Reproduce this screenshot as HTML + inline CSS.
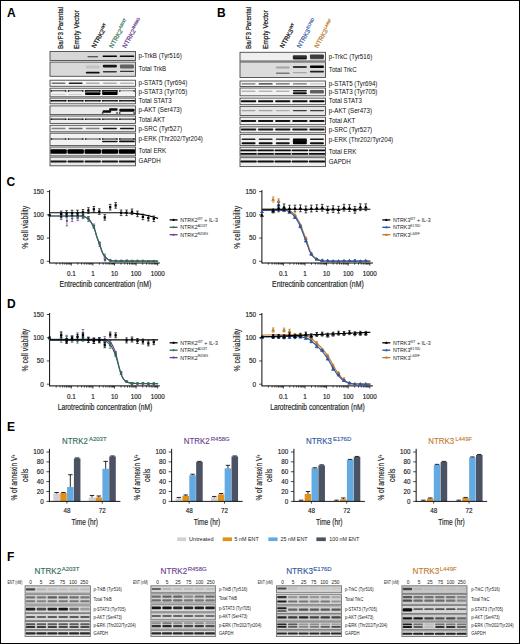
<!DOCTYPE html>
<html><head><meta charset="utf-8"><title>Figure</title>
<style>
html,body{margin:0;padding:0;background:#fff;}
body{width:520px;height:644px;overflow:hidden;font-family:"Liberation Sans", sans-serif;}
svg{display:block;}
svg text{font-family:"Liberation Sans", sans-serif;stroke-linejoin:round;}
svg text.h{stroke-width:0.18px;}
svg text.k{stroke:#222;stroke-width:0.16px;}
</style></head><body>
<svg width="520" height="644" viewBox="0 0 520 644">
<defs>
<filter id="b1" x="-20%" y="-100%" width="140%" height="300%"><feGaussianBlur stdDeviation="0.5"/></filter>
<filter id="b2" x="-20%" y="-100%" width="140%" height="300%"><feGaussianBlur stdDeviation="0.8"/></filter>
<filter id="bb" x="-5%" y="-5%" width="110%" height="110%"><feGaussianBlur stdDeviation="0.35"/></filter>
<filter id="b3" x="-20%" y="-100%" width="140%" height="300%"><feGaussianBlur stdDeviation="0.35"/></filter>

</defs>
<rect x="0" y="0" width="520" height="644" fill="#fff"/>
<text x="7.00" y="16.90" font-size="12" fill="#000" font-weight="bold" >A</text>
<text x="217.00" y="16.70" font-size="12" fill="#000" font-weight="bold" >B</text>
<text x="6.50" y="185.70" font-size="12" fill="#000" font-weight="bold" >C</text>
<text x="7.00" y="307.90" font-size="12" fill="#000" font-weight="bold" >D</text>
<text x="7.00" y="430.70" font-size="12" fill="#000" font-weight="bold" >E</text>
<text x="7.00" y="560.70" font-size="12" fill="#000" font-weight="bold" >F</text>
<g filter="url(#bb)">
<rect x="50.00" y="51.50" width="85.50" height="9.00" fill="#d6d6d6" stroke="none" stroke-width="0" />
<g clip-path="none">
<rect x="87.45" y="56.20" width="10.60" height="1.00" rx="0.50" fill="#000" fill-opacity="0.80" filter="url(#b1)"/>
<rect x="102.58" y="55.40" width="14.54" height="1.60" rx="0.80" fill="#000" fill-opacity="1.00" filter="url(#b1)"/>
<rect x="119.68" y="55.40" width="14.54" height="1.60" rx="0.80" fill="#000" fill-opacity="0.95" filter="url(#b1)"/>
</g>
<rect x="50.00" y="51.50" width="85.50" height="9.00" fill="none" stroke="#4a4a4a" stroke-width="0.9" />
<rect x="50.00" y="62.10" width="85.50" height="14.20" fill="#d9d9d9" stroke="none" stroke-width="0" />
<g clip-path="none">
<rect x="85.74" y="65.50" width="14.02" height="3.00" rx="1.00" fill="#000" fill-opacity="0.10" filter="url(#b1)"/>
<rect x="85.74" y="71.65" width="14.02" height="1.90" rx="0.95" fill="#000" fill-opacity="0.95" filter="url(#b1)"/>
<rect x="102.84" y="64.70" width="14.02" height="2.80" rx="1.00" fill="#000" fill-opacity="0.90" filter="url(#b1)"/>
<rect x="102.84" y="71.10" width="14.02" height="1.40" rx="0.70" fill="#000" fill-opacity="0.75" filter="url(#b1)"/>
<rect x="119.94" y="64.40" width="14.02" height="4.00" rx="1.00" fill="#000" fill-opacity="0.55" filter="url(#b1)"/>
<rect x="119.94" y="70.75" width="14.02" height="1.30" rx="0.65" fill="#000" fill-opacity="0.75" filter="url(#b1)"/>
</g>
<rect x="50.00" y="62.10" width="85.50" height="14.20" fill="none" stroke="#4a4a4a" stroke-width="0.9" />
<rect x="50.00" y="80.20" width="85.50" height="6.10" fill="#f4f4f4" stroke="none" stroke-width="0" />
<g clip-path="none">
<rect x="51.54" y="82.40" width="14.02" height="1.60" rx="0.80" fill="#000" fill-opacity="0.55" filter="url(#b1)"/>
<rect x="68.64" y="82.40" width="14.02" height="1.60" rx="0.80" fill="#000" fill-opacity="0.85" filter="url(#b1)"/>
<rect x="85.74" y="82.40" width="14.02" height="1.60" rx="0.80" fill="#000" fill-opacity="0.30" filter="url(#b1)"/>
<rect x="102.84" y="82.40" width="14.02" height="1.60" rx="0.80" fill="#000" fill-opacity="0.30" filter="url(#b1)"/>
<rect x="119.94" y="82.40" width="14.02" height="1.60" rx="0.80" fill="#000" fill-opacity="0.25" filter="url(#b1)"/>
</g>
<rect x="50.00" y="80.20" width="85.50" height="6.10" fill="none" stroke="#4a4a4a" stroke-width="0.9" />
<rect x="50.00" y="88.20" width="85.50" height="8.60" fill="#f2f2f2" stroke="none" stroke-width="0" />
<g clip-path="none">
<rect x="50.85" y="90.30" width="15.39" height="1.00" rx="0.50" fill="#000" fill-opacity="0.75" filter="url(#b1)"/>
<rect x="67.95" y="90.30" width="15.39" height="1.00" rx="0.50" fill="#000" fill-opacity="0.75" filter="url(#b1)"/>
<rect x="85.05" y="90.30" width="15.39" height="1.00" rx="0.50" fill="#000" fill-opacity="1.00" filter="url(#b1)"/>
<rect x="102.16" y="90.30" width="15.39" height="1.00" rx="0.50" fill="#000" fill-opacity="1.00" filter="url(#b1)"/>
<rect x="119.25" y="90.30" width="15.39" height="1.00" rx="0.50" fill="#000" fill-opacity="0.45" filter="url(#b1)"/>
<rect x="85.05" y="92.40" width="15.39" height="2.60" rx="1.00" fill="#000" fill-opacity="1.00" filter="url(#b1)"/>
<rect x="102.16" y="92.10" width="15.39" height="2.80" rx="1.00" fill="#000" fill-opacity="1.00" filter="url(#b1)"/>
<rect x="85.05" y="89.95" width="15.39" height="4.50" rx="1.00" fill="#000" fill-opacity="0.40" filter="url(#b1)"/>
<rect x="102.16" y="89.95" width="15.39" height="4.50" rx="1.00" fill="#000" fill-opacity="0.50" filter="url(#b1)"/>
<rect x="51.54" y="94.00" width="14.02" height="1.00" rx="0.50" fill="#000" fill-opacity="0.15" filter="url(#b1)"/>
<rect x="68.64" y="94.00" width="14.02" height="1.00" rx="0.50" fill="#000" fill-opacity="0.15" filter="url(#b1)"/>
</g>
<rect x="50.00" y="88.20" width="85.50" height="8.60" fill="none" stroke="#4a4a4a" stroke-width="0.9" />
<rect x="50.00" y="98.10" width="85.50" height="5.70" fill="#eeeeee" stroke="none" stroke-width="0" />
<g clip-path="none">
<rect x="50.68" y="100.05" width="15.73" height="1.50" rx="0.75" fill="#000" fill-opacity="0.90" filter="url(#b1)"/>
<rect x="67.78" y="100.05" width="15.73" height="1.50" rx="0.75" fill="#000" fill-opacity="0.85" filter="url(#b1)"/>
<rect x="84.88" y="100.05" width="15.73" height="1.50" rx="0.75" fill="#000" fill-opacity="0.85" filter="url(#b1)"/>
<rect x="101.98" y="100.05" width="15.73" height="1.50" rx="0.75" fill="#000" fill-opacity="0.85" filter="url(#b1)"/>
<rect x="119.08" y="100.05" width="15.73" height="1.50" rx="0.75" fill="#000" fill-opacity="0.85" filter="url(#b1)"/>
</g>
<rect x="50.00" y="98.10" width="85.50" height="5.70" fill="none" stroke="#4a4a4a" stroke-width="0.9" />
<rect x="50.00" y="105.90" width="85.50" height="8.70" fill="#ebebeb" stroke="none" stroke-width="0" />
<g clip-path="none">
<rect x="102.58" y="110.30" width="8.55" height="2.40" rx="1.00" fill="#000" fill-opacity="0.95" filter="url(#b1)"/>
<rect x="109.08" y="108.20" width="8.55" height="2.60" rx="1.00" fill="#000" fill-opacity="0.95" filter="url(#b1)"/>
<rect x="119.25" y="108.80" width="15.39" height="3.00" rx="1.00" fill="#000" fill-opacity="0.95" filter="url(#b1)"/>
</g>
<rect x="50.00" y="105.90" width="85.50" height="8.70" fill="none" stroke="#4a4a4a" stroke-width="0.9" />
<rect x="50.00" y="116.00" width="85.50" height="7.40" fill="#f0f0f0" stroke="none" stroke-width="0" />
<g clip-path="none">
<rect x="50.68" y="118.60" width="15.73" height="1.20" rx="0.60" fill="#000" fill-opacity="0.80" filter="url(#b1)"/>
<rect x="67.78" y="118.60" width="15.73" height="1.20" rx="0.60" fill="#000" fill-opacity="0.80" filter="url(#b1)"/>
<rect x="84.88" y="118.60" width="15.73" height="1.20" rx="0.60" fill="#000" fill-opacity="0.75" filter="url(#b1)"/>
<rect x="101.98" y="118.60" width="15.73" height="1.20" rx="0.60" fill="#000" fill-opacity="0.75" filter="url(#b1)"/>
<rect x="119.08" y="118.60" width="15.73" height="1.20" rx="0.60" fill="#000" fill-opacity="0.75" filter="url(#b1)"/>
</g>
<rect x="50.00" y="116.00" width="85.50" height="7.40" fill="none" stroke="#4a4a4a" stroke-width="0.9" />
<rect x="50.00" y="125.30" width="85.50" height="6.50" fill="#eeeeee" stroke="none" stroke-width="0" />
<g clip-path="none">
<rect x="51.54" y="127.80" width="14.02" height="1.40" rx="0.70" fill="#000" fill-opacity="0.45" filter="url(#b1)"/>
<rect x="68.64" y="127.80" width="14.02" height="1.40" rx="0.70" fill="#000" fill-opacity="0.55" filter="url(#b1)"/>
<rect x="85.74" y="127.80" width="14.02" height="1.40" rx="0.70" fill="#000" fill-opacity="0.45" filter="url(#b1)"/>
<rect x="102.84" y="127.80" width="14.02" height="1.40" rx="0.70" fill="#000" fill-opacity="0.90" filter="url(#b1)"/>
<rect x="119.94" y="127.80" width="14.02" height="1.40" rx="0.70" fill="#000" fill-opacity="0.90" filter="url(#b1)"/>
</g>
<rect x="50.00" y="125.30" width="85.50" height="6.50" fill="none" stroke="#4a4a4a" stroke-width="0.9" />
<rect x="50.00" y="133.20" width="85.50" height="12.40" fill="#f2f2f2" stroke="none" stroke-width="0" />
<g clip-path="none">
<rect x="50.68" y="138.50" width="15.73" height="1.00" rx="0.50" fill="#000" fill-opacity="0.75" filter="url(#b1)"/>
<rect x="67.78" y="138.50" width="15.73" height="1.00" rx="0.50" fill="#000" fill-opacity="0.75" filter="url(#b1)"/>
<rect x="84.88" y="138.50" width="15.73" height="1.00" rx="0.50" fill="#000" fill-opacity="0.70" filter="url(#b1)"/>
<rect x="101.98" y="138.50" width="15.73" height="1.00" rx="0.50" fill="#000" fill-opacity="0.90" filter="url(#b1)"/>
<rect x="119.08" y="138.50" width="15.73" height="1.00" rx="0.50" fill="#000" fill-opacity="0.95" filter="url(#b1)"/>
<rect x="101.98" y="140.70" width="15.73" height="1.60" rx="0.80" fill="#000" fill-opacity="0.90" filter="url(#b1)"/>
<rect x="119.08" y="140.50" width="15.73" height="1.80" rx="0.90" fill="#000" fill-opacity="0.95" filter="url(#b1)"/>
</g>
<rect x="50.00" y="133.20" width="85.50" height="12.40" fill="none" stroke="#4a4a4a" stroke-width="0.9" />
<rect x="50.00" y="147.00" width="85.50" height="8.90" fill="#e4e4e4" stroke="none" stroke-width="0" />
<g clip-path="none">
<rect x="50.34" y="149.20" width="16.42" height="4.60" rx="1.00" fill="#000" fill-opacity="1.00" filter="url(#b1)"/>
<rect x="67.44" y="149.20" width="16.42" height="4.60" rx="1.00" fill="#000" fill-opacity="1.00" filter="url(#b1)"/>
<rect x="84.54" y="149.20" width="16.42" height="4.60" rx="1.00" fill="#000" fill-opacity="1.00" filter="url(#b1)"/>
<rect x="101.64" y="149.20" width="16.42" height="4.60" rx="1.00" fill="#000" fill-opacity="1.00" filter="url(#b1)"/>
<rect x="118.74" y="149.20" width="16.42" height="4.60" rx="1.00" fill="#000" fill-opacity="1.00" filter="url(#b1)"/>
</g>
<rect x="50.00" y="147.00" width="85.50" height="8.90" fill="none" stroke="#4a4a4a" stroke-width="0.9" />
<rect x="50.00" y="157.10" width="85.50" height="8.70" fill="#eaeaea" stroke="none" stroke-width="0" />
<g clip-path="none">
<rect x="50.34" y="160.50" width="16.42" height="2.00" rx="1.00" fill="#000" fill-opacity="0.90" filter="url(#b1)"/>
<rect x="67.44" y="160.50" width="16.42" height="2.00" rx="1.00" fill="#000" fill-opacity="0.90" filter="url(#b1)"/>
<rect x="84.54" y="160.50" width="16.42" height="2.00" rx="1.00" fill="#000" fill-opacity="0.90" filter="url(#b1)"/>
<rect x="101.64" y="160.50" width="16.42" height="2.00" rx="1.00" fill="#000" fill-opacity="0.90" filter="url(#b1)"/>
<rect x="118.74" y="160.50" width="16.42" height="2.00" rx="1.00" fill="#000" fill-opacity="0.90" filter="url(#b1)"/>
</g>
<rect x="50.00" y="157.10" width="85.50" height="8.70" fill="none" stroke="#4a4a4a" stroke-width="0.9" />
</g>
<text x="0" y="0" font-size="6.6" fill="#111" transform="translate(138.60 57.95) scale(0.94 1)" >p-TrkB (Tyr516)</text>
<text x="0" y="0" font-size="6.6" fill="#111" transform="translate(138.60 71.15) scale(0.94 1)" >Total TrkB</text>
<text x="0" y="0" font-size="6.6" fill="#111" transform="translate(138.60 85.20) scale(0.94 1)" >p-STAT5 (Tyr694)</text>
<text x="0" y="0" font-size="6.6" fill="#111" transform="translate(138.60 94.45) scale(0.94 1)" >p-STAT3 (Tyr705)</text>
<text x="0" y="0" font-size="6.6" fill="#111" transform="translate(138.60 102.90) scale(0.94 1)" >Total STAT3</text>
<text x="0" y="0" font-size="6.6" fill="#111" transform="translate(138.60 112.20) scale(0.94 1)" >p-AKT (Ser473)</text>
<text x="0" y="0" font-size="6.6" fill="#111" transform="translate(138.60 121.65) scale(0.94 1)" >Total AKT</text>
<text x="0" y="0" font-size="6.6" fill="#111" transform="translate(138.60 130.50) scale(0.94 1)" >p-SRC (Tyr527)</text>
<text x="0" y="0" font-size="6.6" fill="#111" transform="translate(138.60 141.35) scale(0.94 1)" >p-ERK (Thr202/Tyr204)</text>
<text x="0" y="0" font-size="6.6" fill="#111" transform="translate(138.60 153.40) scale(0.94 1)" >Total ERK</text>
<text x="0" y="0" font-size="6.6" fill="#111" transform="translate(138.60 163.40) scale(0.94 1)" >GAPDH</text>
<g filter="url(#bb)">
<ellipse cx="51.37" cy="91.00" rx="0.9" ry="0.8" fill="#000" fill-opacity="0.9"/>
<ellipse cx="65.73" cy="91.00" rx="0.9" ry="0.8" fill="#000" fill-opacity="0.9"/>
<ellipse cx="68.47" cy="91.00" rx="0.9" ry="0.8" fill="#000" fill-opacity="0.9"/>
<ellipse cx="82.83" cy="91.00" rx="0.9" ry="0.8" fill="#000" fill-opacity="0.9"/>
<ellipse cx="85.57" cy="91.00" rx="0.9" ry="0.8" fill="#000" fill-opacity="0.9"/>
<ellipse cx="99.93" cy="91.00" rx="0.9" ry="0.8" fill="#000" fill-opacity="0.9"/>
<ellipse cx="102.67" cy="91.00" rx="0.9" ry="0.8" fill="#000" fill-opacity="0.9"/>
<ellipse cx="117.03" cy="91.00" rx="0.9" ry="0.8" fill="#000" fill-opacity="0.9"/>
<ellipse cx="119.77" cy="91.00" rx="0.9" ry="0.8" fill="#000" fill-opacity="0.9"/>
<ellipse cx="134.13" cy="91.00" rx="0.9" ry="0.8" fill="#000" fill-opacity="0.9"/>
<ellipse cx="51.37" cy="100.70" rx="0.9" ry="0.8" fill="#000" fill-opacity="0.9"/>
<ellipse cx="65.73" cy="100.70" rx="0.9" ry="0.8" fill="#000" fill-opacity="0.9"/>
<ellipse cx="68.47" cy="100.70" rx="0.9" ry="0.8" fill="#000" fill-opacity="0.9"/>
<ellipse cx="82.83" cy="100.70" rx="0.9" ry="0.8" fill="#000" fill-opacity="0.9"/>
<ellipse cx="85.57" cy="100.70" rx="0.9" ry="0.8" fill="#000" fill-opacity="0.9"/>
<ellipse cx="99.93" cy="100.70" rx="0.9" ry="0.8" fill="#000" fill-opacity="0.9"/>
<ellipse cx="102.67" cy="100.70" rx="0.9" ry="0.8" fill="#000" fill-opacity="0.9"/>
<ellipse cx="117.03" cy="100.70" rx="0.9" ry="0.8" fill="#000" fill-opacity="0.9"/>
<ellipse cx="119.77" cy="100.70" rx="0.9" ry="0.8" fill="#000" fill-opacity="0.9"/>
<ellipse cx="134.13" cy="100.70" rx="0.9" ry="0.8" fill="#000" fill-opacity="0.9"/>
<ellipse cx="51.37" cy="119.30" rx="0.9" ry="0.8" fill="#000" fill-opacity="0.8"/>
<ellipse cx="65.73" cy="119.30" rx="0.9" ry="0.8" fill="#000" fill-opacity="0.8"/>
<ellipse cx="68.47" cy="119.30" rx="0.9" ry="0.8" fill="#000" fill-opacity="0.8"/>
<ellipse cx="82.83" cy="119.30" rx="0.9" ry="0.8" fill="#000" fill-opacity="0.8"/>
<ellipse cx="85.57" cy="119.30" rx="0.9" ry="0.8" fill="#000" fill-opacity="0.8"/>
<ellipse cx="99.93" cy="119.30" rx="0.9" ry="0.8" fill="#000" fill-opacity="0.8"/>
<ellipse cx="102.67" cy="119.30" rx="0.9" ry="0.8" fill="#000" fill-opacity="0.8"/>
<ellipse cx="117.03" cy="119.30" rx="0.9" ry="0.8" fill="#000" fill-opacity="0.8"/>
<ellipse cx="119.77" cy="119.30" rx="0.9" ry="0.8" fill="#000" fill-opacity="0.8"/>
<ellipse cx="134.13" cy="119.30" rx="0.9" ry="0.8" fill="#000" fill-opacity="0.8"/>
<ellipse cx="51.37" cy="139.00" rx="0.9" ry="0.8" fill="#000" fill-opacity="0.85"/>
<ellipse cx="65.73" cy="139.00" rx="0.9" ry="0.8" fill="#000" fill-opacity="0.85"/>
<ellipse cx="68.47" cy="139.00" rx="0.9" ry="0.8" fill="#000" fill-opacity="0.85"/>
<ellipse cx="82.83" cy="139.00" rx="0.9" ry="0.8" fill="#000" fill-opacity="0.85"/>
<ellipse cx="85.57" cy="139.00" rx="0.9" ry="0.8" fill="#000" fill-opacity="0.85"/>
<ellipse cx="99.93" cy="139.00" rx="0.9" ry="0.8" fill="#000" fill-opacity="0.85"/>
<ellipse cx="102.67" cy="139.00" rx="0.9" ry="0.8" fill="#000" fill-opacity="0.85"/>
<ellipse cx="117.03" cy="139.00" rx="0.9" ry="0.8" fill="#000" fill-opacity="0.85"/>
<ellipse cx="119.77" cy="139.00" rx="0.9" ry="0.8" fill="#000" fill-opacity="0.85"/>
<ellipse cx="134.13" cy="139.00" rx="0.9" ry="0.8" fill="#000" fill-opacity="0.85"/>
<ellipse cx="102.67" cy="113.00" rx="0.9" ry="0.8" fill="#000" fill-opacity="0.95"/>
<ellipse cx="117.03" cy="113.00" rx="0.9" ry="0.8" fill="#000" fill-opacity="0.95"/>
<ellipse cx="119.77" cy="113.00" rx="0.9" ry="0.8" fill="#000" fill-opacity="0.95"/>
<ellipse cx="134.13" cy="113.00" rx="0.9" ry="0.8" fill="#000" fill-opacity="0.95"/>
</g>
<g filter="url(#bb)">
<rect x="240.00" y="52.30" width="85.50" height="8.70" fill="#efefef" stroke="none" stroke-width="0" />
<g clip-path="none">
<rect x="292.84" y="55.20" width="14.02" height="4.00" rx="1.00" fill="#000" fill-opacity="0.80" filter="url(#b1)"/>
<rect x="292.84" y="57.80" width="14.02" height="1.60" rx="0.80" fill="#000" fill-opacity="0.50" filter="url(#b1)"/>
<rect x="309.94" y="54.50" width="14.02" height="4.20" rx="1.00" fill="#000" fill-opacity="0.75" filter="url(#b1)"/>
<rect x="309.94" y="58.20" width="14.02" height="1.20" rx="0.60" fill="#000" fill-opacity="0.40" filter="url(#b1)"/>
</g>
<rect x="240.00" y="52.30" width="85.50" height="8.70" fill="none" stroke="#4a4a4a" stroke-width="0.9" />
<rect x="240.00" y="62.00" width="85.50" height="15.50" fill="#dcdcdc" stroke="none" stroke-width="0" />
<g clip-path="none">
<rect x="275.74" y="66.50" width="14.02" height="2.00" rx="1.00" fill="#000" fill-opacity="0.25" filter="url(#b1)"/>
<rect x="275.74" y="72.45" width="14.02" height="1.50" rx="0.75" fill="#000" fill-opacity="0.45" filter="url(#b1)"/>
<rect x="292.84" y="66.00" width="14.02" height="2.00" rx="1.00" fill="#000" fill-opacity="0.75" filter="url(#b1)"/>
<rect x="292.84" y="72.00" width="14.02" height="1.20" rx="0.60" fill="#000" fill-opacity="0.25" filter="url(#b1)"/>
<rect x="309.94" y="65.60" width="14.02" height="2.40" rx="1.00" fill="#000" fill-opacity="1.00" filter="url(#b1)"/>
<rect x="309.94" y="70.70" width="14.02" height="1.80" rx="0.90" fill="#000" fill-opacity="0.85" filter="url(#b1)"/>
</g>
<rect x="240.00" y="62.00" width="85.50" height="15.50" fill="none" stroke="#4a4a4a" stroke-width="0.9" />
<rect x="240.00" y="81.00" width="85.50" height="5.50" fill="#f4f4f4" stroke="none" stroke-width="0" />
<g clip-path="none">
<rect x="241.54" y="83.30" width="14.02" height="1.20" rx="0.60" fill="#000" fill-opacity="0.55" filter="url(#b1)"/>
<rect x="258.64" y="83.30" width="14.02" height="1.20" rx="0.60" fill="#000" fill-opacity="0.80" filter="url(#b1)"/>
<rect x="275.74" y="83.30" width="14.02" height="1.20" rx="0.60" fill="#000" fill-opacity="0.60" filter="url(#b1)"/>
<rect x="292.84" y="83.30" width="14.02" height="1.20" rx="0.60" fill="#000" fill-opacity="0.55" filter="url(#b1)"/>
<rect x="309.94" y="83.30" width="14.02" height="1.20" rx="0.60" fill="#000" fill-opacity="0.20" filter="url(#b1)"/>
</g>
<rect x="240.00" y="81.00" width="85.50" height="5.50" fill="none" stroke="#4a4a4a" stroke-width="0.9" />
<rect x="240.00" y="88.00" width="85.50" height="7.80" fill="#f2f2f2" stroke="none" stroke-width="0" />
<g clip-path="none">
<rect x="241.54" y="90.50" width="14.02" height="1.40" rx="0.70" fill="#000" fill-opacity="0.25" filter="url(#b1)"/>
<rect x="258.64" y="90.50" width="14.02" height="1.40" rx="0.70" fill="#000" fill-opacity="0.25" filter="url(#b1)"/>
<rect x="275.74" y="90.50" width="14.02" height="1.40" rx="0.70" fill="#000" fill-opacity="0.25" filter="url(#b1)"/>
<rect x="292.84" y="90.50" width="14.02" height="1.40" rx="0.70" fill="#000" fill-opacity="0.00" filter="url(#b1)"/>
<rect x="309.94" y="90.50" width="14.02" height="1.40" rx="0.70" fill="#000" fill-opacity="0.00" filter="url(#b1)"/>
<rect x="292.84" y="89.90" width="14.02" height="1.60" rx="0.80" fill="#000" fill-opacity="0.90" filter="url(#b1)"/>
<rect x="292.84" y="92.20" width="14.02" height="2.00" rx="1.00" fill="#000" fill-opacity="0.95" filter="url(#b1)"/>
<rect x="309.94" y="90.00" width="14.02" height="3.60" rx="1.00" fill="#000" fill-opacity="0.60" filter="url(#b1)"/>
</g>
<rect x="240.00" y="88.00" width="85.50" height="7.80" fill="none" stroke="#4a4a4a" stroke-width="0.9" />
<rect x="240.00" y="98.10" width="85.50" height="6.60" fill="#f2f2f2" stroke="none" stroke-width="0" />
<g clip-path="none">
<rect x="240.86" y="100.15" width="15.39" height="2.10" rx="1.00" fill="#000" fill-opacity="0.95" filter="url(#b1)"/>
<rect x="257.95" y="100.15" width="15.39" height="2.10" rx="1.00" fill="#000" fill-opacity="0.95" filter="url(#b1)"/>
<rect x="275.06" y="100.15" width="15.39" height="2.10" rx="1.00" fill="#000" fill-opacity="0.95" filter="url(#b1)"/>
<rect x="292.16" y="100.15" width="15.39" height="2.10" rx="1.00" fill="#000" fill-opacity="0.95" filter="url(#b1)"/>
<rect x="309.25" y="100.15" width="15.39" height="2.10" rx="1.00" fill="#000" fill-opacity="1.00" filter="url(#b1)"/>
</g>
<rect x="240.00" y="98.10" width="85.50" height="6.60" fill="none" stroke="#4a4a4a" stroke-width="0.9" />
<rect x="240.00" y="106.40" width="85.50" height="9.10" fill="#e6e6e6" stroke="none" stroke-width="0" />
<g clip-path="none">
<rect x="241.54" y="109.90" width="14.02" height="1.40" rx="0.70" fill="#000" fill-opacity="0.30" filter="url(#b1)"/>
<rect x="258.64" y="109.90" width="14.02" height="1.40" rx="0.70" fill="#000" fill-opacity="0.30" filter="url(#b1)"/>
<rect x="275.74" y="109.90" width="14.02" height="1.40" rx="0.70" fill="#000" fill-opacity="0.25" filter="url(#b1)"/>
<rect x="292.84" y="109.90" width="14.02" height="1.40" rx="0.70" fill="#000" fill-opacity="0.75" filter="url(#b1)"/>
<rect x="309.94" y="109.90" width="14.02" height="1.40" rx="0.70" fill="#000" fill-opacity="0.75" filter="url(#b1)"/>
</g>
<rect x="240.00" y="106.40" width="85.50" height="9.10" fill="none" stroke="#4a4a4a" stroke-width="0.9" />
<rect x="240.00" y="117.20" width="85.50" height="7.50" fill="#f0f0f0" stroke="none" stroke-width="0" />
<g clip-path="none">
<rect x="240.86" y="120.00" width="15.39" height="2.00" rx="1.00" fill="#000" fill-opacity="0.90" filter="url(#b1)"/>
<rect x="257.95" y="120.00" width="15.39" height="2.00" rx="1.00" fill="#000" fill-opacity="0.90" filter="url(#b1)"/>
<rect x="275.06" y="120.00" width="15.39" height="2.00" rx="1.00" fill="#000" fill-opacity="0.90" filter="url(#b1)"/>
<rect x="292.16" y="120.00" width="15.39" height="2.00" rx="1.00" fill="#000" fill-opacity="0.90" filter="url(#b1)"/>
<rect x="309.25" y="120.00" width="15.39" height="2.00" rx="1.00" fill="#000" fill-opacity="0.90" filter="url(#b1)"/>
</g>
<rect x="240.00" y="117.20" width="85.50" height="7.50" fill="none" stroke="#4a4a4a" stroke-width="0.9" />
<rect x="240.00" y="126.80" width="85.50" height="6.00" fill="#eeeeee" stroke="none" stroke-width="0" />
<g clip-path="none">
<rect x="240.86" y="128.40" width="15.39" height="2.00" rx="1.00" fill="#000" fill-opacity="0.90" filter="url(#b1)"/>
<rect x="257.95" y="128.40" width="15.39" height="2.00" rx="1.00" fill="#000" fill-opacity="0.90" filter="url(#b1)"/>
<rect x="275.06" y="128.40" width="15.39" height="2.00" rx="1.00" fill="#000" fill-opacity="0.90" filter="url(#b1)"/>
<rect x="292.16" y="128.40" width="15.39" height="2.00" rx="1.00" fill="#000" fill-opacity="0.90" filter="url(#b1)"/>
<rect x="309.25" y="128.40" width="15.39" height="2.00" rx="1.00" fill="#000" fill-opacity="0.90" filter="url(#b1)"/>
</g>
<rect x="240.00" y="126.80" width="85.50" height="6.00" fill="none" stroke="#4a4a4a" stroke-width="0.9" />
<rect x="240.00" y="134.40" width="85.50" height="11.20" fill="#f0f0f0" stroke="none" stroke-width="0" />
<g clip-path="none">
<rect x="241.54" y="138.45" width="14.02" height="1.50" rx="0.75" fill="#000" fill-opacity="0.85" filter="url(#b1)"/>
<rect x="258.64" y="138.45" width="14.02" height="1.50" rx="0.75" fill="#000" fill-opacity="0.80" filter="url(#b1)"/>
<rect x="275.74" y="138.45" width="14.02" height="1.50" rx="0.75" fill="#000" fill-opacity="0.75" filter="url(#b1)"/>
<rect x="292.84" y="138.45" width="14.02" height="1.50" rx="0.75" fill="#000" fill-opacity="1.00" filter="url(#b1)"/>
<rect x="309.94" y="138.45" width="14.02" height="1.50" rx="0.75" fill="#000" fill-opacity="0.90" filter="url(#b1)"/>
<rect x="241.54" y="142.15" width="14.02" height="2.10" rx="1.00" fill="#000" fill-opacity="0.95" filter="url(#b1)"/>
<rect x="258.64" y="142.15" width="14.02" height="2.10" rx="1.00" fill="#000" fill-opacity="0.95" filter="url(#b1)"/>
<rect x="275.74" y="142.15" width="14.02" height="2.10" rx="1.00" fill="#000" fill-opacity="0.90" filter="url(#b1)"/>
<rect x="292.84" y="142.15" width="14.02" height="2.10" rx="1.00" fill="#000" fill-opacity="1.00" filter="url(#b1)"/>
<rect x="309.94" y="142.15" width="14.02" height="2.10" rx="1.00" fill="#000" fill-opacity="0.95" filter="url(#b1)"/>
<rect x="292.84" y="139.40" width="14.02" height="3.60" rx="1.00" fill="#000" fill-opacity="0.95" filter="url(#b1)"/>
</g>
<rect x="240.00" y="134.40" width="85.50" height="11.20" fill="none" stroke="#4a4a4a" stroke-width="0.9" />
<rect x="240.00" y="147.20" width="85.50" height="8.90" fill="#ececec" stroke="none" stroke-width="0" />
<g clip-path="none">
<rect x="240.26" y="149.45" width="16.59" height="1.70" rx="0.85" fill="#000" fill-opacity="0.95" filter="url(#b1)"/>
<rect x="257.36" y="149.45" width="16.59" height="1.70" rx="0.85" fill="#000" fill-opacity="0.95" filter="url(#b1)"/>
<rect x="274.46" y="149.45" width="16.59" height="1.70" rx="0.85" fill="#000" fill-opacity="0.95" filter="url(#b1)"/>
<rect x="291.56" y="149.45" width="16.59" height="1.70" rx="0.85" fill="#000" fill-opacity="0.95" filter="url(#b1)"/>
<rect x="308.66" y="149.45" width="16.59" height="1.70" rx="0.85" fill="#000" fill-opacity="0.95" filter="url(#b1)"/>
<rect x="240.26" y="153.05" width="16.59" height="1.70" rx="0.85" fill="#000" fill-opacity="0.95" filter="url(#b1)"/>
<rect x="257.36" y="153.05" width="16.59" height="1.70" rx="0.85" fill="#000" fill-opacity="0.95" filter="url(#b1)"/>
<rect x="274.46" y="153.05" width="16.59" height="1.70" rx="0.85" fill="#000" fill-opacity="0.95" filter="url(#b1)"/>
<rect x="291.56" y="153.05" width="16.59" height="1.70" rx="0.85" fill="#000" fill-opacity="0.95" filter="url(#b1)"/>
<rect x="308.66" y="153.05" width="16.59" height="1.70" rx="0.85" fill="#000" fill-opacity="0.95" filter="url(#b1)"/>
</g>
<rect x="240.00" y="147.20" width="85.50" height="8.90" fill="none" stroke="#4a4a4a" stroke-width="0.9" />
<rect x="240.00" y="157.70" width="85.50" height="8.90" fill="#eeeeee" stroke="none" stroke-width="0" />
<g clip-path="none">
<rect x="240.26" y="160.60" width="16.59" height="2.00" rx="1.00" fill="#000" fill-opacity="0.95" filter="url(#b1)"/>
<rect x="257.36" y="160.60" width="16.59" height="2.00" rx="1.00" fill="#000" fill-opacity="0.95" filter="url(#b1)"/>
<rect x="274.46" y="160.60" width="16.59" height="2.00" rx="1.00" fill="#000" fill-opacity="0.95" filter="url(#b1)"/>
<rect x="291.56" y="160.60" width="16.59" height="2.00" rx="1.00" fill="#000" fill-opacity="0.95" filter="url(#b1)"/>
<rect x="308.66" y="160.60" width="16.59" height="2.00" rx="1.00" fill="#000" fill-opacity="0.95" filter="url(#b1)"/>
</g>
<rect x="240.00" y="157.70" width="85.50" height="8.90" fill="none" stroke="#4a4a4a" stroke-width="0.9" />
</g>
<text x="0" y="0" font-size="6.6" fill="#111" transform="translate(328.80 58.60) scale(0.94 1)" >p-TrkC (Tyr516)</text>
<text x="0" y="0" font-size="6.6" fill="#111" transform="translate(328.80 71.70) scale(0.94 1)" >Total TrkC</text>
<text x="0" y="0" font-size="6.6" fill="#111" transform="translate(328.80 85.70) scale(0.94 1)" >p-STAT5 (Tyr694)</text>
<text x="0" y="0" font-size="6.6" fill="#111" transform="translate(328.80 93.85) scale(0.94 1)" >p-STAT3 (Tyr705)</text>
<text x="0" y="0" font-size="6.6" fill="#111" transform="translate(328.80 103.35) scale(0.94 1)" >Total STAT3</text>
<text x="0" y="0" font-size="6.6" fill="#111" transform="translate(328.80 112.90) scale(0.94 1)" >p-AKT (Ser473)</text>
<text x="0" y="0" font-size="6.6" fill="#111" transform="translate(328.80 122.90) scale(0.94 1)" >Total AKT</text>
<text x="0" y="0" font-size="6.6" fill="#111" transform="translate(328.80 131.75) scale(0.94 1)" >p-SRC (Tyr527)</text>
<text x="0" y="0" font-size="6.6" fill="#111" transform="translate(328.80 141.95) scale(0.94 1)" >p-ERK (Thr202/Tyr204)</text>
<text x="0" y="0" font-size="6.6" fill="#111" transform="translate(328.80 153.60) scale(0.94 1)" >Total ERK</text>
<text x="0" y="0" font-size="6.6" fill="#111" transform="translate(328.80 164.10) scale(0.94 1)" >GAPDH</text>
<text x="62.60" y="48.90" font-size="6.5" fill="#111" textLength="42" lengthAdjust="spacingAndGlyphs" transform="rotate(-90 62.60 48.90)" stroke="#111" stroke-width="0.2">Ba/F3 Parental</text>
<text x="79.20" y="48.90" font-size="6.5" fill="#111" textLength="38.8" lengthAdjust="spacingAndGlyphs" transform="rotate(-90 79.20 48.90)" stroke="#111" stroke-width="0.2">Empty Vector</text>
<text x="250.60" y="48.90" font-size="6.5" fill="#111" textLength="42" lengthAdjust="spacingAndGlyphs" transform="rotate(-90 250.60 48.90)" stroke="#111" stroke-width="0.2">Ba/F3 Parental</text>
<text x="268.20" y="48.90" font-size="6.5" fill="#111" textLength="38.8" lengthAdjust="spacingAndGlyphs" transform="rotate(-90 268.20 48.90)" stroke="#111" stroke-width="0.2">Empty Vector</text>
<text x="95.00" y="48.50" font-size="6.3" fill="#111" stroke="#111" stroke-width="0.22" transform="rotate(-60 95.00 48.50)">NTRK2<tspan font-size="3.91" dy="-2.52">WT</tspan></text>
<text x="112.60" y="48.50" font-size="6.3" fill="#3c7a5c" stroke="#3c7a5c" stroke-width="0.22" transform="rotate(-60 112.60 48.50)">NTRK2<tspan font-size="3.91" dy="-2.52">A203T</tspan></text>
<text x="125.80" y="48.50" font-size="6.3" fill="#6a3f8f" stroke="#6a3f8f" stroke-width="0.22" transform="rotate(-60 125.80 48.50)">NTRK2<tspan font-size="3.91" dy="-2.52">R458G</tspan></text>
<text x="283.30" y="48.50" font-size="6.3" fill="#111" stroke="#111" stroke-width="0.22" transform="rotate(-60 283.30 48.50)">NTRK3<tspan font-size="3.91" dy="-2.52">WT</tspan></text>
<text x="300.30" y="48.50" font-size="6.3" fill="#3a62a8" stroke="#3a62a8" stroke-width="0.22" transform="rotate(-60 300.30 48.50)">NTRK3<tspan font-size="3.91" dy="-2.52">E176D</tspan></text>
<text x="317.80" y="48.50" font-size="6.3" fill="#c07a30" stroke="#c07a30" stroke-width="0.22" transform="rotate(-60 317.80 48.50)">NTRK3<tspan font-size="3.91" dy="-2.52">L449F</tspan></text>
<line x1="49.60" y1="190.10" x2="49.60" y2="263.40" stroke="#000" stroke-width="0.95" />
<line x1="46.80" y1="261.30" x2="49.60" y2="261.30" stroke="#000" stroke-width="0.7" />
<text x="0" y="0" font-size="7.0" fill="#222" transform="translate(43.90 263.60) scale(0.92 1)" text-anchor="end" class="k">0</text>
<line x1="46.80" y1="238.06" x2="49.60" y2="238.06" stroke="#000" stroke-width="0.7" />
<text x="0" y="0" font-size="7.0" fill="#222" transform="translate(43.90 240.37) scale(0.92 1)" text-anchor="end" class="k">50</text>
<line x1="46.80" y1="214.83" x2="49.60" y2="214.83" stroke="#000" stroke-width="0.7" />
<text x="0" y="0" font-size="7.0" fill="#222" transform="translate(43.90 217.13) scale(0.92 1)" text-anchor="end" class="k">100</text>
<line x1="46.80" y1="191.60" x2="49.60" y2="191.60" stroke="#000" stroke-width="0.7" />
<text x="0" y="0" font-size="7.0" fill="#222" transform="translate(43.90 193.90) scale(0.92 1)" text-anchor="end" class="k">150</text>
<line x1="49.60" y1="263.00" x2="159.80" y2="263.00" stroke="#000" stroke-width="1.0" />
<path d="M56.20 263.00v1.6M60.01 263.00v1.6M62.70 263.00v1.6M64.80 263.00v1.6M66.51 263.00v1.6M67.95 263.00v1.6M69.21 263.00v1.6M70.31 263.00v1.6M71.30 263.00v2.6M77.80 263.00v1.6M81.61 263.00v1.6M84.30 263.00v1.6M86.40 263.00v1.6M88.11 263.00v1.6M89.55 263.00v1.6M90.81 263.00v1.6M91.91 263.00v1.6M92.90 263.00v2.6M99.40 263.00v1.6M103.21 263.00v1.6M105.90 263.00v1.6M108.00 263.00v1.6M109.71 263.00v1.6M111.15 263.00v1.6M112.41 263.00v1.6M113.51 263.00v1.6M114.50 263.00v2.6M121.00 263.00v1.6M124.81 263.00v1.6M127.50 263.00v1.6M129.60 263.00v1.6M131.31 263.00v1.6M132.75 263.00v1.6M134.01 263.00v1.6M135.11 263.00v1.6M136.10 263.00v2.6M142.60 263.00v1.6M146.41 263.00v1.6M149.10 263.00v1.6M151.20 263.00v1.6M152.91 263.00v1.6M154.35 263.00v1.6M155.61 263.00v1.6M156.71 263.00v1.6M157.70 263.00v2.6" stroke="#000" stroke-width="0.75" fill="none"/>
<text x="0" y="0" font-size="7.0" fill="#222" transform="translate(71.30 275.90) scale(0.9 1)" text-anchor="middle" class="k">0.1</text>
<text x="0" y="0" font-size="7.0" fill="#222" transform="translate(92.90 275.90) scale(0.9 1)" text-anchor="middle" class="k">1</text>
<text x="0" y="0" font-size="7.0" fill="#222" transform="translate(114.50 275.90) scale(0.9 1)" text-anchor="middle" class="k">10</text>
<text x="0" y="0" font-size="7.0" fill="#222" transform="translate(136.10 275.90) scale(0.9 1)" text-anchor="middle" class="k">100</text>
<text x="0" y="0" font-size="7.0" fill="#222" transform="translate(157.70 275.90) scale(0.9 1)" text-anchor="middle" class="k">1000</text>
<text x="59.60" y="287.20" font-size="8.2" fill="#222" textLength="91.6" lengthAdjust="spacingAndGlyphs" class="k">Entrectinib concentration (nM)</text>
<text x="27.60" y="227.25" font-size="8.2" fill="#222" text-anchor="middle" textLength="42.8" lengthAdjust="spacingAndGlyphs" transform="rotate(-90 27.60 227.25)" class="k">% cell viability</text>
<polyline points="49.60,215.99 50.10,215.99 50.60,215.99 51.10,215.99 51.60,215.99 52.10,215.99 52.60,215.99 53.10,215.99 53.60,215.99 54.10,215.99 54.60,215.99 55.10,215.99 55.60,215.99 56.10,215.99 56.60,215.99 57.10,215.99 57.60,215.99 58.10,215.99 58.60,215.99 59.10,215.99 59.60,215.99 60.10,215.99 60.60,215.99 61.10,215.99 61.60,215.99 62.10,215.99 62.60,215.99 63.10,215.99 63.60,215.99 64.10,215.99 64.60,215.99 65.10,215.99 65.60,215.99 66.10,215.99 66.60,215.99 67.10,215.99 67.60,215.99 68.10,215.99 68.60,215.99 69.10,215.99 69.60,215.99 70.10,215.99 70.60,215.99 71.10,215.99 71.60,215.99 72.10,215.99 72.60,215.99 73.10,215.99 73.60,215.99 74.10,215.99 74.60,215.99 75.10,215.99 75.60,215.99 76.10,215.99 76.60,215.99 77.10,215.99 77.60,215.99 78.10,215.99 78.60,215.99 79.10,215.99 79.60,215.99 80.10,216.00 80.60,216.02 81.10,216.07 81.60,216.13 82.10,216.21 82.60,216.30 83.10,216.39 83.60,216.50 84.10,216.64 84.60,216.81 85.10,217.02 85.60,217.25 86.10,217.52 86.60,217.81 87.10,218.12 87.60,218.46 88.10,218.82 88.60,219.21 89.10,219.72 89.60,220.32 90.10,221.00 90.60,221.74 91.10,222.52 91.60,223.33 92.10,224.16 92.60,225.06 93.10,226.04 93.60,227.11 94.10,228.28 94.60,229.59 95.10,231.17 95.60,232.92 96.10,234.70 96.60,236.40 97.10,237.89 97.60,239.23 98.10,240.49 98.60,241.73 99.10,243.02 99.60,244.39 100.10,245.97 100.60,247.66 101.10,249.33 101.60,250.84 102.10,252.03 102.60,253.06 103.10,254.02 103.60,254.89 104.10,255.68 104.60,256.39 105.10,256.99 105.60,257.50 106.10,257.97 106.60,258.42 107.10,258.84 107.60,259.23 108.10,259.56 108.60,259.85 109.10,260.08 109.60,260.25 110.10,260.37 110.60,260.49 111.10,260.59 111.60,260.69 112.10,260.78 112.60,260.86 113.10,260.93 113.60,260.99 114.10,261.04 114.60,261.08 115.10,261.10 115.60,261.11 116.10,261.11 116.60,261.11 117.10,261.11 117.60,261.11 118.10,261.11 118.60,261.11 119.10,261.11 119.60,261.11 120.10,261.11 120.60,261.11 121.10,261.11 121.60,261.11 122.10,261.11 122.60,261.11 123.10,261.11 123.60,261.11 124.10,261.11 124.60,261.11 125.10,261.11 125.60,261.11 126.10,261.11 126.60,261.11 127.10,261.11 127.60,261.11 128.10,261.11 128.60,261.11 129.10,261.11 129.60,261.11 130.10,261.11 130.60,261.11 131.10,261.11 131.60,261.11 132.10,261.11 132.60,261.11 133.10,261.11 133.60,261.11 134.10,261.11 134.60,261.11 135.10,261.11 135.60,261.11 136.10,261.11 136.60,261.11 137.10,261.11 137.60,261.11 138.10,261.11 138.60,261.11 139.10,261.11 139.60,261.11 140.10,261.11 140.60,261.11 141.10,261.11 141.60,261.11 142.10,261.11 142.60,261.11 143.10,261.11 143.60,261.11 144.10,261.11 144.60,261.11 145.10,261.11 145.60,261.11 146.10,261.11 146.60,261.11 147.10,261.11 147.60,261.11 148.10,261.11 148.60,261.11 149.10,261.11 149.60,261.11 150.10,261.11 150.60,261.11 151.10,261.11 151.60,261.11 152.10,261.11 152.60,261.11 153.10,261.11 153.60,261.11 154.10,261.11 154.60,261.11 155.10,261.11 155.60,261.11 156.10,261.11 156.60,261.11 157.10,261.11 157.60,261.11 158.10,261.11" fill="none" stroke="#6b3d8e" stroke-width="1.15"/>
<path d="M66.90 215.87V225.87M65.60 215.87H68.20M65.60 225.87H68.20" stroke="#6b3d8e" stroke-width="0.7" fill="none"/>
<circle cx="66.90" cy="220.87" r="1.15" fill="#6b3d8e"/>
<path d="M72.20 215.55V221.55M70.90 215.55H73.50M70.90 221.55H73.50" stroke="#6b3d8e" stroke-width="0.7" fill="none"/>
<circle cx="72.20" cy="218.55" r="1.15" fill="#6b3d8e"/>
<path d="M61.15 214.65V219.65M59.85 214.65H62.45M59.85 219.65H62.45" stroke="#6b3d8e" stroke-width="0.7" fill="none"/>
<circle cx="61.15" cy="217.15" r="1.15" fill="#6b3d8e"/>
<path d="M77.80 214.62V220.62M76.50 214.62H79.10M76.50 220.62H79.10" stroke="#6b3d8e" stroke-width="0.7" fill="none"/>
<circle cx="77.80" cy="217.62" r="1.15" fill="#6b3d8e"/>
<path d="M83.10 214.69V218.69M81.80 214.69H84.40M81.80 218.69H84.40" stroke="#6b3d8e" stroke-width="0.7" fill="none"/>
<circle cx="83.10" cy="216.69" r="1.15" fill="#6b3d8e"/>
<path d="M88.40 216.51V221.51M87.10 216.51H89.70M87.10 221.51H89.70" stroke="#6b3d8e" stroke-width="0.7" fill="none"/>
<circle cx="88.40" cy="219.01" r="1.15" fill="#6b3d8e"/>
<path d="M93.90 223.98V227.98M92.60 223.98H95.20M92.60 227.98H95.20" stroke="#6b3d8e" stroke-width="0.7" fill="none"/>
<circle cx="93.90" cy="225.98" r="1.15" fill="#6b3d8e"/>
<path d="M99.70 242.57V246.57M98.40 242.57H101.00M98.40 246.57H101.00" stroke="#6b3d8e" stroke-width="0.7" fill="none"/>
<circle cx="99.70" cy="244.57" r="1.15" fill="#6b3d8e"/>
<path d="M105.00 258.91V260.91M103.70 258.91H106.30M103.70 260.91H106.30" stroke="#6b3d8e" stroke-width="0.7" fill="none"/>
<circle cx="105.00" cy="259.91" r="1.15" fill="#6b3d8e"/>
<path d="M110.50 260.34V261.34M109.20 260.34H111.80M109.20 261.34H111.80" stroke="#6b3d8e" stroke-width="0.7" fill="none"/>
<circle cx="110.50" cy="260.84" r="1.15" fill="#6b3d8e"/>
<path d="M115.90 260.34V261.34M114.60 260.34H117.20M114.60 261.34H117.20" stroke="#6b3d8e" stroke-width="0.7" fill="none"/>
<circle cx="115.90" cy="260.84" r="1.15" fill="#6b3d8e"/>
<path d="M121.60 260.43V261.43M120.30 260.43H122.90M120.30 261.43H122.90" stroke="#6b3d8e" stroke-width="0.7" fill="none"/>
<circle cx="121.60" cy="260.93" r="1.15" fill="#6b3d8e"/>
<path d="M126.90 260.10V261.10M125.60 260.10H128.20M125.60 261.10H128.20" stroke="#6b3d8e" stroke-width="0.7" fill="none"/>
<circle cx="126.90" cy="260.60" r="1.15" fill="#6b3d8e"/>
<path d="M132.20 260.57V261.57M130.90 260.57H133.50M130.90 261.57H133.50" stroke="#6b3d8e" stroke-width="0.7" fill="none"/>
<circle cx="132.20" cy="261.07" r="1.15" fill="#6b3d8e"/>
<polyline points="49.60,215.99 50.10,215.99 50.60,215.99 51.10,215.99 51.60,215.99 52.10,215.99 52.60,215.99 53.10,215.99 53.60,215.99 54.10,215.99 54.60,215.99 55.10,215.99 55.60,215.99 56.10,215.99 56.60,215.99 57.10,215.99 57.60,215.99 58.10,215.99 58.60,215.99 59.10,215.99 59.60,215.99 60.10,215.99 60.60,215.99 61.10,215.99 61.60,215.99 62.10,215.99 62.60,215.99 63.10,215.99 63.60,215.99 64.10,215.99 64.60,215.99 65.10,215.99 65.60,215.99 66.10,215.99 66.60,215.99 67.10,215.99 67.60,215.99 68.10,215.99 68.60,215.99 69.10,215.99 69.60,215.99 70.10,215.99 70.60,215.99 71.10,215.99 71.60,215.99 72.10,215.99 72.60,215.99 73.10,215.99 73.60,215.99 74.10,215.99 74.60,215.99 75.10,215.99 75.60,215.99 76.10,215.99 76.60,215.99 77.10,215.99 77.60,215.99 78.10,215.99 78.60,215.99 79.10,215.99 79.60,215.99 80.10,215.99 80.60,216.01 81.10,216.05 81.60,216.11 82.10,216.18 82.60,216.26 83.10,216.35 83.60,216.45 84.10,216.58 84.60,216.74 85.10,216.93 85.60,217.16 86.10,217.41 86.60,217.69 87.10,217.99 87.60,218.32 88.10,218.67 88.60,219.04 89.10,219.50 89.60,220.07 90.10,220.71 90.60,221.43 91.10,222.20 91.60,223.01 92.10,223.82 92.60,224.69 93.10,225.64 93.60,226.67 94.10,227.80 94.60,229.03 95.10,230.51 95.60,232.21 96.10,233.99 96.60,235.74 97.10,237.32 97.60,238.71 98.10,239.99 98.60,241.24 99.10,242.49 99.60,243.83 100.10,245.32 100.60,246.98 101.10,248.68 101.60,250.26 102.10,251.60 102.60,252.66 103.10,253.64 103.60,254.55 104.10,255.38 104.60,256.12 105.10,256.76 105.60,257.30 106.10,257.79 106.60,258.25 107.10,258.68 107.60,259.08 108.10,259.43 108.60,259.74 109.10,260.00 109.60,260.19 110.10,260.33 110.60,260.44 111.10,260.55 111.60,260.65 112.10,260.75 112.60,260.83 113.10,260.91 113.60,260.97 114.10,261.02 114.60,261.07 115.10,261.10 115.60,261.11 116.10,261.11 116.60,261.11 117.10,261.11 117.60,261.11 118.10,261.11 118.60,261.11 119.10,261.11 119.60,261.11 120.10,261.11 120.60,261.11 121.10,261.11 121.60,261.11 122.10,261.11 122.60,261.11 123.10,261.11 123.60,261.11 124.10,261.11 124.60,261.11 125.10,261.11 125.60,261.11 126.10,261.11 126.60,261.11 127.10,261.11 127.60,261.11 128.10,261.11 128.60,261.11 129.10,261.11 129.60,261.11 130.10,261.11 130.60,261.11 131.10,261.11 131.60,261.11 132.10,261.11 132.60,261.11 133.10,261.11 133.60,261.11 134.10,261.11 134.60,261.11 135.10,261.11 135.60,261.11 136.10,261.11 136.60,261.11 137.10,261.11 137.60,261.11 138.10,261.11 138.60,261.11 139.10,261.11 139.60,261.11 140.10,261.11 140.60,261.11 141.10,261.11 141.60,261.11 142.10,261.11 142.60,261.11 143.10,261.11 143.60,261.11 144.10,261.11 144.60,261.11 145.10,261.11 145.60,261.11 146.10,261.11 146.60,261.11 147.10,261.11 147.60,261.11 148.10,261.11 148.60,261.11 149.10,261.11 149.60,261.11 150.10,261.11 150.60,261.11 151.10,261.11 151.60,261.11 152.10,261.11 152.60,261.11 153.10,261.11 153.60,261.11 154.10,261.11 154.60,261.11 155.10,261.11 155.60,261.11 156.10,261.11 156.60,261.11 157.10,261.11 157.60,261.11 158.10,261.11" fill="none" stroke="#2f6b55" stroke-width="1.15"/>
<circle cx="49.60" cy="215.99" r="1.15" fill="#2f6b55"/>
<path d="M61.15 214.79V217.92M59.85 214.79H62.45M59.85 217.92H62.45" stroke="#2f6b55" stroke-width="0.7" fill="none"/>
<circle cx="61.15" cy="216.36" r="1.15" fill="#2f6b55"/>
<path d="M66.60 214.52V217.83M65.30 214.52H67.90M65.30 217.83H67.90" stroke="#2f6b55" stroke-width="0.7" fill="none"/>
<circle cx="66.60" cy="216.17" r="1.15" fill="#2f6b55"/>
<path d="M72.05 214.97V216.66M70.75 214.97H73.35M70.75 216.66H73.35" stroke="#2f6b55" stroke-width="0.7" fill="none"/>
<circle cx="72.05" cy="215.82" r="1.15" fill="#2f6b55"/>
<path d="M77.50 214.66V218.68M76.20 214.66H78.80M76.20 218.68H78.80" stroke="#2f6b55" stroke-width="0.7" fill="none"/>
<circle cx="77.50" cy="216.67" r="1.15" fill="#2f6b55"/>
<path d="M82.95 215.56V217.76M81.65 215.56H84.25M81.65 217.76H84.25" stroke="#2f6b55" stroke-width="0.7" fill="none"/>
<circle cx="82.95" cy="216.66" r="1.15" fill="#2f6b55"/>
<path d="M88.40 216.74V219.66M87.10 216.74H89.70M87.10 219.66H89.70" stroke="#2f6b55" stroke-width="0.7" fill="none"/>
<circle cx="88.40" cy="218.20" r="1.15" fill="#2f6b55"/>
<path d="M93.85 225.29V228.22M92.55 225.29H95.15M92.55 228.22H95.15" stroke="#2f6b55" stroke-width="0.7" fill="none"/>
<circle cx="93.85" cy="226.75" r="1.15" fill="#2f6b55"/>
<path d="M99.30 241.85V243.80M98.00 241.85H100.60M98.00 243.80H100.60" stroke="#2f6b55" stroke-width="0.7" fill="none"/>
<circle cx="99.30" cy="242.82" r="1.15" fill="#2f6b55"/>
<path d="M104.75 254.08V258.18M103.45 254.08H106.05M103.45 258.18H106.05" stroke="#2f6b55" stroke-width="0.7" fill="none"/>
<circle cx="104.75" cy="256.13" r="1.15" fill="#2f6b55"/>
<path d="M110.20 259.71V260.95M108.90 259.71H111.50M108.90 260.95H111.50" stroke="#2f6b55" stroke-width="0.7" fill="none"/>
<circle cx="110.20" cy="260.33" r="1.15" fill="#2f6b55"/>
<circle cx="115.65" cy="260.98" r="1.15" fill="#2f6b55"/>
<path d="M121.10 260.38V261.47M119.80 260.38H122.40M119.80 261.47H122.40" stroke="#2f6b55" stroke-width="0.7" fill="none"/>
<circle cx="121.10" cy="260.92" r="1.15" fill="#2f6b55"/>
<circle cx="126.55" cy="261.26" r="1.15" fill="#2f6b55"/>
<path d="M132.00 260.36V261.33M130.70 260.36H133.30M130.70 261.33H133.30" stroke="#2f6b55" stroke-width="0.7" fill="none"/>
<circle cx="132.00" cy="260.84" r="1.15" fill="#2f6b55"/>
<path d="M137.45 260.26V261.64M136.15 260.26H138.75M136.15 261.64H138.75" stroke="#2f6b55" stroke-width="0.7" fill="none"/>
<circle cx="137.45" cy="260.95" r="1.15" fill="#2f6b55"/>
<path d="M142.90 260.24V261.67M141.60 260.24H144.20M141.60 261.67H144.20" stroke="#2f6b55" stroke-width="0.7" fill="none"/>
<circle cx="142.90" cy="260.95" r="1.15" fill="#2f6b55"/>
<path d="M148.35 260.54V261.84M147.05 260.54H149.65M147.05 261.84H149.65" stroke="#2f6b55" stroke-width="0.7" fill="none"/>
<circle cx="148.35" cy="261.19" r="1.15" fill="#2f6b55"/>
<path d="M153.80 260.44V261.87M152.50 260.44H155.10M152.50 261.87H155.10" stroke="#2f6b55" stroke-width="0.7" fill="none"/>
<circle cx="153.80" cy="261.16" r="1.15" fill="#2f6b55"/>
<polyline points="49.60,212.79 50.10,212.79 50.60,212.79 51.10,212.79 51.60,212.79 52.10,212.79 52.60,212.79 53.10,212.79 53.60,212.79 54.10,212.79 54.60,212.79 55.10,212.79 55.60,212.79 56.10,212.79 56.60,212.79 57.10,212.79 57.60,212.79 58.10,212.79 58.60,212.79 59.10,212.79 59.60,212.79 60.10,212.79 60.60,212.79 61.10,212.79 61.60,212.79 62.10,212.79 62.60,212.79 63.10,212.79 63.60,212.79 64.10,212.79 64.60,212.79 65.10,212.79 65.60,212.79 66.10,212.79 66.60,212.79 67.10,212.79 67.60,212.79 68.10,212.79 68.60,212.79 69.10,212.79 69.60,212.79 70.10,212.79 70.60,212.79 71.10,212.79 71.60,212.79 72.10,212.79 72.60,212.79 73.10,212.79 73.60,212.79 74.10,212.79 74.60,212.79 75.10,212.79 75.60,212.79 76.10,212.79 76.60,212.79 77.10,212.79 77.60,212.79 78.10,212.79 78.60,212.79 79.10,212.79 79.60,212.79 80.10,212.79 80.60,212.79 81.10,212.79 81.60,212.79 82.10,212.79 82.60,212.79 83.10,212.79 83.60,212.79 84.10,212.79 84.60,212.79 85.10,212.79 85.60,212.79 86.10,212.79 86.60,212.79 87.10,212.79 87.60,212.79 88.10,212.79 88.60,212.79 89.10,212.79 89.60,212.79 90.10,212.79 90.60,212.79 91.10,212.79 91.60,212.79 92.10,212.79 92.60,212.79 93.10,212.79 93.60,212.79 94.10,212.79 94.60,212.79 95.10,212.79 95.60,212.79 96.10,212.79 96.60,212.79 97.10,212.79 97.60,212.79 98.10,212.79 98.60,212.79 99.10,212.79 99.60,212.79 100.10,212.79 100.60,212.79 101.10,212.79 101.60,212.79 102.10,212.79 102.60,212.79 103.10,212.79 103.60,212.79 104.10,212.79 104.60,212.79 105.10,212.79 105.60,212.79 106.10,212.79 106.60,212.79 107.10,212.79 107.60,212.79 108.10,212.79 108.60,212.79 109.10,212.79 109.60,212.79 110.10,212.79 110.60,212.79 111.10,212.79 111.60,212.79 112.10,212.79 112.60,212.79 113.10,212.79 113.60,212.79 114.10,212.79 114.60,212.79 115.10,212.79 115.60,212.79 116.10,212.79 116.60,212.79 117.10,212.79 117.60,212.79 118.10,212.79 118.60,212.79 119.10,212.79 119.60,212.79 120.10,212.79 120.60,212.79 121.10,212.79 121.60,212.79 122.10,212.79 122.60,212.80 123.10,212.81 123.60,212.82 124.10,212.83 124.60,212.84 125.10,212.85 125.60,212.87 126.10,212.88 126.60,212.90 127.10,212.92 127.60,212.95 128.10,212.97 128.60,213.00 129.10,213.03 129.60,213.06 130.10,213.09 130.60,213.12 131.10,213.16 131.60,213.20 132.10,213.24 132.60,213.28 133.10,213.32 133.60,213.37 134.10,213.41 134.60,213.47 135.10,213.52 135.60,213.57 136.10,213.63 136.60,213.69 137.10,213.75 137.60,213.81 138.10,213.88 138.60,213.94 139.10,214.01 139.60,214.08 140.10,214.16 140.60,214.24 141.10,214.31 141.60,214.39 142.10,214.48 142.60,214.56 143.10,214.65 143.60,214.74 144.10,214.83 144.60,214.93 145.10,215.02 145.60,215.12 146.10,215.23 146.60,215.33 147.10,215.44 147.60,215.54 148.10,215.66 148.60,215.77 149.10,215.89 149.60,216.00 150.10,216.12 150.60,216.25 151.10,216.37 151.60,216.50 152.10,216.63 152.60,216.77 153.10,216.90 153.60,217.04 154.10,217.18 154.60,217.32 155.10,217.47 155.60,217.62 156.10,217.77 156.60,217.92 157.10,218.08 157.60,218.23 158.10,218.39" fill="none" stroke="#000" stroke-width="1.15"/>
<rect x="48.45" y="213.95" width="2.30" height="2.30" fill="#000"/>
<path d="M61.15 211.10V216.70M59.85 211.10H62.45M59.85 216.70H62.45" stroke="#000" stroke-width="0.7" fill="none"/>
<rect x="60.00" y="212.75" width="2.30" height="2.30" fill="#000"/>
<path d="M66.60 210.70V216.30M65.30 210.70H67.90M65.30 216.30H67.90" stroke="#000" stroke-width="0.7" fill="none"/>
<rect x="65.45" y="212.35" width="2.30" height="2.30" fill="#000"/>
<path d="M72.05 210.20V215.80M70.75 210.20H73.35M70.75 215.80H73.35" stroke="#000" stroke-width="0.7" fill="none"/>
<rect x="70.90" y="211.85" width="2.30" height="2.30" fill="#000"/>
<path d="M77.50 210.20V215.80M76.20 210.20H78.80M76.20 215.80H78.80" stroke="#000" stroke-width="0.7" fill="none"/>
<rect x="76.35" y="211.85" width="2.30" height="2.30" fill="#000"/>
<path d="M82.95 209.50V215.10M81.65 209.50H84.25M81.65 215.10H84.25" stroke="#000" stroke-width="0.7" fill="none"/>
<rect x="81.80" y="211.15" width="2.30" height="2.30" fill="#000"/>
<path d="M88.40 207.70V213.30M87.10 207.70H89.70M87.10 213.30H89.70" stroke="#000" stroke-width="0.7" fill="none"/>
<rect x="87.25" y="209.35" width="2.30" height="2.30" fill="#000"/>
<path d="M93.85 206.50V212.10M92.55 206.50H95.15M92.55 212.10H95.15" stroke="#000" stroke-width="0.7" fill="none"/>
<rect x="92.70" y="208.15" width="2.30" height="2.30" fill="#000"/>
<path d="M99.30 208.80V214.40M98.00 208.80H100.60M98.00 214.40H100.60" stroke="#000" stroke-width="0.7" fill="none"/>
<rect x="98.15" y="210.45" width="2.30" height="2.30" fill="#000"/>
<path d="M104.75 214.60V220.20M103.45 214.60H106.05M103.45 220.20H106.05" stroke="#000" stroke-width="0.7" fill="none"/>
<rect x="103.60" y="216.25" width="2.30" height="2.30" fill="#000"/>
<path d="M110.20 204.40V210.00M108.90 204.40H111.50M108.90 210.00H111.50" stroke="#000" stroke-width="0.7" fill="none"/>
<rect x="109.05" y="206.05" width="2.30" height="2.30" fill="#000"/>
<path d="M115.65 202.60V208.20M114.35 202.60H116.95M114.35 208.20H116.95" stroke="#000" stroke-width="0.7" fill="none"/>
<rect x="114.50" y="204.25" width="2.30" height="2.30" fill="#000"/>
<path d="M121.10 210.00V215.60M119.80 210.00H122.40M119.80 215.60H122.40" stroke="#000" stroke-width="0.7" fill="none"/>
<rect x="119.95" y="211.65" width="2.30" height="2.30" fill="#000"/>
<path d="M126.55 210.00V215.60M125.25 210.00H127.85M125.25 215.60H127.85" stroke="#000" stroke-width="0.7" fill="none"/>
<rect x="125.40" y="211.65" width="2.30" height="2.30" fill="#000"/>
<path d="M132.00 209.00V214.60M130.70 209.00H133.30M130.70 214.60H133.30" stroke="#000" stroke-width="0.7" fill="none"/>
<rect x="130.85" y="210.65" width="2.30" height="2.30" fill="#000"/>
<path d="M137.45 211.10V216.70M136.15 211.10H138.75M136.15 216.70H138.75" stroke="#000" stroke-width="0.7" fill="none"/>
<rect x="136.30" y="212.75" width="2.30" height="2.30" fill="#000"/>
<path d="M142.90 214.10V219.70M141.60 214.10H144.20M141.60 219.70H144.20" stroke="#000" stroke-width="0.7" fill="none"/>
<rect x="141.75" y="215.75" width="2.30" height="2.30" fill="#000"/>
<path d="M148.35 215.30V220.90M147.05 215.30H149.65M147.05 220.90H149.65" stroke="#000" stroke-width="0.7" fill="none"/>
<rect x="147.20" y="216.95" width="2.30" height="2.30" fill="#000"/>
<path d="M153.80 216.00V221.60M152.50 216.00H155.10M152.50 221.60H155.10" stroke="#000" stroke-width="0.7" fill="none"/>
<rect x="152.65" y="217.65" width="2.30" height="2.30" fill="#000"/>
<line x1="169.60" y1="219.90" x2="177.60" y2="219.90" stroke="#000" stroke-width="1.3" />
<rect x="172.60" y="218.90" width="2.00" height="2.00" fill="#000"/>
<text x="0" y="0" transform="translate(180.20 221.90) scale(0.92 1)" font-size="5.8" fill="#222">NTRK2<tspan font-size="3.6" dy="-2.2">WT</tspan><tspan dy="2.2"> + IL-3</tspan></text>
<line x1="169.60" y1="227.30" x2="177.60" y2="227.30" stroke="#2f6b55" stroke-width="1.3" />
<circle cx="173.60" cy="227.30" r="1.00" fill="#2f6b55"/>
<text x="0" y="0" transform="translate(180.20 229.30) scale(0.92 1)" font-size="5.8" fill="#222">NTRK2<tspan font-size="3.6" dy="-2.2">A203T</tspan><tspan dy="2.2"></tspan></text>
<line x1="169.60" y1="234.70" x2="177.60" y2="234.70" stroke="#6b3d8e" stroke-width="1.3" />
<circle cx="173.60" cy="234.70" r="1.00" fill="#6b3d8e"/>
<text x="0" y="0" transform="translate(180.20 236.70) scale(0.92 1)" font-size="5.8" fill="#222">NTRK2<tspan font-size="3.6" dy="-2.2">R458G</tspan><tspan dy="2.2"></tspan></text>
<line x1="261.90" y1="190.10" x2="261.90" y2="263.40" stroke="#000" stroke-width="0.95" />
<line x1="259.10" y1="261.30" x2="261.90" y2="261.30" stroke="#000" stroke-width="0.7" />
<text x="0" y="0" font-size="7.0" fill="#222" transform="translate(256.20 263.60) scale(0.92 1)" text-anchor="end" class="k">0</text>
<line x1="259.10" y1="238.06" x2="261.90" y2="238.06" stroke="#000" stroke-width="0.7" />
<text x="0" y="0" font-size="7.0" fill="#222" transform="translate(256.20 240.37) scale(0.92 1)" text-anchor="end" class="k">50</text>
<line x1="259.10" y1="214.83" x2="261.90" y2="214.83" stroke="#000" stroke-width="0.7" />
<text x="0" y="0" font-size="7.0" fill="#222" transform="translate(256.20 217.13) scale(0.92 1)" text-anchor="end" class="k">100</text>
<line x1="259.10" y1="191.60" x2="261.90" y2="191.60" stroke="#000" stroke-width="0.7" />
<text x="0" y="0" font-size="7.0" fill="#222" transform="translate(256.20 193.90) scale(0.92 1)" text-anchor="end" class="k">150</text>
<line x1="261.90" y1="263.00" x2="372.90" y2="263.00" stroke="#000" stroke-width="1.0" />
<path d="M268.30 263.00v1.6M272.11 263.00v1.6M274.80 263.00v1.6M276.90 263.00v1.6M278.61 263.00v1.6M280.05 263.00v1.6M281.31 263.00v1.6M282.41 263.00v1.6M283.40 263.00v2.6M289.90 263.00v1.6M293.71 263.00v1.6M296.40 263.00v1.6M298.50 263.00v1.6M300.21 263.00v1.6M301.65 263.00v1.6M302.91 263.00v1.6M304.01 263.00v1.6M305.00 263.00v2.6M311.50 263.00v1.6M315.31 263.00v1.6M318.00 263.00v1.6M320.10 263.00v1.6M321.81 263.00v1.6M323.25 263.00v1.6M324.51 263.00v1.6M325.61 263.00v1.6M326.60 263.00v2.6M333.10 263.00v1.6M336.91 263.00v1.6M339.60 263.00v1.6M341.70 263.00v1.6M343.41 263.00v1.6M344.85 263.00v1.6M346.11 263.00v1.6M347.21 263.00v1.6M348.20 263.00v2.6M354.70 263.00v1.6M358.51 263.00v1.6M361.20 263.00v1.6M363.30 263.00v1.6M365.01 263.00v1.6M366.45 263.00v1.6M367.71 263.00v1.6M368.81 263.00v1.6M369.80 263.00v2.6" stroke="#000" stroke-width="0.75" fill="none"/>
<text x="0" y="0" font-size="7.0" fill="#222" transform="translate(283.40 275.90) scale(0.9 1)" text-anchor="middle" class="k">0.1</text>
<text x="0" y="0" font-size="7.0" fill="#222" transform="translate(305.00 275.90) scale(0.9 1)" text-anchor="middle" class="k">1</text>
<text x="0" y="0" font-size="7.0" fill="#222" transform="translate(326.60 275.90) scale(0.9 1)" text-anchor="middle" class="k">10</text>
<text x="0" y="0" font-size="7.0" fill="#222" transform="translate(348.20 275.90) scale(0.9 1)" text-anchor="middle" class="k">100</text>
<text x="0" y="0" font-size="7.0" fill="#222" transform="translate(369.80 275.90) scale(0.9 1)" text-anchor="middle" class="k">1000</text>
<text x="272.10" y="287.20" font-size="8.2" fill="#222" textLength="91.6" lengthAdjust="spacingAndGlyphs" class="k">Entrectinib concentration (nM)</text>
<text x="239.90" y="227.25" font-size="8.2" fill="#222" text-anchor="middle" textLength="42.8" lengthAdjust="spacingAndGlyphs" transform="rotate(-90 239.90 227.25)" class="k">% cell viability</text>
<polyline points="261.90,209.44 262.40,209.44 262.90,209.44 263.40,209.44 263.90,209.44 264.40,209.44 264.90,209.44 265.40,209.44 265.90,209.44 266.40,209.44 266.90,209.44 267.40,209.44 267.90,209.44 268.40,209.44 268.90,209.44 269.40,209.44 269.90,209.44 270.40,209.44 270.90,209.44 271.40,209.44 271.90,209.44 272.40,209.44 272.90,209.44 273.40,209.44 273.90,209.44 274.40,209.44 274.90,209.44 275.40,209.44 275.90,209.44 276.40,209.44 276.90,209.44 277.40,209.44 277.90,209.44 278.40,209.44 278.90,209.44 279.40,209.44 279.90,209.44 280.40,209.44 280.90,209.44 281.40,209.44 281.90,209.44 282.40,209.44 282.90,209.44 283.40,209.44 283.90,209.44 284.40,209.44 284.90,209.44 285.40,209.44 285.90,209.45 286.40,209.51 286.90,209.61 287.40,209.75 287.90,209.92 288.40,210.12 288.90,210.34 289.40,210.58 289.90,210.82 290.40,211.07 290.90,211.36 291.40,211.71 291.90,212.11 292.40,212.56 292.90,213.05 293.40,213.57 293.90,214.11 294.40,214.69 294.90,215.28 295.40,215.89 295.90,216.56 296.40,217.27 296.90,218.03 297.40,218.83 297.90,219.68 298.40,220.56 298.90,221.47 299.40,222.42 299.90,223.42 300.40,224.53 300.90,225.73 301.40,226.98 301.90,228.26 302.40,229.54 302.90,230.84 303.40,232.17 303.90,233.52 304.40,234.89 304.90,236.26 305.40,237.62 305.90,238.98 306.40,240.35 306.90,241.71 307.40,243.08 307.90,244.44 308.40,245.84 308.90,247.32 309.40,248.81 309.90,250.22 310.40,251.45 310.90,252.42 311.40,253.27 311.90,254.07 312.40,254.82 312.90,255.51 313.40,256.14 313.90,256.71 314.40,257.21 314.90,257.63 315.40,257.98 315.90,258.28 316.40,258.58 316.90,258.86 317.40,259.13 317.90,259.38 318.40,259.62 318.90,259.85 319.40,260.05 319.90,260.24 320.40,260.40 320.90,260.55 321.40,260.67 321.90,260.76 322.40,260.83 322.90,260.87 323.40,260.90 323.90,260.93 324.40,260.95 324.90,260.98 325.40,261.00 325.90,261.02 326.40,261.04 326.90,261.05 327.40,261.07 327.90,261.08 328.40,261.09 328.90,261.10 329.40,261.10 329.90,261.11 330.40,261.11 330.90,261.11 331.40,261.11 331.90,261.11 332.40,261.11 332.90,261.11 333.40,261.11 333.90,261.11 334.40,261.11 334.90,261.11 335.40,261.11 335.90,261.11 336.40,261.11 336.90,261.11 337.40,261.11 337.90,261.11 338.40,261.11 338.90,261.11 339.40,261.11 339.90,261.11 340.40,261.11 340.90,261.11 341.40,261.11 341.90,261.11 342.40,261.11 342.90,261.11 343.40,261.11 343.90,261.11 344.40,261.11 344.90,261.11 345.40,261.11 345.90,261.11 346.40,261.11 346.90,261.11 347.40,261.11 347.90,261.11 348.40,261.11 348.90,261.11 349.40,261.11 349.90,261.11 350.40,261.11 350.90,261.11 351.40,261.11 351.90,261.11 352.40,261.11 352.90,261.11 353.40,261.11 353.90,261.11 354.40,261.11 354.90,261.11 355.40,261.11 355.90,261.11 356.40,261.11 356.90,261.11 357.40,261.11 357.90,261.11 358.40,261.11 358.90,261.11 359.40,261.11 359.90,261.11 360.40,261.11 360.90,261.11 361.40,261.11 361.90,261.11 362.40,261.11 362.90,261.11 363.40,261.11 363.90,261.11 364.40,261.11 364.90,261.11 365.40,261.11 365.90,261.11 366.40,261.11 366.90,261.11 367.40,261.11 367.90,261.11 368.40,261.11 368.90,261.11 369.40,261.11 369.90,261.11 370.40,261.11" fill="none" stroke="#c27a2e" stroke-width="1.15"/>
<path d="M273.15 196.89V202.09M271.85 196.89H274.45M271.85 202.09H274.45" stroke="#c27a2e" stroke-width="0.7" fill="none"/>
<path d="M273.15 197.45L275.17 200.86L271.13 200.86Z" fill="#c27a2e"/>
<path d="M278.60 198.89V202.89M277.30 198.89H279.90M277.30 202.89H279.90" stroke="#c27a2e" stroke-width="0.7" fill="none"/>
<path d="M278.60 198.85L280.62 202.25L276.58 202.25Z" fill="#c27a2e"/>
<path d="M284.05 208.05V209.49M282.75 208.05H285.35M282.75 209.49H285.35" stroke="#c27a2e" stroke-width="0.7" fill="none"/>
<path d="M284.05 206.73L286.07 210.13L282.03 210.13Z" fill="#c27a2e"/>
<path d="M289.50 210.32V212.12M288.20 210.32H290.80M288.20 212.12H290.80" stroke="#c27a2e" stroke-width="0.7" fill="none"/>
<path d="M289.50 209.18L291.52 212.58L287.48 212.58Z" fill="#c27a2e"/>
<path d="M294.95 214.33V215.56M293.65 214.33H296.25M293.65 215.56H296.25" stroke="#c27a2e" stroke-width="0.7" fill="none"/>
<path d="M294.95 212.90L296.97 216.31L292.93 216.31Z" fill="#c27a2e"/>
<path d="M300.40 224.44V225.77M299.10 224.44H301.70M299.10 225.77H301.70" stroke="#c27a2e" stroke-width="0.7" fill="none"/>
<path d="M300.40 223.06L302.42 226.47L298.38 226.47Z" fill="#c27a2e"/>
<path d="M305.85 237.19V239.21M304.55 237.19H307.15M304.55 239.21H307.15" stroke="#c27a2e" stroke-width="0.7" fill="none"/>
<path d="M305.85 236.16L307.87 239.56L303.83 239.56Z" fill="#c27a2e"/>
<path d="M311.30 253.04V254.23M310.00 253.04H312.60M310.00 254.23H312.60" stroke="#c27a2e" stroke-width="0.7" fill="none"/>
<path d="M311.30 251.59L313.32 255.00L309.28 255.00Z" fill="#c27a2e"/>
<path d="M316.75 257.03L318.77 260.43L314.73 260.43Z" fill="#c27a2e"/>
<path d="M322.20 260.25V260.92M320.90 260.25H323.50M320.90 260.92H323.50" stroke="#c27a2e" stroke-width="0.7" fill="none"/>
<path d="M322.20 258.54L324.22 261.95L320.18 261.95Z" fill="#c27a2e"/>
<path d="M327.65 260.55V261.50M326.35 260.55H328.95M326.35 261.50H328.95" stroke="#c27a2e" stroke-width="0.7" fill="none"/>
<path d="M327.65 258.99L329.67 262.39L325.63 262.39Z" fill="#c27a2e"/>
<path d="M333.10 260.72V261.96M331.80 260.72H334.40M331.80 261.96H334.40" stroke="#c27a2e" stroke-width="0.7" fill="none"/>
<path d="M333.10 259.30L335.12 262.70L331.08 262.70Z" fill="#c27a2e"/>
<path d="M338.55 260.81V261.96M337.25 260.81H339.85M337.25 261.96H339.85" stroke="#c27a2e" stroke-width="0.7" fill="none"/>
<path d="M338.55 259.34L340.57 262.75L336.53 262.75Z" fill="#c27a2e"/>
<path d="M344.00 260.94V261.86M342.70 260.94H345.30M342.70 261.86H345.30" stroke="#c27a2e" stroke-width="0.7" fill="none"/>
<path d="M344.00 259.35L346.02 262.76L341.98 262.76Z" fill="#c27a2e"/>
<path d="M349.45 260.94V261.71M348.15 260.94H350.75M348.15 261.71H350.75" stroke="#c27a2e" stroke-width="0.7" fill="none"/>
<path d="M349.45 259.28L351.47 262.69L347.43 262.69Z" fill="#c27a2e"/>
<path d="M354.90 260.11V261.41M353.60 260.11H356.20M353.60 261.41H356.20" stroke="#c27a2e" stroke-width="0.7" fill="none"/>
<path d="M354.90 258.72L356.92 262.12L352.88 262.12Z" fill="#c27a2e"/>
<path d="M360.35 260.56V261.95M359.05 260.56H361.65M359.05 261.95H361.65" stroke="#c27a2e" stroke-width="0.7" fill="none"/>
<path d="M360.35 259.21L362.37 262.62L358.33 262.62Z" fill="#c27a2e"/>
<path d="M365.80 260.88V261.77M364.50 260.88H367.10M364.50 261.77H367.10" stroke="#c27a2e" stroke-width="0.7" fill="none"/>
<path d="M365.80 259.28L367.82 262.69L363.78 262.69Z" fill="#c27a2e"/>
<polyline points="261.90,210.37 262.40,210.37 262.90,210.37 263.40,210.37 263.90,210.37 264.40,210.37 264.90,210.37 265.40,210.37 265.90,210.37 266.40,210.37 266.90,210.37 267.40,210.37 267.90,210.37 268.40,210.37 268.90,210.37 269.40,210.37 269.90,210.37 270.40,210.37 270.90,210.37 271.40,210.37 271.90,210.37 272.40,210.37 272.90,210.37 273.40,210.37 273.90,210.37 274.40,210.37 274.90,210.37 275.40,210.37 275.90,210.37 276.40,210.37 276.90,210.37 277.40,210.37 277.90,210.37 278.40,210.37 278.90,210.37 279.40,210.37 279.90,210.37 280.40,210.37 280.90,210.37 281.40,210.37 281.90,210.37 282.40,210.37 282.90,210.37 283.40,210.37 283.90,210.37 284.40,210.37 284.90,210.37 285.40,210.39 285.90,210.45 286.40,210.56 286.90,210.71 287.40,210.89 287.90,211.09 288.40,211.32 288.90,211.56 289.40,211.80 289.90,212.05 290.40,212.36 290.90,212.72 291.40,213.13 291.90,213.58 292.40,214.08 292.90,214.60 293.40,215.15 293.90,215.72 294.40,216.29 294.90,216.91 295.40,217.57 295.90,218.28 296.40,219.03 296.90,219.83 297.40,220.66 297.90,221.53 298.40,222.44 298.90,223.38 299.40,224.37 299.90,225.48 300.40,226.67 300.90,227.90 301.40,229.16 301.90,230.42 302.40,231.69 302.90,233.00 303.40,234.34 303.90,235.68 304.40,237.02 304.90,238.35 305.40,239.69 305.90,241.03 306.40,242.37 306.90,243.70 307.40,245.04 307.90,246.43 308.40,247.89 308.90,249.34 309.40,250.69 309.90,251.85 310.40,252.77 310.90,253.59 311.40,254.36 311.90,255.09 312.40,255.75 312.90,256.36 313.40,256.90 313.90,257.38 314.40,257.78 314.90,258.11 315.40,258.40 315.90,258.69 316.40,258.96 316.90,259.22 317.40,259.47 317.90,259.70 318.40,259.92 318.90,260.11 319.40,260.29 319.90,260.45 320.40,260.59 320.90,260.70 321.40,260.79 321.90,260.85 322.40,260.89 322.90,260.91 323.40,260.94 323.90,260.96 324.40,260.99 324.90,261.01 325.40,261.03 325.90,261.04 326.40,261.06 326.90,261.07 327.40,261.09 327.90,261.10 328.40,261.10 328.90,261.11 329.40,261.11 329.90,261.11 330.40,261.11 330.90,261.11 331.40,261.11 331.90,261.11 332.40,261.11 332.90,261.11 333.40,261.11 333.90,261.11 334.40,261.11 334.90,261.11 335.40,261.11 335.90,261.11 336.40,261.11 336.90,261.11 337.40,261.11 337.90,261.11 338.40,261.11 338.90,261.11 339.40,261.11 339.90,261.11 340.40,261.11 340.90,261.11 341.40,261.11 341.90,261.11 342.40,261.11 342.90,261.11 343.40,261.11 343.90,261.11 344.40,261.11 344.90,261.11 345.40,261.11 345.90,261.11 346.40,261.11 346.90,261.11 347.40,261.11 347.90,261.11 348.40,261.11 348.90,261.11 349.40,261.11 349.90,261.11 350.40,261.11 350.90,261.11 351.40,261.11 351.90,261.11 352.40,261.11 352.90,261.11 353.40,261.11 353.90,261.11 354.40,261.11 354.90,261.11 355.40,261.11 355.90,261.11 356.40,261.11 356.90,261.11 357.40,261.11 357.90,261.11 358.40,261.11 358.90,261.11 359.40,261.11 359.90,261.11 360.40,261.11 360.90,261.11 361.40,261.11 361.90,261.11 362.40,261.11 362.90,261.11 363.40,261.11 363.90,261.11 364.40,261.11 364.90,261.11 365.40,261.11 365.90,261.11 366.40,261.11 366.90,261.11 367.40,261.11 367.90,261.11 368.40,261.11 368.90,261.11 369.40,261.11 369.90,261.11 370.40,261.11" fill="none" stroke="#2c55a0" stroke-width="1.15"/>
<path d="M262.00 209.53L264.02 212.94L259.98 212.94Z" fill="#2c55a0"/>
<path d="M273.15 209.26V211.05M271.85 209.26H274.45M271.85 211.05H274.45" stroke="#2c55a0" stroke-width="0.7" fill="none"/>
<path d="M273.15 208.11L275.17 211.52L271.13 211.52Z" fill="#2c55a0"/>
<path d="M278.60 202.57V207.57M277.30 202.57H279.90M277.30 207.57H279.90" stroke="#2c55a0" stroke-width="0.7" fill="none"/>
<path d="M278.60 203.03L280.62 206.43L276.58 206.43Z" fill="#2c55a0"/>
<path d="M284.05 209.88V210.78M282.75 209.88H285.35M282.75 210.78H285.35" stroke="#2c55a0" stroke-width="0.7" fill="none"/>
<path d="M284.05 208.29L286.07 211.69L282.03 211.69Z" fill="#2c55a0"/>
<path d="M289.50 211.69V212.88M288.20 211.69H290.80M288.20 212.88H290.80" stroke="#2c55a0" stroke-width="0.7" fill="none"/>
<path d="M289.50 210.24L291.52 213.64L287.48 213.64Z" fill="#2c55a0"/>
<path d="M294.95 216.86V218.40M293.65 216.86H296.25M293.65 218.40H296.25" stroke="#2c55a0" stroke-width="0.7" fill="none"/>
<path d="M294.95 215.59L296.97 218.99L292.93 218.99Z" fill="#2c55a0"/>
<path d="M300.40 225.67V227.82M299.10 225.67H301.70M299.10 227.82H301.70" stroke="#2c55a0" stroke-width="0.7" fill="none"/>
<path d="M300.40 224.71L302.42 228.11L298.38 228.11Z" fill="#2c55a0"/>
<path d="M305.85 239.95V241.78M304.55 239.95H307.15M304.55 241.78H307.15" stroke="#2c55a0" stroke-width="0.7" fill="none"/>
<path d="M305.85 238.82L307.87 242.23L303.83 242.23Z" fill="#2c55a0"/>
<path d="M311.30 253.28V255.14M310.00 253.28H312.60M310.00 255.14H312.60" stroke="#2c55a0" stroke-width="0.7" fill="none"/>
<path d="M311.30 252.17L313.32 255.57L309.28 255.57Z" fill="#2c55a0"/>
<path d="M316.75 258.79V259.57M315.45 258.79H318.05M315.45 259.57H318.05" stroke="#2c55a0" stroke-width="0.7" fill="none"/>
<path d="M316.75 257.13L318.77 260.54L314.73 260.54Z" fill="#2c55a0"/>
<path d="M322.20 259.76V261.25M320.90 259.76H323.50M320.90 261.25H323.50" stroke="#2c55a0" stroke-width="0.7" fill="none"/>
<path d="M322.20 258.46L324.22 261.87L320.18 261.87Z" fill="#2c55a0"/>
<path d="M327.65 260.23V261.44M326.35 260.23H328.95M326.35 261.44H328.95" stroke="#2c55a0" stroke-width="0.7" fill="none"/>
<path d="M327.65 258.80L329.67 262.20L325.63 262.20Z" fill="#2c55a0"/>
<path d="M333.10 260.89V261.62M331.80 260.89H334.40M331.80 261.62H334.40" stroke="#2c55a0" stroke-width="0.7" fill="none"/>
<path d="M333.10 259.21L335.12 262.61L331.08 262.61Z" fill="#2c55a0"/>
<path d="M338.55 259.23L340.57 262.63L336.53 262.63Z" fill="#2c55a0"/>
<path d="M344.00 260.47V261.37M342.70 260.47H345.30M342.70 261.37H345.30" stroke="#2c55a0" stroke-width="0.7" fill="none"/>
<path d="M344.00 258.87L346.02 262.28L341.98 262.28Z" fill="#2c55a0"/>
<path d="M349.45 260.41V261.30M348.15 260.41H350.75M348.15 261.30H350.75" stroke="#2c55a0" stroke-width="0.7" fill="none"/>
<path d="M349.45 258.81L351.47 262.22L347.43 262.22Z" fill="#2c55a0"/>
<path d="M354.90 260.10V261.45M353.60 260.10H356.20M353.60 261.45H356.20" stroke="#2c55a0" stroke-width="0.7" fill="none"/>
<path d="M354.90 258.73L356.92 262.14L352.88 262.14Z" fill="#2c55a0"/>
<path d="M360.35 261.13V261.84M359.05 261.13H361.65M359.05 261.84H361.65" stroke="#2c55a0" stroke-width="0.7" fill="none"/>
<path d="M360.35 259.44L362.37 262.85L358.33 262.85Z" fill="#2c55a0"/>
<path d="M365.80 260.32V261.29M364.50 260.32H367.10M364.50 261.29H367.10" stroke="#2c55a0" stroke-width="0.7" fill="none"/>
<path d="M365.80 258.77L367.82 262.17L363.78 262.17Z" fill="#2c55a0"/>
<polyline points="261.90,209.25 262.40,209.25 262.90,209.25 263.40,209.25 263.90,209.25 264.40,209.25 264.90,209.25 265.40,209.25 265.90,209.25 266.40,209.25 266.90,209.25 267.40,209.25 267.90,209.25 268.40,209.25 268.90,209.25 269.40,209.25 269.90,209.25 270.40,209.25 270.90,209.25 271.40,209.25 271.90,209.25 272.40,209.25 272.90,209.25 273.40,209.25 273.90,209.25 274.40,209.25 274.90,209.25 275.40,209.25 275.90,209.25 276.40,209.25 276.90,209.25 277.40,209.25 277.90,209.25 278.40,209.25 278.90,209.25 279.40,209.25 279.90,209.25 280.40,209.25 280.90,209.25 281.40,209.25 281.90,209.25 282.40,209.25 282.90,209.25 283.40,209.25 283.90,209.25 284.40,209.25 284.90,209.25 285.40,209.25 285.90,209.25 286.40,209.25 286.90,209.25 287.40,209.25 287.90,209.25 288.40,209.25 288.90,209.25 289.40,209.25 289.90,209.25 290.40,209.25 290.90,209.25 291.40,209.25 291.90,209.25 292.40,209.25 292.90,209.25 293.40,209.25 293.90,209.25 294.40,209.25 294.90,209.25 295.40,209.25 295.90,209.25 296.40,209.25 296.90,209.25 297.40,209.25 297.90,209.25 298.40,209.25 298.90,209.25 299.40,209.25 299.90,209.25 300.40,209.25 300.90,209.25 301.40,209.25 301.90,209.25 302.40,209.25 302.90,209.25 303.40,209.25 303.90,209.25 304.40,209.25 304.90,209.25 305.40,209.25 305.90,209.25 306.40,209.25 306.90,209.25 307.40,209.25 307.90,209.25 308.40,209.25 308.90,209.25 309.40,209.25 309.90,209.25 310.40,209.25 310.90,209.25 311.40,209.25 311.90,209.25 312.40,209.25 312.90,209.25 313.40,209.25 313.90,209.25 314.40,209.25 314.90,209.25 315.40,209.25 315.90,209.25 316.40,209.25 316.90,209.25 317.40,209.25 317.90,209.25 318.40,209.25 318.90,209.25 319.40,209.25 319.90,209.25 320.40,209.25 320.90,209.25 321.40,209.25 321.90,209.25 322.40,209.25 322.90,209.25 323.40,209.25 323.90,209.25 324.40,209.25 324.90,209.25 325.40,209.25 325.90,209.25 326.40,209.25 326.90,209.25 327.40,209.25 327.90,209.25 328.40,209.25 328.90,209.25 329.40,209.25 329.90,209.25 330.40,209.25 330.90,209.25 331.40,209.25 331.90,209.25 332.40,209.25 332.90,209.25 333.40,209.25 333.90,209.25 334.40,209.25 334.90,209.25 335.40,209.25 335.90,209.25 336.40,209.25 336.90,209.25 337.40,209.25 337.90,209.25 338.40,209.25 338.90,209.25 339.40,209.25 339.90,209.25 340.40,209.25 340.90,209.25 341.40,209.25 341.90,209.25 342.40,209.25 342.90,209.25 343.40,209.25 343.90,209.25 344.40,209.25 344.90,209.25 345.40,209.25 345.90,209.25 346.40,209.25 346.90,209.25 347.40,209.25 347.90,209.25 348.40,209.25 348.90,209.25 349.40,209.25 349.90,209.25 350.40,209.25 350.90,209.25 351.40,209.25 351.90,209.25 352.40,209.25 352.90,209.25 353.40,209.25 353.90,209.25 354.40,209.25 354.90,209.25 355.40,209.25 355.90,209.25 356.40,209.25 356.90,209.25 357.40,209.25 357.90,209.25 358.40,209.25 358.90,209.25 359.40,209.25 359.90,209.25 360.40,209.25 360.90,209.25 361.40,209.25 361.90,209.25 362.40,209.25 362.90,209.25 363.40,209.25 363.90,209.25 364.40,209.25 364.90,209.25 365.40,209.25 365.90,209.25 366.40,209.25 366.90,209.25 367.40,209.25 367.90,209.25 368.40,209.25 368.90,209.25 369.40,209.25 369.90,209.25 370.40,209.25" fill="none" stroke="#000" stroke-width="1.15"/>
<path d="M262.00 213.25L264.02 216.66L259.98 216.66Z" fill="#000"/>
<path d="M273.15 209.31V212.91M271.85 209.31H274.45M271.85 212.91H274.45" stroke="#000" stroke-width="0.7" fill="none"/>
<path d="M273.15 209.07L275.17 212.47L271.13 212.47Z" fill="#000"/>
<path d="M278.60 204.99V211.79M277.30 204.99H279.90M277.30 211.79H279.90" stroke="#000" stroke-width="0.7" fill="none"/>
<path d="M278.60 206.35L280.62 209.75L276.58 209.75Z" fill="#000"/>
<path d="M284.05 203.97V210.77M282.75 203.97H285.35M282.75 210.77H285.35" stroke="#000" stroke-width="0.7" fill="none"/>
<path d="M284.05 205.33L286.07 208.74L282.03 208.74Z" fill="#000"/>
<path d="M289.50 205.25V212.05M288.20 205.25H290.80M288.20 212.05H290.80" stroke="#000" stroke-width="0.7" fill="none"/>
<path d="M289.50 206.61L291.52 210.01L287.48 210.01Z" fill="#000"/>
<path d="M294.95 205.13V211.93M293.65 205.13H296.25M293.65 211.93H296.25" stroke="#000" stroke-width="0.7" fill="none"/>
<path d="M294.95 206.49L296.97 209.90L292.93 209.90Z" fill="#000"/>
<path d="M300.40 204.91V211.71M299.10 204.91H301.70M299.10 211.71H301.70" stroke="#000" stroke-width="0.7" fill="none"/>
<path d="M300.40 206.27L302.42 209.67L298.38 209.67Z" fill="#000"/>
<path d="M305.85 206.04V212.84M304.55 206.04H307.15M304.55 212.84H307.15" stroke="#000" stroke-width="0.7" fill="none"/>
<path d="M305.85 207.39L307.87 210.80L303.83 210.80Z" fill="#000"/>
<path d="M311.30 205.12V211.92M310.00 205.12H312.60M310.00 211.92H312.60" stroke="#000" stroke-width="0.7" fill="none"/>
<path d="M311.30 206.48L313.32 209.88L309.28 209.88Z" fill="#000"/>
<path d="M316.75 204.79V211.59M315.45 204.79H318.05M315.45 211.59H318.05" stroke="#000" stroke-width="0.7" fill="none"/>
<path d="M316.75 206.15L318.77 209.56L314.73 209.56Z" fill="#000"/>
<path d="M322.20 204.34V211.14M320.90 204.34H323.50M320.90 211.14H323.50" stroke="#000" stroke-width="0.7" fill="none"/>
<path d="M322.20 205.70L324.22 209.10L320.18 209.10Z" fill="#000"/>
<path d="M327.65 206.29V213.09M326.35 206.29H328.95M326.35 213.09H328.95" stroke="#000" stroke-width="0.7" fill="none"/>
<path d="M327.65 207.65L329.67 211.05L325.63 211.05Z" fill="#000"/>
<path d="M333.10 205.70V212.50M331.80 205.70H334.40M331.80 212.50H334.40" stroke="#000" stroke-width="0.7" fill="none"/>
<path d="M333.10 207.06L335.12 210.47L331.08 210.47Z" fill="#000"/>
<path d="M338.55 206.30V213.10M337.25 206.30H339.85M337.25 213.10H339.85" stroke="#000" stroke-width="0.7" fill="none"/>
<path d="M338.55 207.66L340.57 211.06L336.53 211.06Z" fill="#000"/>
<path d="M344.00 204.29V211.09M342.70 204.29H345.30M342.70 211.09H345.30" stroke="#000" stroke-width="0.7" fill="none"/>
<path d="M344.00 205.65L346.02 209.05L341.98 209.05Z" fill="#000"/>
<path d="M349.45 204.62V211.42M348.15 204.62H350.75M348.15 211.42H350.75" stroke="#000" stroke-width="0.7" fill="none"/>
<path d="M349.45 205.97L351.47 209.38L347.43 209.38Z" fill="#000"/>
<path d="M354.90 206.43V213.23M353.60 206.43H356.20M353.60 213.23H356.20" stroke="#000" stroke-width="0.7" fill="none"/>
<path d="M354.90 207.79L356.92 211.20L352.88 211.20Z" fill="#000"/>
<path d="M360.35 203.81V210.61M359.05 203.81H361.65M359.05 210.61H361.65" stroke="#000" stroke-width="0.7" fill="none"/>
<path d="M360.35 205.17L362.37 208.57L358.33 208.57Z" fill="#000"/>
<path d="M365.80 203.86V210.66M364.50 203.86H367.10M364.50 210.66H367.10" stroke="#000" stroke-width="0.7" fill="none"/>
<path d="M365.80 205.22L367.82 208.62L363.78 208.62Z" fill="#000"/>
<line x1="382.30" y1="219.90" x2="390.30" y2="219.90" stroke="#000" stroke-width="1.3" />
<path d="M386.30 218.39L387.80 220.91L384.80 220.91Z" fill="#000"/>
<text x="0" y="0" transform="translate(392.90 221.90) scale(0.92 1)" font-size="5.8" fill="#222">NTRK3<tspan font-size="3.6" dy="-2.2">WT</tspan><tspan dy="2.2"> + IL-3</tspan></text>
<line x1="382.30" y1="227.30" x2="390.30" y2="227.30" stroke="#2c55a0" stroke-width="1.3" />
<path d="M386.30 225.79L387.80 228.31L384.80 228.31Z" fill="#2c55a0"/>
<text x="0" y="0" transform="translate(392.90 229.30) scale(0.92 1)" font-size="5.8" fill="#222">NTRK3<tspan font-size="3.6" dy="-2.2">E176D</tspan><tspan dy="2.2"></tspan></text>
<line x1="382.30" y1="234.70" x2="390.30" y2="234.70" stroke="#c27a2e" stroke-width="1.3" />
<path d="M386.30 233.19L387.80 235.71L384.80 235.71Z" fill="#c27a2e"/>
<text x="0" y="0" transform="translate(392.90 236.70) scale(0.92 1)" font-size="5.8" fill="#222">NTRK3<tspan font-size="3.6" dy="-2.2">L449F</tspan><tspan dy="2.2"></tspan></text>
<line x1="49.60" y1="313.00" x2="49.60" y2="386.30" stroke="#000" stroke-width="0.95" />
<line x1="46.80" y1="384.20" x2="49.60" y2="384.20" stroke="#000" stroke-width="0.7" />
<text x="0" y="0" font-size="7.0" fill="#222" transform="translate(43.90 386.50) scale(0.92 1)" text-anchor="end" class="k">0</text>
<line x1="46.80" y1="360.96" x2="49.60" y2="360.96" stroke="#000" stroke-width="0.7" />
<text x="0" y="0" font-size="7.0" fill="#222" transform="translate(43.90 363.26) scale(0.92 1)" text-anchor="end" class="k">50</text>
<line x1="46.80" y1="337.73" x2="49.60" y2="337.73" stroke="#000" stroke-width="0.7" />
<text x="0" y="0" font-size="7.0" fill="#222" transform="translate(43.90 340.03) scale(0.92 1)" text-anchor="end" class="k">100</text>
<line x1="46.80" y1="314.50" x2="49.60" y2="314.50" stroke="#000" stroke-width="0.7" />
<text x="0" y="0" font-size="7.0" fill="#222" transform="translate(43.90 316.80) scale(0.92 1)" text-anchor="end" class="k">150</text>
<line x1="49.60" y1="385.90" x2="159.80" y2="385.90" stroke="#000" stroke-width="1.0" />
<path d="M56.20 385.90v1.6M60.01 385.90v1.6M62.70 385.90v1.6M64.80 385.90v1.6M66.51 385.90v1.6M67.95 385.90v1.6M69.21 385.90v1.6M70.31 385.90v1.6M71.30 385.90v2.6M77.80 385.90v1.6M81.61 385.90v1.6M84.30 385.90v1.6M86.40 385.90v1.6M88.11 385.90v1.6M89.55 385.90v1.6M90.81 385.90v1.6M91.91 385.90v1.6M92.90 385.90v2.6M99.40 385.90v1.6M103.21 385.90v1.6M105.90 385.90v1.6M108.00 385.90v1.6M109.71 385.90v1.6M111.15 385.90v1.6M112.41 385.90v1.6M113.51 385.90v1.6M114.50 385.90v2.6M121.00 385.90v1.6M124.81 385.90v1.6M127.50 385.90v1.6M129.60 385.90v1.6M131.31 385.90v1.6M132.75 385.90v1.6M134.01 385.90v1.6M135.11 385.90v1.6M136.10 385.90v2.6M142.60 385.90v1.6M146.41 385.90v1.6M149.10 385.90v1.6M151.20 385.90v1.6M152.91 385.90v1.6M154.35 385.90v1.6M155.61 385.90v1.6M156.71 385.90v1.6M157.70 385.90v2.6" stroke="#000" stroke-width="0.75" fill="none"/>
<text x="0" y="0" font-size="7.0" fill="#222" transform="translate(71.30 398.80) scale(0.9 1)" text-anchor="middle" class="k">0.1</text>
<text x="0" y="0" font-size="7.0" fill="#222" transform="translate(92.90 398.80) scale(0.9 1)" text-anchor="middle" class="k">1</text>
<text x="0" y="0" font-size="7.0" fill="#222" transform="translate(114.50 398.80) scale(0.9 1)" text-anchor="middle" class="k">10</text>
<text x="0" y="0" font-size="7.0" fill="#222" transform="translate(136.10 398.80) scale(0.9 1)" text-anchor="middle" class="k">100</text>
<text x="0" y="0" font-size="7.0" fill="#222" transform="translate(157.70 398.80) scale(0.9 1)" text-anchor="middle" class="k">1000</text>
<text x="57.70" y="410.10" font-size="8.2" fill="#222" textLength="94.5" lengthAdjust="spacingAndGlyphs" class="k">Larotrectinib concentration (nM)</text>
<text x="27.60" y="350.15" font-size="8.2" fill="#222" text-anchor="middle" textLength="42.8" lengthAdjust="spacingAndGlyphs" transform="rotate(-90 27.60 350.15)" class="k">% cell viability</text>
<polyline points="49.60,339.36 50.10,339.36 50.60,339.36 51.10,339.36 51.60,339.36 52.10,339.36 52.60,339.36 53.10,339.36 53.60,339.36 54.10,339.36 54.60,339.36 55.10,339.36 55.60,339.36 56.10,339.36 56.60,339.36 57.10,339.36 57.60,339.36 58.10,339.36 58.60,339.36 59.10,339.36 59.60,339.36 60.10,339.36 60.60,339.36 61.10,339.36 61.60,339.36 62.10,339.36 62.60,339.36 63.10,339.36 63.60,339.36 64.10,339.36 64.60,339.36 65.10,339.36 65.60,339.36 66.10,339.36 66.60,339.36 67.10,339.36 67.60,339.36 68.10,339.36 68.60,339.36 69.10,339.36 69.60,339.36 70.10,339.36 70.60,339.36 71.10,339.36 71.60,339.36 72.10,339.36 72.60,339.36 73.10,339.36 73.60,339.36 74.10,339.36 74.60,339.36 75.10,339.36 75.60,339.36 76.10,339.36 76.60,339.36 77.10,339.36 77.60,339.36 78.10,339.36 78.60,339.36 79.10,339.36 79.60,339.36 80.10,339.36 80.60,339.36 81.10,339.36 81.60,339.36 82.10,339.36 82.60,339.36 83.10,339.36 83.60,339.36 84.10,339.36 84.60,339.36 85.10,339.36 85.60,339.36 86.10,339.36 86.60,339.36 87.10,339.36 87.60,339.36 88.10,339.36 88.60,339.36 89.10,339.36 89.60,339.36 90.10,339.36 90.60,339.36 91.10,339.36 91.60,339.36 92.10,339.36 92.60,339.36 93.10,339.36 93.60,339.36 94.10,339.36 94.60,339.36 95.10,339.36 95.60,339.36 96.10,339.36 96.60,339.36 97.10,339.36 97.60,339.36 98.10,339.36 98.60,339.36 99.10,339.36 99.60,339.36 100.10,339.36 100.60,339.36 101.10,339.38 101.60,339.41 102.10,339.45 102.60,339.50 103.10,339.55 103.60,339.61 104.10,339.68 104.60,339.75 105.10,339.82 105.60,339.92 106.10,340.05 106.60,340.21 107.10,340.41 107.60,340.64 108.10,340.90 108.60,341.19 109.10,341.51 109.60,341.85 110.10,342.22 110.60,342.64 111.10,343.20 111.60,343.90 112.10,344.71 112.60,345.63 113.10,346.64 113.60,347.73 114.10,348.87 114.60,350.06 115.10,351.46 115.60,353.09 116.10,354.88 116.60,356.76 117.10,358.64 117.60,360.62 118.10,362.76 118.60,364.95 119.10,367.06 119.60,368.98 120.10,370.71 120.60,372.40 121.10,373.99 121.60,375.40 122.10,376.57 122.60,377.51 123.10,378.40 123.60,379.22 124.10,379.95 124.60,380.57 125.10,381.06 125.60,381.41 126.10,381.67 126.60,381.91 127.10,382.14 127.60,382.34 128.10,382.53 128.60,382.70 129.10,382.84 129.60,382.97 130.10,383.08 130.60,383.16 131.10,383.23 131.60,383.27 132.10,383.30 132.60,383.33 133.10,383.36 133.60,383.38 134.10,383.40 134.60,383.43 135.10,383.45 135.60,383.46 136.10,383.48 136.60,383.49 137.10,383.51 137.60,383.52 138.10,383.53 138.60,383.54 139.10,383.54 139.60,383.55 140.10,383.55 140.60,383.55 141.10,383.55 141.60,383.56 142.10,383.56 142.60,383.56 143.10,383.56 143.60,383.57 144.10,383.57 144.60,383.57 145.10,383.57 145.60,383.57 146.10,383.57 146.60,383.58 147.10,383.58 147.60,383.58 148.10,383.58 148.60,383.58 149.10,383.58 149.60,383.58 150.10,383.59 150.60,383.59 151.10,383.59 151.60,383.59 152.10,383.59 152.60,383.59 153.10,383.59 153.60,383.59 154.10,383.59 154.60,383.59 155.10,383.59 155.60,383.59 156.10,383.59 156.60,383.59 157.10,383.60 157.60,383.60 158.10,383.60" fill="none" stroke="#6b3d8e" stroke-width="1.15"/>
<circle cx="49.60" cy="338.89" r="1.15" fill="#6b3d8e"/>
<path d="M61.15 331.41V339.41M59.85 331.41H62.45M59.85 339.41H62.45" stroke="#6b3d8e" stroke-width="0.7" fill="none"/>
<circle cx="61.15" cy="335.41" r="1.15" fill="#6b3d8e"/>
<path d="M66.60 335.25V342.58M65.30 335.25H67.90M65.30 342.58H67.90" stroke="#6b3d8e" stroke-width="0.7" fill="none"/>
<circle cx="66.60" cy="338.91" r="1.15" fill="#6b3d8e"/>
<path d="M72.05 336.44V340.44M70.75 336.44H73.35M70.75 340.44H73.35" stroke="#6b3d8e" stroke-width="0.7" fill="none"/>
<circle cx="72.05" cy="338.44" r="1.15" fill="#6b3d8e"/>
<path d="M77.50 332.84V339.84M76.20 332.84H78.80M76.20 339.84H78.80" stroke="#6b3d8e" stroke-width="0.7" fill="none"/>
<circle cx="77.50" cy="336.34" r="1.15" fill="#6b3d8e"/>
<path d="M82.95 329.51V338.51M81.65 329.51H84.25M81.65 338.51H84.25" stroke="#6b3d8e" stroke-width="0.7" fill="none"/>
<circle cx="82.95" cy="334.01" r="1.15" fill="#6b3d8e"/>
<path d="M88.40 337.06V342.58M87.10 337.06H89.70M87.10 342.58H89.70" stroke="#6b3d8e" stroke-width="0.7" fill="none"/>
<circle cx="88.40" cy="339.82" r="1.15" fill="#6b3d8e"/>
<path d="M93.85 337.57V343.46M92.55 337.57H95.15M92.55 343.46H95.15" stroke="#6b3d8e" stroke-width="0.7" fill="none"/>
<circle cx="93.85" cy="340.51" r="1.15" fill="#6b3d8e"/>
<path d="M99.30 337.71V341.76M98.00 337.71H100.60M98.00 341.76H100.60" stroke="#6b3d8e" stroke-width="0.7" fill="none"/>
<circle cx="99.30" cy="339.73" r="1.15" fill="#6b3d8e"/>
<path d="M104.75 336.58V341.48M103.45 336.58H106.05M103.45 341.48H106.05" stroke="#6b3d8e" stroke-width="0.7" fill="none"/>
<circle cx="104.75" cy="339.03" r="1.15" fill="#6b3d8e"/>
<path d="M110.20 340.27V345.18M108.90 340.27H111.50M108.90 345.18H111.50" stroke="#6b3d8e" stroke-width="0.7" fill="none"/>
<circle cx="110.20" cy="342.73" r="1.15" fill="#6b3d8e"/>
<path d="M115.65 351.40V354.18M114.35 351.40H116.95M114.35 354.18H116.95" stroke="#6b3d8e" stroke-width="0.7" fill="none"/>
<circle cx="115.65" cy="352.79" r="1.15" fill="#6b3d8e"/>
<path d="M121.10 371.58V374.19M119.80 371.58H122.40M119.80 374.19H122.40" stroke="#6b3d8e" stroke-width="0.7" fill="none"/>
<circle cx="121.10" cy="372.89" r="1.15" fill="#6b3d8e"/>
<path d="M126.55 381.03V382.38M125.25 381.03H127.85M125.25 382.38H127.85" stroke="#6b3d8e" stroke-width="0.7" fill="none"/>
<circle cx="126.55" cy="381.70" r="1.15" fill="#6b3d8e"/>
<path d="M132.00 383.01V384.30M130.70 383.01H133.30M130.70 384.30H133.30" stroke="#6b3d8e" stroke-width="0.7" fill="none"/>
<circle cx="132.00" cy="383.65" r="1.15" fill="#6b3d8e"/>
<path d="M137.45 383.08V384.15M136.15 383.08H138.75M136.15 384.15H138.75" stroke="#6b3d8e" stroke-width="0.7" fill="none"/>
<circle cx="137.45" cy="383.62" r="1.15" fill="#6b3d8e"/>
<circle cx="142.90" cy="383.93" r="1.15" fill="#6b3d8e"/>
<path d="M148.35 383.09V384.55M147.05 383.09H149.65M147.05 384.55H149.65" stroke="#6b3d8e" stroke-width="0.7" fill="none"/>
<circle cx="148.35" cy="383.82" r="1.15" fill="#6b3d8e"/>
<path d="M153.80 383.19V384.45M152.50 383.19H155.10M152.50 384.45H155.10" stroke="#6b3d8e" stroke-width="0.7" fill="none"/>
<circle cx="153.80" cy="383.82" r="1.15" fill="#6b3d8e"/>
<polyline points="49.60,340.05 50.10,340.05 50.60,340.05 51.10,340.05 51.60,340.05 52.10,340.05 52.60,340.05 53.10,340.05 53.60,340.05 54.10,340.05 54.60,340.05 55.10,340.05 55.60,340.05 56.10,340.05 56.60,340.05 57.10,340.05 57.60,340.05 58.10,340.05 58.60,340.05 59.10,340.05 59.60,340.06 60.10,340.06 60.60,340.06 61.10,340.06 61.60,340.06 62.10,340.06 62.60,340.06 63.10,340.06 63.60,340.06 64.10,340.06 64.60,340.06 65.10,340.06 65.60,340.06 66.10,340.06 66.60,340.06 67.10,340.06 67.60,340.06 68.10,340.06 68.60,340.06 69.10,340.06 69.60,340.06 70.10,340.06 70.60,340.06 71.10,340.06 71.60,340.06 72.10,340.06 72.60,340.07 73.10,340.07 73.60,340.07 74.10,340.07 74.60,340.07 75.10,340.07 75.60,340.07 76.10,340.07 76.60,340.07 77.10,340.07 77.60,340.07 78.10,340.07 78.60,340.08 79.10,340.08 79.60,340.08 80.10,340.08 80.60,340.08 81.10,340.08 81.60,340.08 82.10,340.08 82.60,340.08 83.10,340.08 83.60,340.09 84.10,340.09 84.60,340.09 85.10,340.09 85.60,340.09 86.10,340.09 86.60,340.09 87.10,340.10 87.60,340.10 88.10,340.10 88.60,340.10 89.10,340.10 89.60,340.10 90.10,340.11 90.60,340.11 91.10,340.11 91.60,340.11 92.10,340.11 92.60,340.11 93.10,340.12 93.60,340.12 94.10,340.12 94.60,340.12 95.10,340.12 95.60,340.13 96.10,340.13 96.60,340.13 97.10,340.13 97.60,340.13 98.10,340.14 98.60,340.14 99.10,340.14 99.60,340.14 100.10,340.15 100.60,340.17 101.10,340.21 101.60,340.27 102.10,340.36 102.60,340.45 103.10,340.57 103.60,340.69 104.10,340.83 104.60,340.97 105.10,341.12 105.60,341.30 106.10,341.53 106.60,341.81 107.10,342.13 107.60,342.49 108.10,342.89 108.60,343.33 109.10,343.80 109.60,344.29 110.10,344.81 110.60,345.37 111.10,346.04 111.60,346.80 112.10,347.66 112.60,348.60 113.10,349.61 113.60,350.67 114.10,351.78 114.60,352.93 115.10,354.21 115.60,355.64 116.10,357.17 116.60,358.78 117.10,360.41 117.60,362.14 118.10,364.01 118.60,365.92 119.10,367.77 119.60,369.48 120.10,371.04 120.60,372.57 121.10,374.02 121.60,375.32 122.10,376.40 122.60,377.27 123.10,378.08 123.60,378.83 124.10,379.50 124.60,380.08 125.10,380.55 125.60,380.90 126.10,381.18 126.60,381.44 127.10,381.69 127.60,381.91 128.10,382.12 128.60,382.30 129.10,382.47 129.60,382.62 130.10,382.74 130.60,382.85 131.10,382.93 131.60,382.99 132.10,383.04 132.60,383.09 133.10,383.13 133.60,383.17 134.10,383.21 134.60,383.24 135.10,383.28 135.60,383.31 136.10,383.33 136.60,383.36 137.10,383.38 137.60,383.40 138.10,383.42 138.60,383.43 139.10,383.44 139.60,383.45 140.10,383.46 140.60,383.46 141.10,383.47 141.60,383.47 142.10,383.48 142.60,383.48 143.10,383.48 143.60,383.49 144.10,383.49 144.60,383.50 145.10,383.50 145.60,383.50 146.10,383.51 146.60,383.51 147.10,383.51 147.60,383.51 148.10,383.52 148.60,383.52 149.10,383.52 149.60,383.53 150.10,383.53 150.60,383.53 151.10,383.53 151.60,383.53 152.10,383.54 152.60,383.54 153.10,383.54 153.60,383.54 154.10,383.54 154.60,383.54 155.10,383.54 155.60,383.55 156.10,383.55 156.60,383.55 157.10,383.55 157.60,383.55 158.10,383.55" fill="none" stroke="#2f6b55" stroke-width="1.15"/>
<circle cx="49.60" cy="339.22" r="1.15" fill="#2f6b55"/>
<path d="M61.15 337.29V342.25M59.85 337.29H62.45M59.85 342.25H62.45" stroke="#2f6b55" stroke-width="0.7" fill="none"/>
<circle cx="61.15" cy="339.77" r="1.15" fill="#2f6b55"/>
<path d="M66.60 336.49V342.26M65.30 336.49H67.90M65.30 342.26H67.90" stroke="#2f6b55" stroke-width="0.7" fill="none"/>
<circle cx="66.60" cy="339.37" r="1.15" fill="#2f6b55"/>
<path d="M72.05 336.66V342.35M70.75 336.66H73.35M70.75 342.35H73.35" stroke="#2f6b55" stroke-width="0.7" fill="none"/>
<circle cx="72.05" cy="339.51" r="1.15" fill="#2f6b55"/>
<path d="M77.50 339.24V343.10M76.20 339.24H78.80M76.20 343.10H78.80" stroke="#2f6b55" stroke-width="0.7" fill="none"/>
<circle cx="77.50" cy="341.17" r="1.15" fill="#2f6b55"/>
<path d="M82.95 336.76V341.35M81.65 336.76H84.25M81.65 341.35H84.25" stroke="#2f6b55" stroke-width="0.7" fill="none"/>
<circle cx="82.95" cy="339.05" r="1.15" fill="#2f6b55"/>
<path d="M88.40 337.94V340.39M87.10 337.94H89.70M87.10 340.39H89.70" stroke="#2f6b55" stroke-width="0.7" fill="none"/>
<circle cx="88.40" cy="339.17" r="1.15" fill="#2f6b55"/>
<path d="M93.85 338.70V341.68M92.55 338.70H95.15M92.55 341.68H95.15" stroke="#2f6b55" stroke-width="0.7" fill="none"/>
<circle cx="93.85" cy="340.19" r="1.15" fill="#2f6b55"/>
<path d="M99.30 337.89V342.19M98.00 337.89H100.60M98.00 342.19H100.60" stroke="#2f6b55" stroke-width="0.7" fill="none"/>
<circle cx="99.30" cy="340.04" r="1.15" fill="#2f6b55"/>
<path d="M104.75 340.71V343.58M103.45 340.71H106.05M103.45 343.58H106.05" stroke="#2f6b55" stroke-width="0.7" fill="none"/>
<circle cx="104.75" cy="342.15" r="1.15" fill="#2f6b55"/>
<path d="M110.20 342.60V348.26M108.90 342.60H111.50M108.90 348.26H111.50" stroke="#2f6b55" stroke-width="0.7" fill="none"/>
<circle cx="110.20" cy="345.43" r="1.15" fill="#2f6b55"/>
<path d="M115.65 353.85V356.49M114.35 353.85H116.95M114.35 356.49H116.95" stroke="#2f6b55" stroke-width="0.7" fill="none"/>
<circle cx="115.65" cy="355.17" r="1.15" fill="#2f6b55"/>
<path d="M121.10 372.06V374.61M119.80 372.06H122.40M119.80 374.61H122.40" stroke="#2f6b55" stroke-width="0.7" fill="none"/>
<circle cx="121.10" cy="373.33" r="1.15" fill="#2f6b55"/>
<path d="M126.55 381.02V381.64M125.25 381.02H127.85M125.25 381.64H127.85" stroke="#2f6b55" stroke-width="0.7" fill="none"/>
<circle cx="126.55" cy="381.33" r="1.15" fill="#2f6b55"/>
<path d="M132.00 382.72V384.09M130.70 382.72H133.30M130.70 384.09H133.30" stroke="#2f6b55" stroke-width="0.7" fill="none"/>
<circle cx="132.00" cy="383.40" r="1.15" fill="#2f6b55"/>
<path d="M137.45 383.25V383.97M136.15 383.25H138.75M136.15 383.97H138.75" stroke="#2f6b55" stroke-width="0.7" fill="none"/>
<circle cx="137.45" cy="383.61" r="1.15" fill="#2f6b55"/>
<path d="M142.90 382.44V383.81M141.60 382.44H144.20M141.60 383.81H144.20" stroke="#2f6b55" stroke-width="0.7" fill="none"/>
<circle cx="142.90" cy="383.12" r="1.15" fill="#2f6b55"/>
<path d="M148.35 382.94V384.41M147.05 382.94H149.65M147.05 384.41H149.65" stroke="#2f6b55" stroke-width="0.7" fill="none"/>
<circle cx="148.35" cy="383.68" r="1.15" fill="#2f6b55"/>
<path d="M153.80 382.92V384.10M152.50 382.92H155.10M152.50 384.10H155.10" stroke="#2f6b55" stroke-width="0.7" fill="none"/>
<circle cx="153.80" cy="383.51" r="1.15" fill="#2f6b55"/>
<polyline points="49.60,339.91 50.10,339.91 50.60,339.91 51.10,339.91 51.60,339.91 52.10,339.91 52.60,339.91 53.10,339.91 53.60,339.91 54.10,339.91 54.60,339.91 55.10,339.91 55.60,339.91 56.10,339.91 56.60,339.91 57.10,339.91 57.60,339.91 58.10,339.91 58.60,339.91 59.10,339.91 59.60,339.91 60.10,339.91 60.60,339.91 61.10,339.91 61.60,339.91 62.10,339.91 62.60,339.91 63.10,339.91 63.60,339.91 64.10,339.91 64.60,339.91 65.10,339.91 65.60,339.91 66.10,339.91 66.60,339.91 67.10,339.91 67.60,339.91 68.10,339.91 68.60,339.91 69.10,339.91 69.60,339.91 70.10,339.91 70.60,339.91 71.10,339.91 71.60,339.91 72.10,339.91 72.60,339.91 73.10,339.91 73.60,339.91 74.10,339.91 74.60,339.91 75.10,339.91 75.60,339.91 76.10,339.91 76.60,339.91 77.10,339.91 77.60,339.91 78.10,339.91 78.60,339.91 79.10,339.91 79.60,339.91 80.10,339.91 80.60,339.91 81.10,339.91 81.60,339.91 82.10,339.91 82.60,339.91 83.10,339.91 83.60,339.91 84.10,339.91 84.60,339.91 85.10,339.91 85.60,339.91 86.10,339.91 86.60,339.91 87.10,339.91 87.60,339.91 88.10,339.91 88.60,339.91 89.10,339.91 89.60,339.91 90.10,339.91 90.60,339.91 91.10,339.91 91.60,339.91 92.10,339.91 92.60,339.91 93.10,339.91 93.60,339.91 94.10,339.91 94.60,339.91 95.10,339.91 95.60,339.91 96.10,339.91 96.60,339.91 97.10,339.91 97.60,339.91 98.10,339.91 98.60,339.91 99.10,339.91 99.60,339.91 100.10,339.91 100.60,339.91 101.10,339.91 101.60,339.91 102.10,339.91 102.60,339.91 103.10,339.91 103.60,339.91 104.10,339.91 104.60,339.91 105.10,339.91 105.60,339.91 106.10,339.91 106.60,339.91 107.10,339.91 107.60,339.91 108.10,339.91 108.60,339.91 109.10,339.91 109.60,339.91 110.10,339.91 110.60,339.91 111.10,339.91 111.60,339.91 112.10,339.91 112.60,339.91 113.10,339.91 113.60,339.91 114.10,339.91 114.60,339.91 115.10,339.91 115.60,339.91 116.10,339.91 116.60,339.91 117.10,339.91 117.60,339.91 118.10,339.91 118.60,339.91 119.10,339.91 119.60,339.91 120.10,339.91 120.60,339.91 121.10,339.91 121.60,339.91 122.10,339.91 122.60,339.91 123.10,339.91 123.60,339.91 124.10,339.91 124.60,339.91 125.10,339.91 125.60,339.91 126.10,339.91 126.60,339.91 127.10,339.91 127.60,339.91 128.10,339.91 128.60,339.91 129.10,339.91 129.60,339.91 130.10,339.91 130.60,339.91 131.10,339.91 131.60,339.91 132.10,339.91 132.60,339.91 133.10,339.91 133.60,339.91 134.10,339.91 134.60,339.91 135.10,339.91 135.60,339.91 136.10,339.91 136.60,339.91 137.10,339.91 137.60,339.91 138.10,339.91 138.60,339.91 139.10,339.91 139.60,339.91 140.10,339.91 140.60,339.91 141.10,339.91 141.60,339.91 142.10,339.91 142.60,339.91 143.10,339.91 143.60,339.91 144.10,339.91 144.60,339.91 145.10,339.91 145.60,339.91 146.10,339.91 146.60,339.91 147.10,339.91 147.60,339.91 148.10,339.91 148.60,339.91 149.10,339.91 149.60,339.91 150.10,339.91 150.60,339.91 151.10,339.91 151.60,339.91 152.10,339.91 152.60,339.91 153.10,339.91 153.60,339.91 154.10,339.91 154.60,339.91 155.10,339.91 155.60,339.91 156.10,339.91 156.60,339.91 157.10,339.91 157.60,339.91 158.10,339.91" fill="none" stroke="#000" stroke-width="1.15"/>
<rect x="48.45" y="336.45" width="2.30" height="2.30" fill="#000"/>
<path d="M61.15 332.80V337.80M59.85 332.80H62.45M59.85 337.80H62.45" stroke="#000" stroke-width="0.7" fill="none"/>
<rect x="60.00" y="334.15" width="2.30" height="2.30" fill="#000"/>
<path d="M66.60 338.50V343.50M65.30 338.50H67.90M65.30 343.50H67.90" stroke="#000" stroke-width="0.7" fill="none"/>
<rect x="65.45" y="339.85" width="2.30" height="2.30" fill="#000"/>
<path d="M72.05 335.80V340.80M70.75 335.80H73.35M70.75 340.80H73.35" stroke="#000" stroke-width="0.7" fill="none"/>
<rect x="70.90" y="337.15" width="2.30" height="2.30" fill="#000"/>
<path d="M77.50 334.40V339.40M76.20 334.40H78.80M76.20 339.40H78.80" stroke="#000" stroke-width="0.7" fill="none"/>
<rect x="76.35" y="335.75" width="2.30" height="2.30" fill="#000"/>
<path d="M82.95 332.80V337.80M81.65 332.80H84.25M81.65 337.80H84.25" stroke="#000" stroke-width="0.7" fill="none"/>
<rect x="81.80" y="334.15" width="2.30" height="2.30" fill="#000"/>
<path d="M88.40 337.40V342.40M87.10 337.40H89.70M87.10 342.40H89.70" stroke="#000" stroke-width="0.7" fill="none"/>
<rect x="87.25" y="338.75" width="2.30" height="2.30" fill="#000"/>
<path d="M93.85 338.50V343.50M92.55 338.50H95.15M92.55 343.50H95.15" stroke="#000" stroke-width="0.7" fill="none"/>
<rect x="92.70" y="339.85" width="2.30" height="2.30" fill="#000"/>
<path d="M99.30 337.90V342.90M98.00 337.90H100.60M98.00 342.90H100.60" stroke="#000" stroke-width="0.7" fill="none"/>
<rect x="98.15" y="339.25" width="2.30" height="2.30" fill="#000"/>
<path d="M104.75 342.70V347.70M103.45 342.70H106.05M103.45 347.70H106.05" stroke="#000" stroke-width="0.7" fill="none"/>
<rect x="103.60" y="344.05" width="2.30" height="2.30" fill="#000"/>
<path d="M110.20 332.10V337.10M108.90 332.10H111.50M108.90 337.10H111.50" stroke="#000" stroke-width="0.7" fill="none"/>
<rect x="109.05" y="333.45" width="2.30" height="2.30" fill="#000"/>
<path d="M115.65 332.80V337.80M114.35 332.80H116.95M114.35 337.80H116.95" stroke="#000" stroke-width="0.7" fill="none"/>
<rect x="114.50" y="334.15" width="2.30" height="2.30" fill="#000"/>
<path d="M126.55 337.90V342.90M125.25 337.90H127.85M125.25 342.90H127.85" stroke="#000" stroke-width="0.7" fill="none"/>
<rect x="125.40" y="339.25" width="2.30" height="2.30" fill="#000"/>
<path d="M132.00 337.00V342.00M130.70 337.00H133.30M130.70 342.00H133.30" stroke="#000" stroke-width="0.7" fill="none"/>
<rect x="130.85" y="338.35" width="2.30" height="2.30" fill="#000"/>
<path d="M137.45 338.50V343.50M136.15 338.50H138.75M136.15 343.50H138.75" stroke="#000" stroke-width="0.7" fill="none"/>
<rect x="136.30" y="339.85" width="2.30" height="2.30" fill="#000"/>
<path d="M142.90 339.00V344.00M141.60 339.00H144.20M141.60 344.00H144.20" stroke="#000" stroke-width="0.7" fill="none"/>
<rect x="141.75" y="340.35" width="2.30" height="2.30" fill="#000"/>
<path d="M148.35 340.90V345.90M147.05 340.90H149.65M147.05 345.90H149.65" stroke="#000" stroke-width="0.7" fill="none"/>
<rect x="147.20" y="342.25" width="2.30" height="2.30" fill="#000"/>
<path d="M153.80 339.70V344.70M152.50 339.70H155.10M152.50 344.70H155.10" stroke="#000" stroke-width="0.7" fill="none"/>
<rect x="152.65" y="341.05" width="2.30" height="2.30" fill="#000"/>
<line x1="169.60" y1="342.80" x2="177.60" y2="342.80" stroke="#000" stroke-width="1.3" />
<rect x="172.60" y="341.80" width="2.00" height="2.00" fill="#000"/>
<text x="0" y="0" transform="translate(180.20 344.80) scale(0.92 1)" font-size="5.8" fill="#222">NTRK2<tspan font-size="3.6" dy="-2.2">WT</tspan><tspan dy="2.2"> + IL-3</tspan></text>
<line x1="169.60" y1="350.20" x2="177.60" y2="350.20" stroke="#2f6b55" stroke-width="1.3" />
<circle cx="173.60" cy="350.20" r="1.00" fill="#2f6b55"/>
<text x="0" y="0" transform="translate(180.20 352.20) scale(0.92 1)" font-size="5.8" fill="#222">NTRK2<tspan font-size="3.6" dy="-2.2">A203T</tspan><tspan dy="2.2"></tspan></text>
<line x1="169.60" y1="357.60" x2="177.60" y2="357.60" stroke="#6b3d8e" stroke-width="1.3" />
<circle cx="173.60" cy="357.60" r="1.00" fill="#6b3d8e"/>
<text x="0" y="0" transform="translate(180.20 359.60) scale(0.92 1)" font-size="5.8" fill="#222">NTRK2<tspan font-size="3.6" dy="-2.2">R458G</tspan><tspan dy="2.2"></tspan></text>
<line x1="261.90" y1="313.00" x2="261.90" y2="386.30" stroke="#000" stroke-width="0.95" />
<line x1="259.10" y1="384.20" x2="261.90" y2="384.20" stroke="#000" stroke-width="0.7" />
<text x="0" y="0" font-size="7.0" fill="#222" transform="translate(256.20 386.50) scale(0.92 1)" text-anchor="end" class="k">0</text>
<line x1="259.10" y1="360.96" x2="261.90" y2="360.96" stroke="#000" stroke-width="0.7" />
<text x="0" y="0" font-size="7.0" fill="#222" transform="translate(256.20 363.26) scale(0.92 1)" text-anchor="end" class="k">50</text>
<line x1="259.10" y1="337.73" x2="261.90" y2="337.73" stroke="#000" stroke-width="0.7" />
<text x="0" y="0" font-size="7.0" fill="#222" transform="translate(256.20 340.03) scale(0.92 1)" text-anchor="end" class="k">100</text>
<line x1="259.10" y1="314.50" x2="261.90" y2="314.50" stroke="#000" stroke-width="0.7" />
<text x="0" y="0" font-size="7.0" fill="#222" transform="translate(256.20 316.80) scale(0.92 1)" text-anchor="end" class="k">150</text>
<line x1="261.90" y1="385.90" x2="372.90" y2="385.90" stroke="#000" stroke-width="1.0" />
<path d="M268.30 385.90v1.6M272.11 385.90v1.6M274.80 385.90v1.6M276.90 385.90v1.6M278.61 385.90v1.6M280.05 385.90v1.6M281.31 385.90v1.6M282.41 385.90v1.6M283.40 385.90v2.6M289.90 385.90v1.6M293.71 385.90v1.6M296.40 385.90v1.6M298.50 385.90v1.6M300.21 385.90v1.6M301.65 385.90v1.6M302.91 385.90v1.6M304.01 385.90v1.6M305.00 385.90v2.6M311.50 385.90v1.6M315.31 385.90v1.6M318.00 385.90v1.6M320.10 385.90v1.6M321.81 385.90v1.6M323.25 385.90v1.6M324.51 385.90v1.6M325.61 385.90v1.6M326.60 385.90v2.6M333.10 385.90v1.6M336.91 385.90v1.6M339.60 385.90v1.6M341.70 385.90v1.6M343.41 385.90v1.6M344.85 385.90v1.6M346.11 385.90v1.6M347.21 385.90v1.6M348.20 385.90v2.6M354.70 385.90v1.6M358.51 385.90v1.6M361.20 385.90v1.6M363.30 385.90v1.6M365.01 385.90v1.6M366.45 385.90v1.6M367.71 385.90v1.6M368.81 385.90v1.6M369.80 385.90v2.6" stroke="#000" stroke-width="0.75" fill="none"/>
<text x="0" y="0" font-size="7.0" fill="#222" transform="translate(283.40 398.80) scale(0.9 1)" text-anchor="middle" class="k">0.1</text>
<text x="0" y="0" font-size="7.0" fill="#222" transform="translate(305.00 398.80) scale(0.9 1)" text-anchor="middle" class="k">1</text>
<text x="0" y="0" font-size="7.0" fill="#222" transform="translate(326.60 398.80) scale(0.9 1)" text-anchor="middle" class="k">10</text>
<text x="0" y="0" font-size="7.0" fill="#222" transform="translate(348.20 398.80) scale(0.9 1)" text-anchor="middle" class="k">100</text>
<text x="0" y="0" font-size="7.0" fill="#222" transform="translate(369.80 398.80) scale(0.9 1)" text-anchor="middle" class="k">1000</text>
<text x="270.20" y="410.10" font-size="8.2" fill="#222" textLength="94.5" lengthAdjust="spacingAndGlyphs" class="k">Larotrectinib concentration (nM)</text>
<text x="239.90" y="350.15" font-size="8.2" fill="#222" text-anchor="middle" textLength="42.8" lengthAdjust="spacingAndGlyphs" transform="rotate(-90 239.90 350.15)" class="k">% cell viability</text>
<polyline points="261.90,335.09 262.40,335.08 262.90,335.07 263.40,335.06 263.90,335.06 264.40,335.05 264.90,335.04 265.40,335.04 265.90,335.03 266.40,335.02 266.90,335.02 267.40,335.01 267.90,335.01 268.40,335.00 268.90,334.99 269.40,334.99 269.90,334.98 270.40,334.98 270.90,334.98 271.40,334.97 271.90,334.97 272.40,334.96 272.90,334.96 273.40,334.95 273.90,334.95 274.40,334.95 274.90,334.94 275.40,334.94 275.90,334.94 276.40,334.93 276.90,334.93 277.40,334.93 277.90,334.93 278.40,334.92 278.90,334.92 279.40,334.92 279.90,334.92 280.40,334.92 280.90,334.91 281.40,334.91 281.90,334.91 282.40,334.91 282.90,334.91 283.40,334.91 283.90,334.91 284.40,334.90 284.90,334.90 285.40,334.90 285.90,334.90 286.40,334.90 286.90,334.90 287.40,334.90 287.90,334.90 288.40,334.90 288.90,334.90 289.40,334.90 289.90,334.90 290.40,334.90 290.90,334.90 291.40,334.90 291.90,334.90 292.40,334.90 292.90,334.90 293.40,334.90 293.90,334.90 294.40,334.90 294.90,334.90 295.40,334.90 295.90,334.90 296.40,334.90 296.90,334.90 297.40,334.90 297.90,334.90 298.40,334.92 298.90,334.94 299.40,334.97 299.90,335.02 300.40,335.06 300.90,335.12 301.40,335.18 301.90,335.25 302.40,335.33 302.90,335.41 303.40,335.50 303.90,335.59 304.40,335.69 304.90,335.80 305.40,335.90 305.90,336.02 306.40,336.13 306.90,336.26 307.40,336.38 307.90,336.52 308.40,336.68 308.90,336.89 309.40,337.13 309.90,337.42 310.40,337.74 310.90,338.08 311.40,338.46 311.90,338.86 312.40,339.28 312.90,339.71 313.40,340.16 313.90,340.63 314.40,341.09 314.90,341.57 315.40,342.04 315.90,342.51 316.40,342.97 316.90,343.43 317.40,343.87 317.90,344.33 318.40,344.79 318.90,345.27 319.40,345.75 319.90,346.25 320.40,346.75 320.90,347.27 321.40,347.80 321.90,348.35 322.40,348.90 322.90,349.47 323.40,350.06 323.90,350.65 324.40,351.27 324.90,351.90 325.40,352.56 325.90,353.24 326.40,353.94 326.90,354.66 327.40,355.40 327.90,356.15 328.40,356.92 328.90,357.70 329.40,358.50 329.90,359.31 330.40,360.16 330.90,361.06 331.40,362.00 331.90,362.96 332.40,363.92 332.90,364.88 333.40,365.81 333.90,366.71 334.40,367.56 334.90,368.38 335.40,369.20 335.90,370.01 336.40,370.81 336.90,371.60 337.40,372.37 337.90,373.11 338.40,373.82 338.90,374.49 339.40,375.12 339.90,375.71 340.40,376.25 340.90,376.78 341.40,377.30 341.90,377.81 342.40,378.31 342.90,378.79 343.40,379.25 343.90,379.68 344.40,380.10 344.90,380.48 345.40,380.84 345.90,381.16 346.40,381.45 346.90,381.71 347.40,381.92 347.90,382.14 348.40,382.34 348.90,382.54 349.40,382.73 349.90,382.91 350.40,383.08 350.90,383.23 351.40,383.38 351.90,383.50 352.40,383.61 352.90,383.70 353.40,383.76 353.90,383.81 354.40,383.84 354.90,383.87 355.40,383.89 355.90,383.92 356.40,383.94 356.90,383.96 357.40,383.98 357.90,384.00 358.40,384.01 358.90,384.03 359.40,384.04 359.90,384.05 360.40,384.05 360.90,384.05 361.40,384.06 361.90,384.06 362.40,384.06 362.90,384.06 363.40,384.06 363.90,384.06 364.40,384.06 364.90,384.06 365.40,384.06 365.90,384.06 366.40,384.06 366.90,384.06 367.40,384.06 367.90,384.06 368.40,384.06 368.90,384.06 369.40,384.06 369.90,384.06 370.40,384.06" fill="none" stroke="#c27a2e" stroke-width="1.15"/>
<path d="M273.15 327.86V332.26M271.85 327.86H274.45M271.85 332.26H274.45" stroke="#c27a2e" stroke-width="0.7" fill="none"/>
<path d="M273.15 328.02L275.17 331.42L271.13 331.42Z" fill="#c27a2e"/>
<path d="M284.05 328.06V332.06M282.75 328.06H285.35M282.75 332.06H285.35" stroke="#c27a2e" stroke-width="0.7" fill="none"/>
<path d="M284.05 328.02L286.07 331.42L282.03 331.42Z" fill="#c27a2e"/>
<path d="M289.50 329.22V333.22M288.20 329.22H290.80M288.20 333.22H290.80" stroke="#c27a2e" stroke-width="0.7" fill="none"/>
<path d="M289.50 329.18L291.52 332.59L287.48 332.59Z" fill="#c27a2e"/>
<path d="M294.95 333.48V336.32M293.65 333.48H296.25M293.65 336.32H296.25" stroke="#c27a2e" stroke-width="0.7" fill="none"/>
<path d="M294.95 332.86L296.97 336.26L292.93 336.26Z" fill="#c27a2e"/>
<path d="M300.40 334.35V336.15M299.10 334.35H301.70M299.10 336.15H301.70" stroke="#c27a2e" stroke-width="0.7" fill="none"/>
<path d="M300.40 333.21L302.42 336.61L298.38 336.61Z" fill="#c27a2e"/>
<path d="M305.85 335.09V336.28M304.55 335.09H307.15M304.55 336.28H307.15" stroke="#c27a2e" stroke-width="0.7" fill="none"/>
<path d="M305.85 333.64L307.87 337.04L303.83 337.04Z" fill="#c27a2e"/>
<path d="M311.30 337.52V338.87M310.00 337.52H312.60M310.00 338.87H312.60" stroke="#c27a2e" stroke-width="0.7" fill="none"/>
<path d="M311.30 336.15L313.32 339.56L309.28 339.56Z" fill="#c27a2e"/>
<path d="M316.75 341.58V344.50M315.45 341.58H318.05M315.45 344.50H318.05" stroke="#c27a2e" stroke-width="0.7" fill="none"/>
<path d="M316.75 341.00L318.77 344.40L314.73 344.40Z" fill="#c27a2e"/>
<path d="M322.20 348.66V350.77M320.90 348.66H323.50M320.90 350.77H323.50" stroke="#c27a2e" stroke-width="0.7" fill="none"/>
<path d="M322.20 347.67L324.22 351.08L320.18 351.08Z" fill="#c27a2e"/>
<path d="M327.65 354.88V356.18M326.35 354.88H328.95M326.35 356.18H328.95" stroke="#c27a2e" stroke-width="0.7" fill="none"/>
<path d="M327.65 353.48L329.67 356.89L325.63 356.89Z" fill="#c27a2e"/>
<path d="M333.10 364.30V367.29M331.80 364.30H334.40M331.80 367.29H334.40" stroke="#c27a2e" stroke-width="0.7" fill="none"/>
<path d="M333.10 363.75L335.12 367.15L331.08 367.15Z" fill="#c27a2e"/>
<path d="M338.55 372.25V373.49M337.25 372.25H339.85M337.25 373.49H339.85" stroke="#c27a2e" stroke-width="0.7" fill="none"/>
<path d="M338.55 370.82L340.57 374.23L336.53 374.23Z" fill="#c27a2e"/>
<path d="M344.00 377.84V380.74M342.70 377.84H345.30M342.70 380.74H345.30" stroke="#c27a2e" stroke-width="0.7" fill="none"/>
<path d="M344.00 377.25L346.02 380.65L341.98 380.65Z" fill="#c27a2e"/>
<path d="M349.45 382.39V383.50M348.15 382.39H350.75M348.15 383.50H350.75" stroke="#c27a2e" stroke-width="0.7" fill="none"/>
<path d="M349.45 380.90L351.47 384.31L347.43 384.31Z" fill="#c27a2e"/>
<path d="M354.90 383.77V384.64M353.60 383.77H356.20M353.60 384.64H356.20" stroke="#c27a2e" stroke-width="0.7" fill="none"/>
<path d="M354.90 382.16L356.92 385.57L352.88 385.57Z" fill="#c27a2e"/>
<path d="M360.35 383.38V384.47M359.05 383.38H361.65M359.05 384.47H361.65" stroke="#c27a2e" stroke-width="0.7" fill="none"/>
<path d="M360.35 381.88L362.37 385.28L358.33 385.28Z" fill="#c27a2e"/>
<path d="M365.80 381.81L367.82 385.21L363.78 385.21Z" fill="#c27a2e"/>
<polyline points="261.90,336.69 262.40,336.69 262.90,336.68 263.40,336.67 263.90,336.67 264.40,336.66 264.90,336.65 265.40,336.65 265.90,336.64 266.40,336.63 266.90,336.63 267.40,336.62 267.90,336.62 268.40,336.61 268.90,336.61 269.40,336.60 269.90,336.60 270.40,336.59 270.90,336.59 271.40,336.59 271.90,336.58 272.40,336.58 272.90,336.58 273.40,336.57 273.90,336.57 274.40,336.57 274.90,336.56 275.40,336.56 275.90,336.56 276.40,336.55 276.90,336.55 277.40,336.55 277.90,336.55 278.40,336.55 278.90,336.54 279.40,336.54 279.90,336.54 280.40,336.54 280.90,336.54 281.40,336.54 281.90,336.53 282.40,336.53 282.90,336.53 283.40,336.53 283.90,336.53 284.40,336.53 284.90,336.53 285.40,336.53 285.90,336.53 286.40,336.53 286.90,336.53 287.40,336.52 287.90,336.52 288.40,336.52 288.90,336.52 289.40,336.52 289.90,336.52 290.40,336.52 290.90,336.52 291.40,336.52 291.90,336.52 292.40,336.52 292.90,336.52 293.40,336.52 293.90,336.52 294.40,336.52 294.90,336.52 295.40,336.52 295.90,336.52 296.40,336.52 296.90,336.54 297.40,336.56 297.90,336.59 298.40,336.62 298.90,336.67 299.40,336.72 299.90,336.78 300.40,336.85 300.90,336.92 301.40,337.00 301.90,337.09 302.40,337.18 302.90,337.28 303.40,337.38 303.90,337.49 304.40,337.60 304.90,337.71 305.40,337.83 305.90,337.95 306.40,338.08 306.90,338.22 307.40,338.40 307.90,338.62 308.40,338.89 308.90,339.18 309.40,339.51 309.90,339.86 310.40,340.23 310.90,340.63 311.40,341.05 311.90,341.48 312.40,341.92 312.90,342.37 313.40,342.82 313.90,343.28 314.40,343.74 314.90,344.19 315.40,344.63 315.90,345.07 316.40,345.50 316.90,345.95 317.40,346.40 317.90,346.86 318.40,347.34 318.90,347.82 319.40,348.32 319.90,348.83 320.40,349.35 320.90,349.88 321.40,350.43 321.90,350.98 322.40,351.55 322.90,352.14 323.40,352.75 323.90,353.38 324.40,354.02 324.90,354.69 325.40,355.38 325.90,356.09 326.40,356.81 326.90,357.54 327.40,358.29 327.90,359.06 328.40,359.83 328.90,360.63 329.40,361.49 329.90,362.38 330.40,363.30 330.90,364.23 331.40,365.16 331.90,366.08 332.40,366.96 332.90,367.80 333.40,368.60 333.90,369.39 334.40,370.18 334.90,370.96 335.40,371.73 335.90,372.47 336.40,373.20 336.90,373.90 337.40,374.56 337.90,375.19 338.40,375.77 338.90,376.31 339.40,376.83 339.90,377.34 340.40,377.83 340.90,378.32 341.40,378.79 341.90,379.24 342.40,379.67 342.90,380.08 343.40,380.46 343.90,380.82 344.40,381.14 344.90,381.44 345.40,381.70 345.90,381.92 346.40,382.12 346.90,382.33 347.40,382.52 347.90,382.71 348.40,382.89 348.90,383.05 349.40,383.21 349.90,383.35 350.40,383.48 350.90,383.59 351.40,383.68 351.90,383.75 352.40,383.81 352.90,383.84 353.40,383.87 353.90,383.89 354.40,383.92 354.90,383.94 355.40,383.96 355.90,383.98 356.40,384.00 356.90,384.01 357.40,384.03 357.90,384.04 358.40,384.05 358.90,384.05 359.40,384.06 359.90,384.06 360.40,384.06 360.90,384.06 361.40,384.06 361.90,384.06 362.40,384.06 362.90,384.06 363.40,384.06 363.90,384.06 364.40,384.06 364.90,384.06 365.40,384.06 365.90,384.06 366.40,384.06 366.90,384.06 367.40,384.06 367.90,384.06 368.40,384.06 368.90,384.06 369.40,384.06 369.90,384.06 370.40,384.06" fill="none" stroke="#2c55a0" stroke-width="1.15"/>
<path d="M262.00 335.69L264.02 339.09L259.98 339.09Z" fill="#2c55a0"/>
<path d="M273.15 335.14V337.98M271.85 335.14H274.45M271.85 337.98H274.45" stroke="#2c55a0" stroke-width="0.7" fill="none"/>
<path d="M273.15 334.52L275.17 337.92L271.13 337.92Z" fill="#2c55a0"/>
<path d="M278.60 335.06V337.61M277.30 335.06H279.90M277.30 337.61H279.90" stroke="#2c55a0" stroke-width="0.7" fill="none"/>
<path d="M278.60 334.29L280.62 337.70L276.58 337.70Z" fill="#2c55a0"/>
<path d="M284.05 335.55V338.05M282.75 335.55H285.35M282.75 338.05H285.35" stroke="#2c55a0" stroke-width="0.7" fill="none"/>
<path d="M284.05 334.76L286.07 338.16L282.03 338.16Z" fill="#2c55a0"/>
<path d="M289.50 336.66V338.24M288.20 336.66H290.80M288.20 338.24H290.80" stroke="#2c55a0" stroke-width="0.7" fill="none"/>
<path d="M289.50 335.41L291.52 338.81L287.48 338.81Z" fill="#2c55a0"/>
<path d="M294.95 334.89V337.34M293.65 334.89H296.25M293.65 337.34H296.25" stroke="#2c55a0" stroke-width="0.7" fill="none"/>
<path d="M294.95 334.07L296.97 337.48L292.93 337.48Z" fill="#2c55a0"/>
<path d="M300.40 336.44V337.62M299.10 336.44H301.70M299.10 337.62H301.70" stroke="#2c55a0" stroke-width="0.7" fill="none"/>
<path d="M300.40 334.99L302.42 338.39L298.38 338.39Z" fill="#2c55a0"/>
<path d="M305.85 337.77V339.19M304.55 337.77H307.15M304.55 339.19H307.15" stroke="#2c55a0" stroke-width="0.7" fill="none"/>
<path d="M305.85 336.44L307.87 339.84L303.83 339.84Z" fill="#2c55a0"/>
<path d="M311.30 340.16V342.78M310.00 340.16H312.60M310.00 342.78H312.60" stroke="#2c55a0" stroke-width="0.7" fill="none"/>
<path d="M311.30 339.43L313.32 342.83L309.28 342.83Z" fill="#2c55a0"/>
<path d="M316.75 345.12V347.90M315.45 345.12H318.05M315.45 347.90H318.05" stroke="#2c55a0" stroke-width="0.7" fill="none"/>
<path d="M316.75 344.47L318.77 347.87L314.73 347.87Z" fill="#2c55a0"/>
<path d="M322.20 349.89V351.00M320.90 349.89H323.50M320.90 351.00H323.50" stroke="#2c55a0" stroke-width="0.7" fill="none"/>
<path d="M322.20 348.40L324.22 351.80L320.18 351.80Z" fill="#2c55a0"/>
<path d="M327.65 357.96V359.95M326.35 357.96H328.95M326.35 359.95H328.95" stroke="#2c55a0" stroke-width="0.7" fill="none"/>
<path d="M327.65 356.91L329.67 360.32L325.63 360.32Z" fill="#2c55a0"/>
<path d="M333.10 368.30V370.15M331.80 368.30H334.40M331.80 370.15H334.40" stroke="#2c55a0" stroke-width="0.7" fill="none"/>
<path d="M333.10 367.19L335.12 370.59L331.08 370.59Z" fill="#2c55a0"/>
<path d="M338.55 374.38V375.61M337.25 374.38H339.85M337.25 375.61H339.85" stroke="#2c55a0" stroke-width="0.7" fill="none"/>
<path d="M338.55 372.95L340.57 376.36L336.53 376.36Z" fill="#2c55a0"/>
<path d="M344.00 380.04V381.28M342.70 380.04H345.30M342.70 381.28H345.30" stroke="#2c55a0" stroke-width="0.7" fill="none"/>
<path d="M344.00 378.62L346.02 382.02L341.98 382.02Z" fill="#2c55a0"/>
<path d="M349.45 382.47V383.86M348.15 382.47H350.75M348.15 383.86H350.75" stroke="#2c55a0" stroke-width="0.7" fill="none"/>
<path d="M349.45 381.12L351.47 384.53L347.43 384.53Z" fill="#2c55a0"/>
<path d="M354.90 382.12L356.92 385.52L352.88 385.52Z" fill="#2c55a0"/>
<path d="M360.35 383.85V384.89M359.05 383.85H361.65M359.05 384.89H361.65" stroke="#2c55a0" stroke-width="0.7" fill="none"/>
<path d="M360.35 382.33L362.37 385.73L358.33 385.73Z" fill="#2c55a0"/>
<path d="M365.80 382.38L367.82 385.78L363.78 385.78Z" fill="#2c55a0"/>
<polyline points="261.90,336.90 262.40,336.88 262.90,336.86 263.40,336.83 263.90,336.81 264.40,336.79 264.90,336.77 265.40,336.75 265.90,336.73 266.40,336.71 266.90,336.68 267.40,336.66 267.90,336.64 268.40,336.62 268.90,336.60 269.40,336.58 269.90,336.56 270.40,336.54 270.90,336.51 271.40,336.49 271.90,336.47 272.40,336.45 272.90,336.43 273.40,336.41 273.90,336.39 274.40,336.37 274.90,336.34 275.40,336.32 275.90,336.30 276.40,336.28 276.90,336.26 277.40,336.24 277.90,336.22 278.40,336.19 278.90,336.17 279.40,336.15 279.90,336.13 280.40,336.11 280.90,336.09 281.40,336.07 281.90,336.05 282.40,336.02 282.90,336.00 283.40,335.98 283.90,335.96 284.40,335.94 284.90,335.92 285.40,335.90 285.90,335.88 286.40,335.85 286.90,335.83 287.40,335.81 287.90,335.79 288.40,335.77 288.90,335.75 289.40,335.73 289.90,335.71 290.40,335.68 290.90,335.66 291.40,335.64 291.90,335.62 292.40,335.60 292.90,335.58 293.40,335.56 293.90,335.53 294.40,335.51 294.90,335.49 295.40,335.47 295.90,335.45 296.40,335.43 296.90,335.41 297.40,335.39 297.90,335.36 298.40,335.34 298.90,335.32 299.40,335.30 299.90,335.28 300.40,335.26 300.90,335.24 301.40,335.22 301.90,335.19 302.40,335.17 302.90,335.15 303.40,335.13 303.90,335.11 304.40,335.09 304.90,335.07 305.40,335.04 305.90,335.02 306.40,335.00 306.90,334.98 307.40,334.96 307.90,334.94 308.40,334.92 308.90,334.90 309.40,334.87 309.90,334.85 310.40,334.83 310.90,334.81 311.40,334.79 311.90,334.77 312.40,334.75 312.90,334.73 313.40,334.70 313.90,334.68 314.40,334.66 314.90,334.64 315.40,334.62 315.90,334.60 316.40,334.58 316.90,334.55 317.40,334.53 317.90,334.51 318.40,334.49 318.90,334.47 319.40,334.45 319.90,334.43 320.40,334.41 320.90,334.38 321.40,334.36 321.90,334.34 322.40,334.32 322.90,334.30 323.40,334.28 323.90,334.26 324.40,334.24 324.90,334.21 325.40,334.19 325.90,334.17 326.40,334.15 326.90,334.13 327.40,334.11 327.90,334.09 328.40,334.07 328.90,334.04 329.40,334.02 329.90,334.00 330.40,333.98 330.90,333.96 331.40,333.94 331.90,333.92 332.40,333.89 332.90,333.87 333.40,333.85 333.90,333.83 334.40,333.81 334.90,333.79 335.40,333.77 335.90,333.75 336.40,333.72 336.90,333.70 337.40,333.68 337.90,333.66 338.40,333.64 338.90,333.62 339.40,333.60 339.90,333.58 340.40,333.55 340.90,333.53 341.40,333.51 341.90,333.49 342.40,333.47 342.90,333.45 343.40,333.43 343.90,333.40 344.40,333.38 344.90,333.36 345.40,333.34 345.90,333.32 346.40,333.30 346.90,333.28 347.40,333.26 347.90,333.23 348.40,333.21 348.90,333.19 349.40,333.17 349.90,333.15 350.40,333.13 350.90,333.11 351.40,333.09 351.90,333.06 352.40,333.04 352.90,333.02 353.40,333.00 353.90,332.98 354.40,332.96 354.90,332.94 355.40,332.91 355.90,332.89 356.40,332.87 356.90,332.85 357.40,332.83 357.90,332.81 358.40,332.79 358.90,332.77 359.40,332.74 359.90,332.72 360.40,332.70 360.90,332.68 361.40,332.66 361.90,332.64 362.40,332.62 362.90,332.60 363.40,332.57 363.90,332.55 364.40,332.53 364.90,332.51 365.40,332.49 365.90,332.47 366.40,332.45 366.90,332.43 367.40,332.40 367.90,332.38 368.40,332.36 368.90,332.34 369.40,332.32 369.90,332.30 370.40,332.28" fill="none" stroke="#000" stroke-width="1.15"/>
<path d="M262.00 334.85L264.02 338.26L259.98 338.26Z" fill="#000"/>
<path d="M273.15 334.50V338.50M271.85 334.50H274.45M271.85 338.50H274.45" stroke="#000" stroke-width="0.7" fill="none"/>
<path d="M273.15 334.46L275.17 337.87L271.13 337.87Z" fill="#000"/>
<path d="M278.60 334.48V338.48M277.30 334.48H279.90M277.30 338.48H279.90" stroke="#000" stroke-width="0.7" fill="none"/>
<path d="M278.60 334.44L280.62 337.84L276.58 337.84Z" fill="#000"/>
<path d="M284.05 334.79V338.79M282.75 334.79H285.35M282.75 338.79H285.35" stroke="#000" stroke-width="0.7" fill="none"/>
<path d="M284.05 334.75L286.07 338.16L282.03 338.16Z" fill="#000"/>
<path d="M289.50 332.87V336.87M288.20 332.87H290.80M288.20 336.87H290.80" stroke="#000" stroke-width="0.7" fill="none"/>
<path d="M289.50 332.83L291.52 336.23L287.48 336.23Z" fill="#000"/>
<path d="M294.95 334.64V338.64M293.65 334.64H296.25M293.65 338.64H296.25" stroke="#000" stroke-width="0.7" fill="none"/>
<path d="M294.95 334.59L296.97 338.00L292.93 338.00Z" fill="#000"/>
<path d="M300.40 333.25V337.25M299.10 333.25H301.70M299.10 337.25H301.70" stroke="#000" stroke-width="0.7" fill="none"/>
<path d="M300.40 333.21L302.42 336.61L298.38 336.61Z" fill="#000"/>
<path d="M305.85 332.10V336.10M304.55 332.10H307.15M304.55 336.10H307.15" stroke="#000" stroke-width="0.7" fill="none"/>
<path d="M305.85 332.06L307.87 335.46L303.83 335.46Z" fill="#000"/>
<path d="M311.30 333.77V337.77M310.00 333.77H312.60M310.00 337.77H312.60" stroke="#000" stroke-width="0.7" fill="none"/>
<path d="M311.30 333.73L313.32 337.13L309.28 337.13Z" fill="#000"/>
<path d="M316.75 332.44V336.44M315.45 332.44H318.05M315.45 336.44H318.05" stroke="#000" stroke-width="0.7" fill="none"/>
<path d="M316.75 332.39L318.77 335.80L314.73 335.80Z" fill="#000"/>
<path d="M322.20 332.06V336.06M320.90 332.06H323.50M320.90 336.06H323.50" stroke="#000" stroke-width="0.7" fill="none"/>
<path d="M322.20 332.02L324.22 335.42L320.18 335.42Z" fill="#000"/>
<path d="M327.65 333.16V337.16M326.35 333.16H328.95M326.35 337.16H328.95" stroke="#000" stroke-width="0.7" fill="none"/>
<path d="M327.65 333.12L329.67 336.53L325.63 336.53Z" fill="#000"/>
<path d="M333.10 332.15V336.15M331.80 332.15H334.40M331.80 336.15H334.40" stroke="#000" stroke-width="0.7" fill="none"/>
<path d="M333.10 332.10L335.12 335.51L331.08 335.51Z" fill="#000"/>
<path d="M338.55 331.16V335.16M337.25 331.16H339.85M337.25 335.16H339.85" stroke="#000" stroke-width="0.7" fill="none"/>
<path d="M338.55 331.12L340.57 334.52L336.53 334.52Z" fill="#000"/>
<path d="M344.00 331.51V335.51M342.70 331.51H345.30M342.70 335.51H345.30" stroke="#000" stroke-width="0.7" fill="none"/>
<path d="M344.00 331.47L346.02 334.87L341.98 334.87Z" fill="#000"/>
<path d="M349.45 330.65V334.65M348.15 330.65H350.75M348.15 334.65H350.75" stroke="#000" stroke-width="0.7" fill="none"/>
<path d="M349.45 330.60L351.47 334.01L347.43 334.01Z" fill="#000"/>
<path d="M354.90 331.73V335.73M353.60 331.73H356.20M353.60 335.73H356.20" stroke="#000" stroke-width="0.7" fill="none"/>
<path d="M354.90 331.69L356.92 335.09L352.88 335.09Z" fill="#000"/>
<path d="M360.35 331.31V335.31M359.05 331.31H361.65M359.05 335.31H361.65" stroke="#000" stroke-width="0.7" fill="none"/>
<path d="M360.35 331.27L362.37 334.67L358.33 334.67Z" fill="#000"/>
<path d="M365.80 331.38V335.38M364.50 331.38H367.10M364.50 335.38H367.10" stroke="#000" stroke-width="0.7" fill="none"/>
<path d="M365.80 331.33L367.82 334.74L363.78 334.74Z" fill="#000"/>
<line x1="382.30" y1="342.80" x2="390.30" y2="342.80" stroke="#000" stroke-width="1.3" />
<path d="M386.30 341.29L387.80 343.81L384.80 343.81Z" fill="#000"/>
<text x="0" y="0" transform="translate(392.90 344.80) scale(0.92 1)" font-size="5.8" fill="#222">NTRK3<tspan font-size="3.6" dy="-2.2">WT</tspan><tspan dy="2.2"> + IL-3</tspan></text>
<line x1="382.30" y1="350.20" x2="390.30" y2="350.20" stroke="#2c55a0" stroke-width="1.3" />
<path d="M386.30 348.69L387.80 351.21L384.80 351.21Z" fill="#2c55a0"/>
<text x="0" y="0" transform="translate(392.90 352.20) scale(0.92 1)" font-size="5.8" fill="#222">NTRK3<tspan font-size="3.6" dy="-2.2">E176D</tspan><tspan dy="2.2"></tspan></text>
<line x1="382.30" y1="357.60" x2="390.30" y2="357.60" stroke="#c27a2e" stroke-width="1.3" />
<path d="M386.30 356.09L387.80 358.61L384.80 358.61Z" fill="#c27a2e"/>
<text x="0" y="0" transform="translate(392.90 359.60) scale(0.92 1)" font-size="5.8" fill="#222">NTRK3<tspan font-size="3.6" dy="-2.2">L449F</tspan><tspan dy="2.2"></tspan></text>
<rect x="53.35" y="493.50" width="6.55" height="7.90" fill="#d0d0d5" stroke="none" stroke-width="0" />
<path d="M56.62 493.50V492.51M54.40 492.51H58.85" stroke="#111" stroke-width="0.9" fill="none"/>
<rect x="60.20" y="493.00" width="6.55" height="8.40" fill="#e2901c" stroke="none" stroke-width="0" />
<path d="M63.47 493.00V492.51M61.25 492.51H65.70" stroke="#111" stroke-width="0.9" fill="none"/>
<rect x="67.05" y="487.07" width="6.55" height="14.33" fill="#63a9e2" stroke="none" stroke-width="0" />
<path d="M70.32 487.07V474.72M68.10 474.72H72.55" stroke="#111" stroke-width="0.9" fill="none"/>
<rect x="73.90" y="458.42" width="6.55" height="42.98" fill="#4a5264" stroke="none" stroke-width="0" />
<path d="M77.17 458.42V457.93M74.95 457.93H79.40" stroke="#111" stroke-width="0.9" fill="none"/>
<rect x="88.70" y="497.45" width="6.55" height="3.95" fill="#d0d0d5" stroke="none" stroke-width="0" />
<path d="M91.97 497.45V495.47M89.75 495.47H94.20" stroke="#111" stroke-width="0.9" fill="none"/>
<rect x="95.55" y="497.45" width="6.55" height="3.95" fill="#e2901c" stroke="none" stroke-width="0" />
<path d="M98.82 497.45V495.97M96.60 495.97H101.05" stroke="#111" stroke-width="0.9" fill="none"/>
<rect x="102.40" y="468.80" width="6.55" height="32.60" fill="#63a9e2" stroke="none" stroke-width="0" />
<path d="M105.67 468.80V461.39M103.45 461.39H107.90" stroke="#111" stroke-width="0.9" fill="none"/>
<rect x="109.25" y="456.45" width="6.55" height="44.95" fill="#4a5264" stroke="none" stroke-width="0" />
<path d="M112.52 456.45V455.95M110.30 455.95H114.75" stroke="#111" stroke-width="0.9" fill="none"/>
<line x1="49.40" y1="448.80" x2="49.40" y2="501.90" stroke="#000" stroke-width="0.95" />
<line x1="48.95" y1="501.40" x2="120.40" y2="501.40" stroke="#000" stroke-width="0.9" />
<line x1="46.40" y1="501.40" x2="49.40" y2="501.40" stroke="#000" stroke-width="0.7" />
<text x="0" y="0" font-size="7.0" fill="#222" transform="translate(43.80 503.60) scale(0.9 1)" text-anchor="end" class="k">0</text>
<line x1="46.40" y1="491.52" x2="49.40" y2="491.52" stroke="#000" stroke-width="0.7" />
<text x="0" y="0" font-size="7.0" fill="#222" transform="translate(43.80 493.72) scale(0.9 1)" text-anchor="end" class="k">20</text>
<line x1="46.40" y1="481.64" x2="49.40" y2="481.64" stroke="#000" stroke-width="0.7" />
<text x="0" y="0" font-size="7.0" fill="#222" transform="translate(43.80 483.84) scale(0.9 1)" text-anchor="end" class="k">40</text>
<line x1="46.40" y1="471.76" x2="49.40" y2="471.76" stroke="#000" stroke-width="0.7" />
<text x="0" y="0" font-size="7.0" fill="#222" transform="translate(43.80 473.96) scale(0.9 1)" text-anchor="end" class="k">60</text>
<line x1="46.40" y1="461.88" x2="49.40" y2="461.88" stroke="#000" stroke-width="0.7" />
<text x="0" y="0" font-size="7.0" fill="#222" transform="translate(43.80 464.08) scale(0.9 1)" text-anchor="end" class="k">80</text>
<line x1="46.40" y1="452.00" x2="49.40" y2="452.00" stroke="#000" stroke-width="0.7" />
<text x="0" y="0" font-size="7.0" fill="#222" transform="translate(43.80 454.20) scale(0.9 1)" text-anchor="end" class="k">100</text>
<line x1="66.90" y1="501.40" x2="66.90" y2="503.60" stroke="#000" stroke-width="0.7" />
<text x="0" y="0" font-size="7.0" fill="#222" transform="translate(66.90 513.30) scale(0.9 1)" text-anchor="middle" class="k">48</text>
<line x1="102.25" y1="501.40" x2="102.25" y2="503.60" stroke="#000" stroke-width="0.7" />
<text x="0" y="0" font-size="7.0" fill="#222" transform="translate(102.25 513.30) scale(0.9 1)" text-anchor="middle" class="k">72</text>
<text x="84.80" y="524.80" font-size="8.8" fill="#222" text-anchor="middle" textLength="26.5" lengthAdjust="spacingAndGlyphs" class="k">Time (hr)</text>
<text x="17.50" y="478.6" font-size="8.4" fill="#222" text-anchor="middle" transform="rotate(-90 17.50 478.6)" textLength="44" lengthAdjust="spacingAndGlyphs" class="k">% of annexin V</text>
<text x="12.80" y="454.4" font-size="5.0" fill="#222" transform="rotate(-90 15.50 454.6)">+</text>
<text x="28.00" y="475.30" font-size="8.2" fill="#222" text-anchor="middle" textLength="13.5" lengthAdjust="spacingAndGlyphs" transform="rotate(-90 28.00 475.30)" class="k">cells</text>
<text x="0" y="0" font-size="8.6" fill="#2f6b55" stroke="#2f6b55" stroke-width="0.12" transform="translate(62.00 443.60) scale(0.92 1)">NTRK2</text>
<text x="88.94" y="440.50" font-size="6.0" fill="#2f6b55" stroke="#2f6b55" stroke-width="0.12">A203T</text>
<rect x="175.60" y="498.44" width="6.55" height="2.96" fill="#d0d0d5" stroke="none" stroke-width="0" />
<path d="M178.88 498.44V497.45M176.65 497.45H181.10" stroke="#111" stroke-width="0.9" fill="none"/>
<rect x="182.45" y="495.97" width="6.55" height="5.43" fill="#e2901c" stroke="none" stroke-width="0" />
<path d="M185.73 495.97V494.98M183.50 494.98H187.95" stroke="#111" stroke-width="0.9" fill="none"/>
<rect x="189.30" y="475.22" width="6.55" height="26.18" fill="#63a9e2" stroke="none" stroke-width="0" />
<path d="M192.58 475.22V474.23M190.35 474.23H194.80" stroke="#111" stroke-width="0.9" fill="none"/>
<rect x="196.15" y="461.88" width="6.55" height="39.52" fill="#4a5264" stroke="none" stroke-width="0" />
<path d="M199.43 461.88V461.39M197.20 461.39H201.65" stroke="#111" stroke-width="0.9" fill="none"/>
<rect x="210.95" y="497.45" width="6.55" height="3.95" fill="#d0d0d5" stroke="none" stroke-width="0" />
<path d="M214.23 497.45V496.46M212.00 496.46H216.45" stroke="#111" stroke-width="0.9" fill="none"/>
<rect x="217.80" y="494.48" width="6.55" height="6.92" fill="#e2901c" stroke="none" stroke-width="0" />
<path d="M221.08 494.48V493.50M218.85 493.50H223.30" stroke="#111" stroke-width="0.9" fill="none"/>
<rect x="224.65" y="468.30" width="6.55" height="33.10" fill="#63a9e2" stroke="none" stroke-width="0" />
<path d="M227.93 468.30V465.34M225.70 465.34H230.15" stroke="#111" stroke-width="0.9" fill="none"/>
<rect x="231.50" y="456.45" width="6.55" height="44.95" fill="#4a5264" stroke="none" stroke-width="0" />
<path d="M234.78 456.45V455.95M232.55 455.95H237.00" stroke="#111" stroke-width="0.9" fill="none"/>
<line x1="171.65" y1="448.80" x2="171.65" y2="501.90" stroke="#000" stroke-width="0.95" />
<line x1="171.20" y1="501.40" x2="242.65" y2="501.40" stroke="#000" stroke-width="0.9" />
<line x1="168.65" y1="501.40" x2="171.65" y2="501.40" stroke="#000" stroke-width="0.7" />
<text x="0" y="0" font-size="7.0" fill="#222" transform="translate(166.05 503.60) scale(0.9 1)" text-anchor="end" class="k">0</text>
<line x1="168.65" y1="491.52" x2="171.65" y2="491.52" stroke="#000" stroke-width="0.7" />
<text x="0" y="0" font-size="7.0" fill="#222" transform="translate(166.05 493.72) scale(0.9 1)" text-anchor="end" class="k">20</text>
<line x1="168.65" y1="481.64" x2="171.65" y2="481.64" stroke="#000" stroke-width="0.7" />
<text x="0" y="0" font-size="7.0" fill="#222" transform="translate(166.05 483.84) scale(0.9 1)" text-anchor="end" class="k">40</text>
<line x1="168.65" y1="471.76" x2="171.65" y2="471.76" stroke="#000" stroke-width="0.7" />
<text x="0" y="0" font-size="7.0" fill="#222" transform="translate(166.05 473.96) scale(0.9 1)" text-anchor="end" class="k">60</text>
<line x1="168.65" y1="461.88" x2="171.65" y2="461.88" stroke="#000" stroke-width="0.7" />
<text x="0" y="0" font-size="7.0" fill="#222" transform="translate(166.05 464.08) scale(0.9 1)" text-anchor="end" class="k">80</text>
<line x1="168.65" y1="452.00" x2="171.65" y2="452.00" stroke="#000" stroke-width="0.7" />
<text x="0" y="0" font-size="7.0" fill="#222" transform="translate(166.05 454.20) scale(0.9 1)" text-anchor="end" class="k">100</text>
<line x1="189.15" y1="501.40" x2="189.15" y2="503.60" stroke="#000" stroke-width="0.7" />
<text x="0" y="0" font-size="7.0" fill="#222" transform="translate(189.15 513.30) scale(0.9 1)" text-anchor="middle" class="k">48</text>
<line x1="224.50" y1="501.40" x2="224.50" y2="503.60" stroke="#000" stroke-width="0.7" />
<text x="0" y="0" font-size="7.0" fill="#222" transform="translate(224.50 513.30) scale(0.9 1)" text-anchor="middle" class="k">72</text>
<text x="207.05" y="524.80" font-size="8.8" fill="#222" text-anchor="middle" textLength="26.5" lengthAdjust="spacingAndGlyphs" class="k">Time (hr)</text>
<text x="139.75" y="478.6" font-size="8.4" fill="#222" text-anchor="middle" transform="rotate(-90 139.75 478.6)" textLength="44" lengthAdjust="spacingAndGlyphs" class="k">% of annexin V</text>
<text x="135.05" y="454.4" font-size="5.0" fill="#222" transform="rotate(-90 137.75 454.6)">+</text>
<text x="150.25" y="475.30" font-size="8.2" fill="#222" text-anchor="middle" textLength="13.5" lengthAdjust="spacingAndGlyphs" transform="rotate(-90 150.25 475.30)" class="k">cells</text>
<text x="0" y="0" font-size="8.6" fill="#6b3d8e" stroke="#6b3d8e" stroke-width="0.12" transform="translate(183.80 443.60) scale(0.92 1)">NTRK2</text>
<text x="210.74" y="440.50" font-size="6.0" fill="#6b3d8e" stroke="#6b3d8e" stroke-width="0.12">R458G</text>
<rect x="297.85" y="500.66" width="6.55" height="0.74" fill="#d0d0d5" stroke="none" stroke-width="0" />
<path d="M301.12 500.66V500.16M298.90 500.16H303.35" stroke="#111" stroke-width="0.9" fill="none"/>
<rect x="304.70" y="493.99" width="6.55" height="7.41" fill="#e2901c" stroke="none" stroke-width="0" />
<path d="M307.98 493.99V491.52M305.75 491.52H310.20" stroke="#111" stroke-width="0.9" fill="none"/>
<rect x="311.55" y="468.30" width="6.55" height="33.10" fill="#63a9e2" stroke="none" stroke-width="0" />
<path d="M314.82 468.30V467.81M312.60 467.81H317.05" stroke="#111" stroke-width="0.9" fill="none"/>
<rect x="318.40" y="465.34" width="6.55" height="36.06" fill="#4a5264" stroke="none" stroke-width="0" />
<path d="M321.68 465.34V464.84M319.45 464.84H323.90" stroke="#111" stroke-width="0.9" fill="none"/>
<rect x="333.20" y="500.66" width="6.55" height="0.74" fill="#d0d0d5" stroke="none" stroke-width="0" />
<path d="M336.47 500.66V500.16M334.25 500.16H338.70" stroke="#111" stroke-width="0.9" fill="none"/>
<rect x="340.05" y="499.18" width="6.55" height="2.22" fill="#e2901c" stroke="none" stroke-width="0" />
<path d="M343.32 499.18V497.94M341.10 497.94H345.55" stroke="#111" stroke-width="0.9" fill="none"/>
<rect x="346.90" y="459.90" width="6.55" height="41.50" fill="#63a9e2" stroke="none" stroke-width="0" />
<path d="M350.17 459.90V459.41M347.95 459.41H352.40" stroke="#111" stroke-width="0.9" fill="none"/>
<rect x="353.75" y="456.94" width="6.55" height="44.46" fill="#4a5264" stroke="none" stroke-width="0" />
<path d="M357.02 456.94V456.45M354.80 456.45H359.25" stroke="#111" stroke-width="0.9" fill="none"/>
<line x1="293.90" y1="448.80" x2="293.90" y2="501.90" stroke="#000" stroke-width="0.95" />
<line x1="293.45" y1="501.40" x2="364.90" y2="501.40" stroke="#000" stroke-width="0.9" />
<line x1="290.90" y1="501.40" x2="293.90" y2="501.40" stroke="#000" stroke-width="0.7" />
<text x="0" y="0" font-size="7.0" fill="#222" transform="translate(288.30 503.60) scale(0.9 1)" text-anchor="end" class="k">0</text>
<line x1="290.90" y1="491.52" x2="293.90" y2="491.52" stroke="#000" stroke-width="0.7" />
<text x="0" y="0" font-size="7.0" fill="#222" transform="translate(288.30 493.72) scale(0.9 1)" text-anchor="end" class="k">20</text>
<line x1="290.90" y1="481.64" x2="293.90" y2="481.64" stroke="#000" stroke-width="0.7" />
<text x="0" y="0" font-size="7.0" fill="#222" transform="translate(288.30 483.84) scale(0.9 1)" text-anchor="end" class="k">40</text>
<line x1="290.90" y1="471.76" x2="293.90" y2="471.76" stroke="#000" stroke-width="0.7" />
<text x="0" y="0" font-size="7.0" fill="#222" transform="translate(288.30 473.96) scale(0.9 1)" text-anchor="end" class="k">60</text>
<line x1="290.90" y1="461.88" x2="293.90" y2="461.88" stroke="#000" stroke-width="0.7" />
<text x="0" y="0" font-size="7.0" fill="#222" transform="translate(288.30 464.08) scale(0.9 1)" text-anchor="end" class="k">80</text>
<line x1="290.90" y1="452.00" x2="293.90" y2="452.00" stroke="#000" stroke-width="0.7" />
<text x="0" y="0" font-size="7.0" fill="#222" transform="translate(288.30 454.20) scale(0.9 1)" text-anchor="end" class="k">100</text>
<line x1="311.40" y1="501.40" x2="311.40" y2="503.60" stroke="#000" stroke-width="0.7" />
<text x="0" y="0" font-size="7.0" fill="#222" transform="translate(311.40 513.30) scale(0.9 1)" text-anchor="middle" class="k">48</text>
<line x1="346.75" y1="501.40" x2="346.75" y2="503.60" stroke="#000" stroke-width="0.7" />
<text x="0" y="0" font-size="7.0" fill="#222" transform="translate(346.75 513.30) scale(0.9 1)" text-anchor="middle" class="k">72</text>
<text x="329.30" y="524.80" font-size="8.8" fill="#222" text-anchor="middle" textLength="26.5" lengthAdjust="spacingAndGlyphs" class="k">Time (hr)</text>
<text x="262.00" y="478.6" font-size="8.4" fill="#222" text-anchor="middle" transform="rotate(-90 262.00 478.6)" textLength="44" lengthAdjust="spacingAndGlyphs" class="k">% of annexin V</text>
<text x="257.30" y="454.4" font-size="5.0" fill="#222" transform="rotate(-90 260.00 454.6)">+</text>
<text x="272.50" y="475.30" font-size="8.2" fill="#222" text-anchor="middle" textLength="13.5" lengthAdjust="spacingAndGlyphs" transform="rotate(-90 272.50 475.30)" class="k">cells</text>
<text x="0" y="0" font-size="8.6" fill="#2c55a0" stroke="#2c55a0" stroke-width="0.12" transform="translate(306.00 443.60) scale(0.92 1)">NTRK3</text>
<text x="332.94" y="440.50" font-size="6.0" fill="#2c55a0" stroke="#2c55a0" stroke-width="0.12">E176D</text>
<rect x="420.10" y="500.66" width="6.55" height="0.74" fill="#d0d0d5" stroke="none" stroke-width="0" />
<path d="M423.38 500.66V500.16M421.15 500.16H425.60" stroke="#111" stroke-width="0.9" fill="none"/>
<rect x="426.95" y="498.44" width="6.55" height="2.96" fill="#e2901c" stroke="none" stroke-width="0" />
<path d="M430.23 498.44V497.94M428.00 497.94H432.45" stroke="#111" stroke-width="0.9" fill="none"/>
<rect x="433.80" y="464.84" width="6.55" height="36.56" fill="#63a9e2" stroke="none" stroke-width="0" />
<path d="M437.07 464.84V464.35M434.85 464.35H439.30" stroke="#111" stroke-width="0.9" fill="none"/>
<rect x="440.65" y="461.88" width="6.55" height="39.52" fill="#4a5264" stroke="none" stroke-width="0" />
<path d="M443.93 461.88V461.39M441.70 461.39H446.15" stroke="#111" stroke-width="0.9" fill="none"/>
<rect x="455.45" y="500.66" width="6.55" height="0.74" fill="#d0d0d5" stroke="none" stroke-width="0" />
<path d="M458.72 500.66V500.16M456.50 500.16H460.95" stroke="#111" stroke-width="0.9" fill="none"/>
<rect x="462.30" y="497.94" width="6.55" height="3.46" fill="#e2901c" stroke="none" stroke-width="0" />
<path d="M465.57 497.94V497.45M463.35 497.45H467.80" stroke="#111" stroke-width="0.9" fill="none"/>
<rect x="469.15" y="457.43" width="6.55" height="43.97" fill="#63a9e2" stroke="none" stroke-width="0" />
<path d="M472.42 457.43V456.94M470.20 456.94H474.65" stroke="#111" stroke-width="0.9" fill="none"/>
<rect x="476.00" y="454.96" width="6.55" height="46.44" fill="#4a5264" stroke="none" stroke-width="0" />
<path d="M479.27 454.96V454.47M477.05 454.47H481.50" stroke="#111" stroke-width="0.9" fill="none"/>
<line x1="416.15" y1="448.80" x2="416.15" y2="501.90" stroke="#000" stroke-width="0.95" />
<line x1="415.70" y1="501.40" x2="487.15" y2="501.40" stroke="#000" stroke-width="0.9" />
<line x1="413.15" y1="501.40" x2="416.15" y2="501.40" stroke="#000" stroke-width="0.7" />
<text x="0" y="0" font-size="7.0" fill="#222" transform="translate(410.55 503.60) scale(0.9 1)" text-anchor="end" class="k">0</text>
<line x1="413.15" y1="491.52" x2="416.15" y2="491.52" stroke="#000" stroke-width="0.7" />
<text x="0" y="0" font-size="7.0" fill="#222" transform="translate(410.55 493.72) scale(0.9 1)" text-anchor="end" class="k">20</text>
<line x1="413.15" y1="481.64" x2="416.15" y2="481.64" stroke="#000" stroke-width="0.7" />
<text x="0" y="0" font-size="7.0" fill="#222" transform="translate(410.55 483.84) scale(0.9 1)" text-anchor="end" class="k">40</text>
<line x1="413.15" y1="471.76" x2="416.15" y2="471.76" stroke="#000" stroke-width="0.7" />
<text x="0" y="0" font-size="7.0" fill="#222" transform="translate(410.55 473.96) scale(0.9 1)" text-anchor="end" class="k">60</text>
<line x1="413.15" y1="461.88" x2="416.15" y2="461.88" stroke="#000" stroke-width="0.7" />
<text x="0" y="0" font-size="7.0" fill="#222" transform="translate(410.55 464.08) scale(0.9 1)" text-anchor="end" class="k">80</text>
<line x1="413.15" y1="452.00" x2="416.15" y2="452.00" stroke="#000" stroke-width="0.7" />
<text x="0" y="0" font-size="7.0" fill="#222" transform="translate(410.55 454.20) scale(0.9 1)" text-anchor="end" class="k">100</text>
<line x1="433.65" y1="501.40" x2="433.65" y2="503.60" stroke="#000" stroke-width="0.7" />
<text x="0" y="0" font-size="7.0" fill="#222" transform="translate(433.65 513.30) scale(0.9 1)" text-anchor="middle" class="k">48</text>
<line x1="469.00" y1="501.40" x2="469.00" y2="503.60" stroke="#000" stroke-width="0.7" />
<text x="0" y="0" font-size="7.0" fill="#222" transform="translate(469.00 513.30) scale(0.9 1)" text-anchor="middle" class="k">72</text>
<text x="451.55" y="524.80" font-size="8.8" fill="#222" text-anchor="middle" textLength="26.5" lengthAdjust="spacingAndGlyphs" class="k">Time (hr)</text>
<text x="384.25" y="478.6" font-size="8.4" fill="#222" text-anchor="middle" transform="rotate(-90 384.25 478.6)" textLength="44" lengthAdjust="spacingAndGlyphs" class="k">% of annexin V</text>
<text x="379.55" y="454.4" font-size="5.0" fill="#222" transform="rotate(-90 382.25 454.6)">+</text>
<text x="394.75" y="475.30" font-size="8.2" fill="#222" text-anchor="middle" textLength="13.5" lengthAdjust="spacingAndGlyphs" transform="rotate(-90 394.75 475.30)" class="k">cells</text>
<text x="0" y="0" font-size="8.6" fill="#c27a2e" stroke="#c27a2e" stroke-width="0.12" transform="translate(428.20 443.60) scale(0.92 1)">NTRK3</text>
<text x="455.14" y="440.50" font-size="6.0" fill="#c27a2e" stroke="#c27a2e" stroke-width="0.12">L449F</text>
<rect x="177.20" y="537.40" width="8.90" height="3.70" fill="#d0d0d5" stroke="none" stroke-width="0" />
<text x="189.00" y="541.10" font-size="5.5" fill="#222" textLength="24.5" lengthAdjust="spacingAndGlyphs" >Untreated</text>
<rect x="222.70" y="537.40" width="9.30" height="3.70" fill="#e2901c" stroke="none" stroke-width="0" />
<text x="234.60" y="541.10" font-size="5.5" fill="#222" textLength="24.2" lengthAdjust="spacingAndGlyphs" >5 nM ENT</text>
<rect x="268.30" y="537.40" width="9.30" height="3.70" fill="#63a9e2" stroke="none" stroke-width="0" />
<text x="280.50" y="541.10" font-size="5.5" fill="#222" textLength="27.1" lengthAdjust="spacingAndGlyphs" >25 nM ENT</text>
<rect x="316.40" y="537.40" width="9.40" height="3.70" fill="#4a5264" stroke="none" stroke-width="0" />
<text x="329.20" y="541.10" font-size="5.5" fill="#222" textLength="30.0" lengthAdjust="spacingAndGlyphs" >100 nM ENT</text>
<text x="0" y="0" font-size="9.0" fill="#2f6b55" stroke="#2f6b55" stroke-width="0.12" transform="translate(34.50 574.30) scale(0.91 1)">NTRK2</text>
<text x="61.65" y="571.10" font-size="6.0" fill="#2f6b55" stroke="#2f6b55" stroke-width="0.12">A203T</text>
<text x="7.40" y="583.60" font-size="4.6" fill="#222" textLength="15" lengthAdjust="spacingAndGlyphs" >ENT (nM)</text>
<text x="30.50" y="583.60" font-size="4.8" fill="#222" text-anchor="middle" >0</text>
<text x="41.20" y="583.60" font-size="4.8" fill="#222" text-anchor="middle" >5</text>
<text x="52.00" y="583.60" font-size="4.8" fill="#222" text-anchor="middle" >25</text>
<text x="62.50" y="583.60" font-size="4.8" fill="#222" text-anchor="middle" >75</text>
<text x="73.00" y="583.60" font-size="4.8" fill="#222" text-anchor="middle" >100</text>
<text x="84.20" y="583.60" font-size="4.8" fill="#222" text-anchor="middle" >250</text>
<g filter="url(#bb)">
<rect x="25.10" y="585.80" width="65.30" height="7.40" fill="#d4d4d4" stroke="none" stroke-width="0" />
<rect x="25.75" y="588.15" width="9.58" height="2.30" rx="1.00" fill="#000" fill-opacity="0.66" filter="url(#b1)"/>
<rect x="36.64" y="588.15" width="9.58" height="2.30" rx="1.00" fill="#000" fill-opacity="0.14" filter="url(#b1)"/>
<rect x="47.52" y="588.15" width="9.58" height="2.30" rx="1.00" fill="#000" fill-opacity="0.10" filter="url(#b1)"/>
<rect x="58.40" y="588.15" width="9.58" height="2.30" rx="1.00" fill="#000" fill-opacity="0.10" filter="url(#b1)"/>
<rect x="69.29" y="588.15" width="9.58" height="2.30" rx="1.00" fill="#000" fill-opacity="0.10" filter="url(#b1)"/>
<rect x="80.17" y="588.15" width="9.58" height="2.30" rx="1.00" fill="#000" fill-opacity="0.10" filter="url(#b1)"/>
<rect x="25.10" y="585.80" width="65.30" height="7.40" fill="none" stroke="#7a7a7a" stroke-width="0.95" />
<rect x="25.10" y="594.30" width="65.30" height="9.90" fill="#d2d2d2" stroke="none" stroke-width="0" />
<rect x="25.75" y="596.15" width="9.58" height="2.30" rx="1.00" fill="#000" fill-opacity="0.47" filter="url(#b1)"/>
<rect x="36.64" y="596.15" width="9.58" height="2.30" rx="1.00" fill="#000" fill-opacity="0.43" filter="url(#b1)"/>
<rect x="47.52" y="596.15" width="9.58" height="2.30" rx="1.00" fill="#000" fill-opacity="0.57" filter="url(#b1)"/>
<rect x="58.40" y="596.15" width="9.58" height="2.30" rx="1.00" fill="#000" fill-opacity="0.52" filter="url(#b1)"/>
<rect x="69.29" y="596.15" width="9.58" height="2.30" rx="1.00" fill="#000" fill-opacity="0.47" filter="url(#b1)"/>
<rect x="80.17" y="596.15" width="9.58" height="2.30" rx="1.00" fill="#000" fill-opacity="0.43" filter="url(#b1)"/>
<rect x="25.75" y="600.25" width="9.58" height="2.10" rx="1.00" fill="#000" fill-opacity="0.43" filter="url(#b1)"/>
<rect x="36.64" y="600.25" width="9.58" height="2.10" rx="1.00" fill="#000" fill-opacity="0.38" filter="url(#b1)"/>
<rect x="47.52" y="600.25" width="9.58" height="2.10" rx="1.00" fill="#000" fill-opacity="0.43" filter="url(#b1)"/>
<rect x="58.40" y="600.25" width="9.58" height="2.10" rx="1.00" fill="#000" fill-opacity="0.43" filter="url(#b1)"/>
<rect x="69.29" y="600.25" width="9.58" height="2.10" rx="1.00" fill="#000" fill-opacity="0.43" filter="url(#b1)"/>
<rect x="80.17" y="600.25" width="9.58" height="2.10" rx="1.00" fill="#000" fill-opacity="0.43" filter="url(#b1)"/>
<rect x="25.10" y="594.30" width="65.30" height="9.90" fill="none" stroke="#7a7a7a" stroke-width="0.95" />
<rect x="25.10" y="605.80" width="65.30" height="7.00" fill="#d9d9d9" stroke="none" stroke-width="0" />
<rect x="25.75" y="607.85" width="9.58" height="2.70" rx="1.00" fill="#000" fill-opacity="0.85" filter="url(#b1)"/>
<rect x="36.64" y="607.85" width="9.58" height="2.70" rx="1.00" fill="#000" fill-opacity="0.66" filter="url(#b1)"/>
<rect x="47.52" y="607.85" width="9.58" height="2.70" rx="1.00" fill="#000" fill-opacity="0.85" filter="url(#b1)"/>
<rect x="58.40" y="607.85" width="9.58" height="2.70" rx="1.00" fill="#000" fill-opacity="0.90" filter="url(#b1)"/>
<rect x="69.29" y="607.85" width="9.58" height="2.70" rx="1.00" fill="#000" fill-opacity="0.52" filter="url(#b1)"/>
<rect x="80.17" y="607.85" width="9.58" height="2.70" rx="1.00" fill="#000" fill-opacity="0.28" filter="url(#b1)"/>
<rect x="25.10" y="605.80" width="65.30" height="7.00" fill="none" stroke="#7a7a7a" stroke-width="0.95" />
<rect x="25.10" y="613.50" width="65.30" height="7.10" fill="#d5d5d5" stroke="none" stroke-width="0" />
<rect x="25.75" y="615.90" width="9.58" height="2.20" rx="1.00" fill="#000" fill-opacity="0.57" filter="url(#b1)"/>
<rect x="36.64" y="615.90" width="9.58" height="2.20" rx="1.00" fill="#000" fill-opacity="0.52" filter="url(#b1)"/>
<rect x="47.52" y="615.90" width="9.58" height="2.20" rx="1.00" fill="#000" fill-opacity="0.57" filter="url(#b1)"/>
<rect x="58.40" y="615.90" width="9.58" height="2.20" rx="1.00" fill="#000" fill-opacity="0.57" filter="url(#b1)"/>
<rect x="69.29" y="615.90" width="9.58" height="2.20" rx="1.00" fill="#000" fill-opacity="0.57" filter="url(#b1)"/>
<rect x="80.17" y="615.90" width="9.58" height="2.20" rx="1.00" fill="#000" fill-opacity="0.57" filter="url(#b1)"/>
<rect x="25.10" y="613.50" width="65.30" height="7.10" fill="none" stroke="#7a7a7a" stroke-width="0.95" />
<rect x="25.10" y="621.50" width="65.30" height="8.10" fill="#d7d7d7" stroke="none" stroke-width="0" />
<rect x="25.75" y="623.20" width="9.58" height="2.00" rx="1.00" fill="#000" fill-opacity="0.62" filter="url(#b1)"/>
<rect x="36.64" y="623.20" width="9.58" height="2.00" rx="1.00" fill="#000" fill-opacity="0.57" filter="url(#b1)"/>
<rect x="47.52" y="623.20" width="9.58" height="2.00" rx="1.00" fill="#000" fill-opacity="0.57" filter="url(#b1)"/>
<rect x="58.40" y="623.20" width="9.58" height="2.00" rx="1.00" fill="#000" fill-opacity="0.57" filter="url(#b1)"/>
<rect x="69.29" y="623.20" width="9.58" height="2.00" rx="1.00" fill="#000" fill-opacity="0.57" filter="url(#b1)"/>
<rect x="80.17" y="623.20" width="9.58" height="2.00" rx="1.00" fill="#000" fill-opacity="0.57" filter="url(#b1)"/>
<rect x="25.75" y="625.95" width="9.58" height="2.10" rx="1.00" fill="#000" fill-opacity="0.76" filter="url(#b1)"/>
<rect x="36.64" y="625.95" width="9.58" height="2.10" rx="1.00" fill="#000" fill-opacity="0.71" filter="url(#b1)"/>
<rect x="47.52" y="625.95" width="9.58" height="2.10" rx="1.00" fill="#000" fill-opacity="0.71" filter="url(#b1)"/>
<rect x="58.40" y="625.95" width="9.58" height="2.10" rx="1.00" fill="#000" fill-opacity="0.66" filter="url(#b1)"/>
<rect x="69.29" y="625.95" width="9.58" height="2.10" rx="1.00" fill="#000" fill-opacity="0.66" filter="url(#b1)"/>
<rect x="80.17" y="625.95" width="9.58" height="2.10" rx="1.00" fill="#000" fill-opacity="0.66" filter="url(#b1)"/>
<rect x="25.10" y="621.50" width="65.30" height="8.10" fill="none" stroke="#7a7a7a" stroke-width="0.95" />
<rect x="25.10" y="630.30" width="65.30" height="6.20" fill="#dddddd" stroke="none" stroke-width="0" />
<rect x="25.37" y="632.30" width="10.34" height="2.20" rx="1.00" fill="#000" fill-opacity="0.81" filter="url(#b1)"/>
<rect x="36.26" y="632.30" width="10.34" height="2.20" rx="1.00" fill="#000" fill-opacity="0.81" filter="url(#b1)"/>
<rect x="47.14" y="632.30" width="10.34" height="2.20" rx="1.00" fill="#000" fill-opacity="0.81" filter="url(#b1)"/>
<rect x="58.02" y="632.30" width="10.34" height="2.20" rx="1.00" fill="#000" fill-opacity="0.81" filter="url(#b1)"/>
<rect x="68.91" y="632.30" width="10.34" height="2.20" rx="1.00" fill="#000" fill-opacity="0.81" filter="url(#b1)"/>
<rect x="79.79" y="632.30" width="10.34" height="2.20" rx="1.00" fill="#000" fill-opacity="0.81" filter="url(#b1)"/>
<rect x="25.10" y="630.30" width="65.30" height="6.20" fill="none" stroke="#7a7a7a" stroke-width="0.95" />
</g>
<text x="0" y="0" font-size="4.7" fill="#222" transform="translate(93.50 591.10) scale(0.87 1)" >p-TrkB (Tyr516)</text>
<text x="0" y="0" font-size="4.7" fill="#222" transform="translate(93.50 600.85) scale(0.87 1)" >Total TrkB</text>
<text x="0" y="0" font-size="4.7" fill="#222" transform="translate(93.50 610.90) scale(0.87 1)" >p-STAT3 (Tyr705)</text>
<text x="0" y="0" font-size="4.7" fill="#222" transform="translate(93.50 618.65) scale(0.87 1)" >p-AKT (Ser473)</text>
<text x="0" y="0" font-size="4.7" fill="#222" transform="translate(93.50 627.15) scale(0.87 1)" >p-ERK (Thr202/Tyr204)</text>
<text x="0" y="0" font-size="4.7" fill="#222" transform="translate(93.50 635.00) scale(0.87 1)" >GAPDH</text>
<text x="0" y="0" font-size="9.0" fill="#6b3d8e" stroke="#6b3d8e" stroke-width="0.12" transform="translate(160.50 574.30) scale(0.91 1)">NTRK2</text>
<text x="187.65" y="571.10" font-size="6.0" fill="#6b3d8e" stroke="#6b3d8e" stroke-width="0.12">R458G</text>
<text x="133.00" y="583.60" font-size="4.6" fill="#222" textLength="15" lengthAdjust="spacingAndGlyphs" >ENT (nM)</text>
<text x="157.50" y="583.60" font-size="4.8" fill="#222" text-anchor="middle" >0</text>
<text x="167.00" y="583.60" font-size="4.8" fill="#222" text-anchor="middle" >5</text>
<text x="178.00" y="583.60" font-size="4.8" fill="#222" text-anchor="middle" >25</text>
<text x="188.70" y="583.60" font-size="4.8" fill="#222" text-anchor="middle" >75</text>
<text x="199.50" y="583.60" font-size="4.8" fill="#222" text-anchor="middle" >100</text>
<text x="210.70" y="583.60" font-size="4.8" fill="#222" text-anchor="middle" >250</text>
<g filter="url(#bb)">
<rect x="150.90" y="585.80" width="64.50" height="6.90" fill="#d4d4d4" stroke="none" stroke-width="0" />
<rect x="151.55" y="587.95" width="9.46" height="2.10" rx="1.00" fill="#000" fill-opacity="0.52" filter="url(#b1)"/>
<rect x="162.30" y="587.95" width="9.46" height="2.10" rx="1.00" fill="#000" fill-opacity="0.14" filter="url(#b1)"/>
<rect x="173.05" y="587.95" width="9.46" height="2.10" rx="1.00" fill="#000" fill-opacity="0.10" filter="url(#b1)"/>
<rect x="183.80" y="587.95" width="9.46" height="2.10" rx="1.00" fill="#000" fill-opacity="0.10" filter="url(#b1)"/>
<rect x="194.55" y="587.95" width="9.46" height="2.10" rx="1.00" fill="#000" fill-opacity="0.10" filter="url(#b1)"/>
<rect x="205.30" y="587.95" width="9.46" height="2.10" rx="1.00" fill="#000" fill-opacity="0.10" filter="url(#b1)"/>
<rect x="150.90" y="585.80" width="64.50" height="6.90" fill="none" stroke="#7a7a7a" stroke-width="0.95" />
<rect x="150.90" y="593.80" width="64.50" height="9.30" fill="#d0d0d0" stroke="none" stroke-width="0" />
<rect x="151.55" y="595.45" width="9.46" height="2.30" rx="1.00" fill="#000" fill-opacity="0.47" filter="url(#b1)"/>
<rect x="162.30" y="595.45" width="9.46" height="2.30" rx="1.00" fill="#000" fill-opacity="0.52" filter="url(#b1)"/>
<rect x="173.05" y="595.45" width="9.46" height="2.30" rx="1.00" fill="#000" fill-opacity="0.52" filter="url(#b1)"/>
<rect x="183.80" y="595.45" width="9.46" height="2.30" rx="1.00" fill="#000" fill-opacity="0.33" filter="url(#b1)"/>
<rect x="194.55" y="595.45" width="9.46" height="2.30" rx="1.00" fill="#000" fill-opacity="0.43" filter="url(#b1)"/>
<rect x="205.30" y="595.45" width="9.46" height="2.30" rx="1.00" fill="#000" fill-opacity="0.47" filter="url(#b1)"/>
<rect x="151.55" y="599.35" width="9.46" height="2.10" rx="1.00" fill="#000" fill-opacity="0.47" filter="url(#b1)"/>
<rect x="162.30" y="599.35" width="9.46" height="2.10" rx="1.00" fill="#000" fill-opacity="0.47" filter="url(#b1)"/>
<rect x="173.05" y="599.35" width="9.46" height="2.10" rx="1.00" fill="#000" fill-opacity="0.47" filter="url(#b1)"/>
<rect x="183.80" y="599.35" width="9.46" height="2.10" rx="1.00" fill="#000" fill-opacity="0.43" filter="url(#b1)"/>
<rect x="194.55" y="599.35" width="9.46" height="2.10" rx="1.00" fill="#000" fill-opacity="0.43" filter="url(#b1)"/>
<rect x="205.30" y="599.35" width="9.46" height="2.10" rx="1.00" fill="#000" fill-opacity="0.43" filter="url(#b1)"/>
<rect x="150.90" y="593.80" width="64.50" height="9.30" fill="none" stroke="#7a7a7a" stroke-width="0.95" />
<rect x="150.90" y="604.70" width="64.50" height="7.10" fill="#dbdbdb" stroke="none" stroke-width="0" />
<rect x="151.55" y="606.45" width="9.46" height="2.90" rx="1.00" fill="#000" fill-opacity="0.90" filter="url(#b1)"/>
<rect x="162.30" y="606.45" width="9.46" height="2.90" rx="1.00" fill="#000" fill-opacity="0.90" filter="url(#b1)"/>
<rect x="173.05" y="606.45" width="9.46" height="2.90" rx="1.00" fill="#000" fill-opacity="0.81" filter="url(#b1)"/>
<rect x="183.80" y="606.45" width="9.46" height="2.90" rx="1.00" fill="#000" fill-opacity="0.81" filter="url(#b1)"/>
<rect x="194.55" y="606.45" width="9.46" height="2.90" rx="1.00" fill="#000" fill-opacity="0.85" filter="url(#b1)"/>
<rect x="205.30" y="606.45" width="9.46" height="2.90" rx="1.00" fill="#000" fill-opacity="0.85" filter="url(#b1)"/>
<rect x="150.90" y="604.70" width="64.50" height="7.10" fill="none" stroke="#7a7a7a" stroke-width="0.95" />
<rect x="150.90" y="612.80" width="64.50" height="6.90" fill="#d5d5d5" stroke="none" stroke-width="0" />
<rect x="151.55" y="614.90" width="9.46" height="2.20" rx="1.00" fill="#000" fill-opacity="0.52" filter="url(#b1)"/>
<rect x="162.30" y="614.90" width="9.46" height="2.20" rx="1.00" fill="#000" fill-opacity="0.52" filter="url(#b1)"/>
<rect x="173.05" y="614.90" width="9.46" height="2.20" rx="1.00" fill="#000" fill-opacity="0.52" filter="url(#b1)"/>
<rect x="183.80" y="614.90" width="9.46" height="2.20" rx="1.00" fill="#000" fill-opacity="0.52" filter="url(#b1)"/>
<rect x="194.55" y="614.90" width="9.46" height="2.20" rx="1.00" fill="#000" fill-opacity="0.47" filter="url(#b1)"/>
<rect x="205.30" y="614.90" width="9.46" height="2.20" rx="1.00" fill="#000" fill-opacity="0.47" filter="url(#b1)"/>
<rect x="150.90" y="612.80" width="64.50" height="6.90" fill="none" stroke="#7a7a7a" stroke-width="0.95" />
<rect x="150.90" y="621.10" width="64.50" height="8.10" fill="#d4d4d4" stroke="none" stroke-width="0" />
<rect x="151.55" y="622.35" width="9.46" height="1.90" rx="0.95" fill="#000" fill-opacity="0.33" filter="url(#b1)"/>
<rect x="162.30" y="622.35" width="9.46" height="1.90" rx="0.95" fill="#000" fill-opacity="0.43" filter="url(#b1)"/>
<rect x="173.05" y="622.35" width="9.46" height="1.90" rx="0.95" fill="#000" fill-opacity="0.33" filter="url(#b1)"/>
<rect x="183.80" y="622.35" width="9.46" height="1.90" rx="0.95" fill="#000" fill-opacity="0.28" filter="url(#b1)"/>
<rect x="194.55" y="622.35" width="9.46" height="1.90" rx="0.95" fill="#000" fill-opacity="0.33" filter="url(#b1)"/>
<rect x="205.30" y="622.35" width="9.46" height="1.90" rx="0.95" fill="#000" fill-opacity="0.28" filter="url(#b1)"/>
<rect x="151.55" y="625.10" width="9.46" height="2.20" rx="1.00" fill="#000" fill-opacity="0.76" filter="url(#b1)"/>
<rect x="162.30" y="625.10" width="9.46" height="2.20" rx="1.00" fill="#000" fill-opacity="0.81" filter="url(#b1)"/>
<rect x="173.05" y="625.10" width="9.46" height="2.20" rx="1.00" fill="#000" fill-opacity="0.71" filter="url(#b1)"/>
<rect x="183.80" y="625.10" width="9.46" height="2.20" rx="1.00" fill="#000" fill-opacity="0.66" filter="url(#b1)"/>
<rect x="194.55" y="625.10" width="9.46" height="2.20" rx="1.00" fill="#000" fill-opacity="0.71" filter="url(#b1)"/>
<rect x="205.30" y="625.10" width="9.46" height="2.20" rx="1.00" fill="#000" fill-opacity="0.62" filter="url(#b1)"/>
<rect x="150.90" y="621.10" width="64.50" height="8.10" fill="none" stroke="#7a7a7a" stroke-width="0.95" />
<rect x="150.90" y="630.30" width="64.50" height="6.20" fill="#dddddd" stroke="none" stroke-width="0" />
<rect x="151.17" y="632.30" width="10.21" height="2.20" rx="1.00" fill="#000" fill-opacity="0.81" filter="url(#b1)"/>
<rect x="161.92" y="632.30" width="10.21" height="2.20" rx="1.00" fill="#000" fill-opacity="0.81" filter="url(#b1)"/>
<rect x="172.67" y="632.30" width="10.21" height="2.20" rx="1.00" fill="#000" fill-opacity="0.81" filter="url(#b1)"/>
<rect x="183.42" y="632.30" width="10.21" height="2.20" rx="1.00" fill="#000" fill-opacity="0.81" filter="url(#b1)"/>
<rect x="194.17" y="632.30" width="10.21" height="2.20" rx="1.00" fill="#000" fill-opacity="0.81" filter="url(#b1)"/>
<rect x="204.92" y="632.30" width="10.21" height="2.20" rx="1.00" fill="#000" fill-opacity="0.81" filter="url(#b1)"/>
<rect x="150.90" y="630.30" width="64.50" height="6.20" fill="none" stroke="#7a7a7a" stroke-width="0.95" />
</g>
<text x="0" y="0" font-size="4.7" fill="#222" transform="translate(218.90 590.85) scale(0.87 1)" >p-TrkB (Tyr516)</text>
<text x="0" y="0" font-size="4.7" fill="#222" transform="translate(218.90 600.05) scale(0.87 1)" >Total TrkB</text>
<text x="0" y="0" font-size="4.7" fill="#222" transform="translate(218.90 609.85) scale(0.87 1)" >p-STAT3 (Tyr705)</text>
<text x="0" y="0" font-size="4.7" fill="#222" transform="translate(218.90 617.85) scale(0.87 1)" >p-AKT (Ser473)</text>
<text x="0" y="0" font-size="4.7" fill="#222" transform="translate(218.90 626.75) scale(0.87 1)" >p-ERK (Thr202/Tyr204)</text>
<text x="0" y="0" font-size="4.7" fill="#222" transform="translate(218.90 635.00) scale(0.87 1)" >GAPDH</text>
<text x="0" y="0" font-size="9.0" fill="#2c55a0" stroke="#2c55a0" stroke-width="0.12" transform="translate(286.20 574.30) scale(0.91 1)">NTRK3</text>
<text x="313.35" y="571.10" font-size="6.0" fill="#2c55a0" stroke="#2c55a0" stroke-width="0.12">E176D</text>
<text x="257.80" y="583.60" font-size="4.6" fill="#222" textLength="15" lengthAdjust="spacingAndGlyphs" >ENT (nM)</text>
<text x="282.50" y="583.60" font-size="4.8" fill="#222" text-anchor="middle" >0</text>
<text x="293.00" y="583.60" font-size="4.8" fill="#222" text-anchor="middle" >5</text>
<text x="303.70" y="583.60" font-size="4.8" fill="#222" text-anchor="middle" >25</text>
<text x="313.70" y="583.60" font-size="4.8" fill="#222" text-anchor="middle" >75</text>
<text x="324.20" y="583.60" font-size="4.8" fill="#222" text-anchor="middle" >100</text>
<text x="335.50" y="583.60" font-size="4.8" fill="#222" text-anchor="middle" >250</text>
<g filter="url(#bb)">
<rect x="276.50" y="585.80" width="65.00" height="6.90" fill="#d2d2d2" stroke="none" stroke-width="0" />
<rect x="277.15" y="587.40" width="9.53" height="2.20" rx="1.00" fill="#000" fill-opacity="0.66" filter="url(#b1)"/>
<rect x="287.98" y="587.40" width="9.53" height="2.20" rx="1.00" fill="#000" fill-opacity="0.10" filter="url(#b1)"/>
<rect x="298.82" y="587.40" width="9.53" height="2.20" rx="1.00" fill="#000" fill-opacity="0.05" filter="url(#b1)"/>
<rect x="309.65" y="587.40" width="9.53" height="2.20" rx="1.00" fill="#000" fill-opacity="0.05" filter="url(#b1)"/>
<rect x="320.48" y="587.40" width="9.53" height="2.20" rx="1.00" fill="#000" fill-opacity="0.05" filter="url(#b1)"/>
<rect x="331.32" y="587.40" width="9.53" height="2.20" rx="1.00" fill="#000" fill-opacity="0.05" filter="url(#b1)"/>
<rect x="276.50" y="585.80" width="65.00" height="6.90" fill="none" stroke="#7a7a7a" stroke-width="0.95" />
<rect x="276.50" y="594.30" width="65.00" height="10.40" fill="#d2d2d2" stroke="none" stroke-width="0" />
<rect x="277.15" y="595.95" width="9.53" height="2.30" rx="1.00" fill="#000" fill-opacity="0.76" filter="url(#b1)"/>
<rect x="287.98" y="595.95" width="9.53" height="2.30" rx="1.00" fill="#000" fill-opacity="0.28" filter="url(#b1)"/>
<rect x="298.82" y="595.95" width="9.53" height="2.30" rx="1.00" fill="#000" fill-opacity="0.33" filter="url(#b1)"/>
<rect x="309.65" y="595.95" width="9.53" height="2.30" rx="1.00" fill="#000" fill-opacity="0.28" filter="url(#b1)"/>
<rect x="320.48" y="595.95" width="9.53" height="2.30" rx="1.00" fill="#000" fill-opacity="0.28" filter="url(#b1)"/>
<rect x="331.32" y="595.95" width="9.53" height="2.30" rx="1.00" fill="#000" fill-opacity="0.19" filter="url(#b1)"/>
<rect x="277.15" y="600.60" width="9.53" height="2.00" rx="1.00" fill="#000" fill-opacity="0.85" filter="url(#b1)"/>
<rect x="287.98" y="600.60" width="9.53" height="2.00" rx="1.00" fill="#000" fill-opacity="0.47" filter="url(#b1)"/>
<rect x="298.82" y="600.60" width="9.53" height="2.00" rx="1.00" fill="#000" fill-opacity="0.43" filter="url(#b1)"/>
<rect x="309.65" y="600.60" width="9.53" height="2.00" rx="1.00" fill="#000" fill-opacity="0.38" filter="url(#b1)"/>
<rect x="320.48" y="600.60" width="9.53" height="2.00" rx="1.00" fill="#000" fill-opacity="0.43" filter="url(#b1)"/>
<rect x="331.32" y="600.60" width="9.53" height="2.00" rx="1.00" fill="#000" fill-opacity="0.28" filter="url(#b1)"/>
<rect x="276.50" y="594.30" width="65.00" height="10.40" fill="none" stroke="#7a7a7a" stroke-width="0.95" />
<rect x="276.50" y="605.80" width="65.00" height="7.70" fill="#d0d0d0" stroke="none" stroke-width="0" />
<rect x="277.15" y="607.25" width="9.53" height="2.10" rx="1.00" fill="#000" fill-opacity="0.85" filter="url(#b1)"/>
<rect x="277.15" y="610.15" width="9.53" height="1.70" rx="0.85" fill="#000" fill-opacity="0.66" filter="url(#b1)"/>
<rect x="287.98" y="608.55" width="9.53" height="2.10" rx="1.00" fill="#000" fill-opacity="0.52" filter="url(#b1)"/>
<rect x="298.82" y="608.55" width="9.53" height="2.10" rx="1.00" fill="#000" fill-opacity="0.62" filter="url(#b1)"/>
<rect x="309.65" y="608.55" width="9.53" height="2.10" rx="1.00" fill="#000" fill-opacity="0.57" filter="url(#b1)"/>
<rect x="320.48" y="608.55" width="9.53" height="2.10" rx="1.00" fill="#000" fill-opacity="0.57" filter="url(#b1)"/>
<rect x="331.32" y="608.55" width="9.53" height="2.10" rx="1.00" fill="#000" fill-opacity="0.57" filter="url(#b1)"/>
<rect x="276.50" y="605.80" width="65.00" height="7.70" fill="none" stroke="#7a7a7a" stroke-width="0.95" />
<rect x="276.50" y="613.90" width="65.00" height="7.20" fill="#c8c8c8" stroke="none" stroke-width="0" />
<rect x="277.15" y="616.15" width="9.53" height="2.30" rx="1.00" fill="#000" fill-opacity="0.81" filter="url(#b1)"/>
<rect x="287.98" y="616.15" width="9.53" height="2.30" rx="1.00" fill="#000" fill-opacity="0.71" filter="url(#b1)"/>
<rect x="298.82" y="616.15" width="9.53" height="2.30" rx="1.00" fill="#000" fill-opacity="0.81" filter="url(#b1)"/>
<rect x="309.65" y="616.15" width="9.53" height="2.30" rx="1.00" fill="#000" fill-opacity="0.66" filter="url(#b1)"/>
<rect x="320.48" y="616.15" width="9.53" height="2.30" rx="1.00" fill="#000" fill-opacity="0.71" filter="url(#b1)"/>
<rect x="331.32" y="616.15" width="9.53" height="2.30" rx="1.00" fill="#000" fill-opacity="0.66" filter="url(#b1)"/>
<rect x="276.50" y="613.90" width="65.00" height="7.20" fill="none" stroke="#7a7a7a" stroke-width="0.95" />
<rect x="276.50" y="622.00" width="65.00" height="7.60" fill="#d2d2d2" stroke="none" stroke-width="0" />
<rect x="277.15" y="623.55" width="9.53" height="1.70" rx="0.85" fill="#000" fill-opacity="0.81" filter="url(#b1)"/>
<rect x="287.98" y="623.55" width="9.53" height="1.70" rx="0.85" fill="#000" fill-opacity="0.57" filter="url(#b1)"/>
<rect x="298.82" y="623.55" width="9.53" height="1.70" rx="0.85" fill="#000" fill-opacity="0.28" filter="url(#b1)"/>
<rect x="309.65" y="623.55" width="9.53" height="1.70" rx="0.85" fill="#000" fill-opacity="0.33" filter="url(#b1)"/>
<rect x="320.48" y="623.55" width="9.53" height="1.70" rx="0.85" fill="#000" fill-opacity="0.24" filter="url(#b1)"/>
<rect x="331.32" y="623.55" width="9.53" height="1.70" rx="0.85" fill="#000" fill-opacity="0.24" filter="url(#b1)"/>
<rect x="277.15" y="625.95" width="9.53" height="1.90" rx="0.95" fill="#000" fill-opacity="0.85" filter="url(#b1)"/>
<rect x="287.98" y="625.95" width="9.53" height="1.90" rx="0.95" fill="#000" fill-opacity="0.57" filter="url(#b1)"/>
<rect x="298.82" y="625.95" width="9.53" height="1.90" rx="0.95" fill="#000" fill-opacity="0.38" filter="url(#b1)"/>
<rect x="309.65" y="625.95" width="9.53" height="1.90" rx="0.95" fill="#000" fill-opacity="0.43" filter="url(#b1)"/>
<rect x="320.48" y="625.95" width="9.53" height="1.90" rx="0.95" fill="#000" fill-opacity="0.57" filter="url(#b1)"/>
<rect x="331.32" y="625.95" width="9.53" height="1.90" rx="0.95" fill="#000" fill-opacity="0.66" filter="url(#b1)"/>
<rect x="276.50" y="622.00" width="65.00" height="7.60" fill="none" stroke="#7a7a7a" stroke-width="0.95" />
<rect x="276.50" y="630.80" width="65.00" height="5.70" fill="#dfdfdf" stroke="none" stroke-width="0" />
<rect x="276.77" y="632.60" width="10.29" height="1.80" rx="0.90" fill="#000" fill-opacity="0.81" filter="url(#b1)"/>
<rect x="287.60" y="632.60" width="10.29" height="1.80" rx="0.90" fill="#000" fill-opacity="0.81" filter="url(#b1)"/>
<rect x="298.44" y="632.60" width="10.29" height="1.80" rx="0.90" fill="#000" fill-opacity="0.81" filter="url(#b1)"/>
<rect x="309.27" y="632.60" width="10.29" height="1.80" rx="0.90" fill="#000" fill-opacity="0.81" filter="url(#b1)"/>
<rect x="320.10" y="632.60" width="10.29" height="1.80" rx="0.90" fill="#000" fill-opacity="0.81" filter="url(#b1)"/>
<rect x="330.94" y="632.60" width="10.29" height="1.80" rx="0.90" fill="#000" fill-opacity="0.81" filter="url(#b1)"/>
<rect x="276.50" y="630.80" width="65.00" height="5.70" fill="none" stroke="#7a7a7a" stroke-width="0.95" />
</g>
<text x="0" y="0" font-size="4.7" fill="#222" transform="translate(345.00 590.85) scale(0.87 1)" >p-TrkC (Tyr516)</text>
<text x="0" y="0" font-size="4.7" fill="#222" transform="translate(345.00 601.10) scale(0.87 1)" >Total TrkC</text>
<text x="0" y="0" font-size="4.7" fill="#222" transform="translate(345.00 611.25) scale(0.87 1)" >p-STAT3 (Tyr705)</text>
<text x="0" y="0" font-size="4.7" fill="#222" transform="translate(345.00 619.10) scale(0.87 1)" >p-AKT (Ser473)</text>
<text x="0" y="0" font-size="4.7" fill="#222" transform="translate(345.00 627.40) scale(0.87 1)" >p-ERK (Thr202/Tyr204)</text>
<text x="0" y="0" font-size="4.7" fill="#222" transform="translate(345.00 635.25) scale(0.87 1)" >GAPDH</text>
<text x="0" y="0" font-size="9.0" fill="#c27a2e" stroke="#c27a2e" stroke-width="0.12" transform="translate(412.50 574.30) scale(0.91 1)">NTRK3</text>
<text x="439.65" y="571.10" font-size="6.0" fill="#c27a2e" stroke="#c27a2e" stroke-width="0.12">L449F</text>
<text x="384.00" y="583.60" font-size="4.6" fill="#222" textLength="15" lengthAdjust="spacingAndGlyphs" >ENT (nM)</text>
<text x="408.20" y="583.60" font-size="4.8" fill="#222" text-anchor="middle" >0</text>
<text x="419.20" y="583.60" font-size="4.8" fill="#222" text-anchor="middle" >5</text>
<text x="430.00" y="583.60" font-size="4.8" fill="#222" text-anchor="middle" >25</text>
<text x="440.50" y="583.60" font-size="4.8" fill="#222" text-anchor="middle" >75</text>
<text x="450.50" y="583.60" font-size="4.8" fill="#222" text-anchor="middle" >100</text>
<text x="461.70" y="583.60" font-size="4.8" fill="#222" text-anchor="middle" >250</text>
<g filter="url(#bb)">
<rect x="401.90" y="585.80" width="65.10" height="7.60" fill="#c8c8c8" stroke="none" stroke-width="0" />
<rect x="402.55" y="587.75" width="9.55" height="2.50" rx="1.00" fill="#000" fill-opacity="0.66" filter="url(#b1)"/>
<rect x="413.40" y="587.75" width="9.55" height="2.50" rx="1.00" fill="#000" fill-opacity="0.08" filter="url(#b1)"/>
<rect x="424.25" y="587.75" width="9.55" height="2.50" rx="1.00" fill="#000" fill-opacity="0.05" filter="url(#b1)"/>
<rect x="435.10" y="587.75" width="9.55" height="2.50" rx="1.00" fill="#000" fill-opacity="0.05" filter="url(#b1)"/>
<rect x="445.95" y="587.75" width="9.55" height="2.50" rx="1.00" fill="#000" fill-opacity="0.05" filter="url(#b1)"/>
<rect x="456.80" y="587.75" width="9.55" height="2.50" rx="1.00" fill="#000" fill-opacity="0.05" filter="url(#b1)"/>
<rect x="401.90" y="585.80" width="65.10" height="7.60" fill="none" stroke="#7a7a7a" stroke-width="0.95" />
<rect x="401.90" y="594.30" width="65.10" height="10.40" fill="#cccccc" stroke="none" stroke-width="0" />
<rect x="402.55" y="596.00" width="9.55" height="2.20" rx="1.00" fill="#000" fill-opacity="0.57" filter="url(#b1)"/>
<rect x="413.40" y="596.00" width="9.55" height="2.20" rx="1.00" fill="#000" fill-opacity="0.43" filter="url(#b1)"/>
<rect x="424.25" y="596.00" width="9.55" height="2.20" rx="1.00" fill="#000" fill-opacity="0.43" filter="url(#b1)"/>
<rect x="435.10" y="596.00" width="9.55" height="2.20" rx="1.00" fill="#000" fill-opacity="0.43" filter="url(#b1)"/>
<rect x="445.95" y="596.00" width="9.55" height="2.20" rx="1.00" fill="#000" fill-opacity="0.43" filter="url(#b1)"/>
<rect x="456.80" y="596.00" width="9.55" height="2.20" rx="1.00" fill="#000" fill-opacity="0.33" filter="url(#b1)"/>
<rect x="402.55" y="599.55" width="9.55" height="2.10" rx="1.00" fill="#000" fill-opacity="0.62" filter="url(#b1)"/>
<rect x="413.40" y="599.55" width="9.55" height="2.10" rx="1.00" fill="#000" fill-opacity="0.47" filter="url(#b1)"/>
<rect x="424.25" y="599.55" width="9.55" height="2.10" rx="1.00" fill="#000" fill-opacity="0.47" filter="url(#b1)"/>
<rect x="435.10" y="599.55" width="9.55" height="2.10" rx="1.00" fill="#000" fill-opacity="0.47" filter="url(#b1)"/>
<rect x="445.95" y="599.55" width="9.55" height="2.10" rx="1.00" fill="#000" fill-opacity="0.43" filter="url(#b1)"/>
<rect x="456.80" y="599.55" width="9.55" height="2.10" rx="1.00" fill="#000" fill-opacity="0.33" filter="url(#b1)"/>
<rect x="401.90" y="594.30" width="65.10" height="10.40" fill="none" stroke="#7a7a7a" stroke-width="0.95" />
<rect x="401.90" y="605.40" width="65.10" height="8.10" fill="#d4d4d4" stroke="none" stroke-width="0" />
<rect x="402.55" y="608.35" width="9.55" height="3.10" rx="1.00" fill="#000" fill-opacity="0.95" filter="url(#b1)"/>
<rect x="413.40" y="608.35" width="9.55" height="1.70" rx="0.85" fill="#000" fill-opacity="0.57" filter="url(#b1)"/>
<rect x="424.25" y="608.35" width="9.55" height="1.70" rx="0.85" fill="#000" fill-opacity="0.57" filter="url(#b1)"/>
<rect x="435.10" y="608.35" width="9.55" height="1.70" rx="0.85" fill="#000" fill-opacity="0.62" filter="url(#b1)"/>
<rect x="445.95" y="608.35" width="9.55" height="1.70" rx="0.85" fill="#000" fill-opacity="0.62" filter="url(#b1)"/>
<rect x="456.80" y="608.35" width="9.55" height="1.70" rx="0.85" fill="#000" fill-opacity="0.47" filter="url(#b1)"/>
<rect x="401.90" y="605.40" width="65.10" height="8.10" fill="none" stroke="#7a7a7a" stroke-width="0.95" />
<rect x="401.90" y="614.20" width="65.10" height="6.90" fill="#cacaca" stroke="none" stroke-width="0" />
<rect x="402.55" y="617.20" width="9.55" height="2.20" rx="1.00" fill="#000" fill-opacity="0.90" filter="url(#b1)"/>
<rect x="413.40" y="617.20" width="9.55" height="2.20" rx="1.00" fill="#000" fill-opacity="0.85" filter="url(#b1)"/>
<rect x="424.25" y="617.20" width="9.55" height="2.20" rx="1.00" fill="#000" fill-opacity="0.66" filter="url(#b1)"/>
<rect x="435.10" y="617.20" width="9.55" height="2.20" rx="1.00" fill="#000" fill-opacity="0.57" filter="url(#b1)"/>
<rect x="445.95" y="617.20" width="9.55" height="2.20" rx="1.00" fill="#000" fill-opacity="0.62" filter="url(#b1)"/>
<rect x="456.80" y="617.20" width="9.55" height="2.20" rx="1.00" fill="#000" fill-opacity="0.47" filter="url(#b1)"/>
<rect x="401.90" y="614.20" width="65.10" height="6.90" fill="none" stroke="#7a7a7a" stroke-width="0.95" />
<rect x="401.90" y="622.00" width="65.10" height="7.60" fill="#d2d2d2" stroke="none" stroke-width="0" />
<rect x="402.55" y="623.55" width="9.55" height="1.70" rx="0.85" fill="#000" fill-opacity="0.85" filter="url(#b1)"/>
<rect x="413.40" y="623.55" width="9.55" height="1.70" rx="0.85" fill="#000" fill-opacity="0.47" filter="url(#b1)"/>
<rect x="424.25" y="623.55" width="9.55" height="1.70" rx="0.85" fill="#000" fill-opacity="0.10" filter="url(#b1)"/>
<rect x="435.10" y="623.55" width="9.55" height="1.70" rx="0.85" fill="#000" fill-opacity="0.47" filter="url(#b1)"/>
<rect x="445.95" y="623.55" width="9.55" height="1.70" rx="0.85" fill="#000" fill-opacity="0.43" filter="url(#b1)"/>
<rect x="456.80" y="623.55" width="9.55" height="1.70" rx="0.85" fill="#000" fill-opacity="0.43" filter="url(#b1)"/>
<rect x="402.55" y="626.00" width="9.55" height="2.00" rx="1.00" fill="#000" fill-opacity="0.90" filter="url(#b1)"/>
<rect x="413.40" y="626.00" width="9.55" height="2.00" rx="1.00" fill="#000" fill-opacity="0.57" filter="url(#b1)"/>
<rect x="424.25" y="626.00" width="9.55" height="2.00" rx="1.00" fill="#000" fill-opacity="0.11" filter="url(#b1)"/>
<rect x="435.10" y="626.00" width="9.55" height="2.00" rx="1.00" fill="#000" fill-opacity="0.76" filter="url(#b1)"/>
<rect x="445.95" y="626.00" width="9.55" height="2.00" rx="1.00" fill="#000" fill-opacity="0.76" filter="url(#b1)"/>
<rect x="456.80" y="626.00" width="9.55" height="2.00" rx="1.00" fill="#000" fill-opacity="0.57" filter="url(#b1)"/>
<rect x="401.90" y="622.00" width="65.10" height="7.60" fill="none" stroke="#7a7a7a" stroke-width="0.95" />
<rect x="401.90" y="630.80" width="65.10" height="5.70" fill="#dddddd" stroke="none" stroke-width="0" />
<rect x="402.17" y="632.80" width="10.31" height="2.00" rx="1.00" fill="#000" fill-opacity="0.85" filter="url(#b1)"/>
<rect x="413.02" y="632.80" width="10.31" height="2.00" rx="1.00" fill="#000" fill-opacity="0.85" filter="url(#b1)"/>
<rect x="423.87" y="632.80" width="10.31" height="2.00" rx="1.00" fill="#000" fill-opacity="0.85" filter="url(#b1)"/>
<rect x="434.72" y="632.80" width="10.31" height="2.00" rx="1.00" fill="#000" fill-opacity="0.85" filter="url(#b1)"/>
<rect x="445.57" y="632.80" width="10.31" height="2.00" rx="1.00" fill="#000" fill-opacity="0.85" filter="url(#b1)"/>
<rect x="456.42" y="632.80" width="10.31" height="2.00" rx="1.00" fill="#000" fill-opacity="0.85" filter="url(#b1)"/>
<rect x="401.90" y="630.80" width="65.10" height="5.70" fill="none" stroke="#7a7a7a" stroke-width="0.95" />
</g>
<text x="0" y="0" font-size="4.7" fill="#222" transform="translate(471.20 591.20) scale(0.87 1)" >p-TrkC (Tyr516)</text>
<text x="0" y="0" font-size="4.7" fill="#222" transform="translate(471.20 601.10) scale(0.87 1)" >Total TrkC</text>
<text x="0" y="0" font-size="4.7" fill="#222" transform="translate(471.20 611.05) scale(0.87 1)" >p-STAT3 (Tyr705)</text>
<text x="0" y="0" font-size="4.7" fill="#222" transform="translate(471.20 619.25) scale(0.87 1)" >p-AKT (Ser473)</text>
<text x="0" y="0" font-size="4.7" fill="#222" transform="translate(471.20 627.40) scale(0.87 1)" >p-ERK (Thr202/Tyr204)</text>
<text x="0" y="0" font-size="4.7" fill="#222" transform="translate(471.20 635.25) scale(0.87 1)" >GAPDH</text>
<rect x="0" y="0" width="520" height="1" fill="#000"/><rect x="0" y="0" width="1" height="644" fill="#000"/><rect x="519" y="0" width="1" height="644" fill="#000"/><rect x="0" y="643" width="520" height="1" fill="#000"/>
</svg>
</body></html>
